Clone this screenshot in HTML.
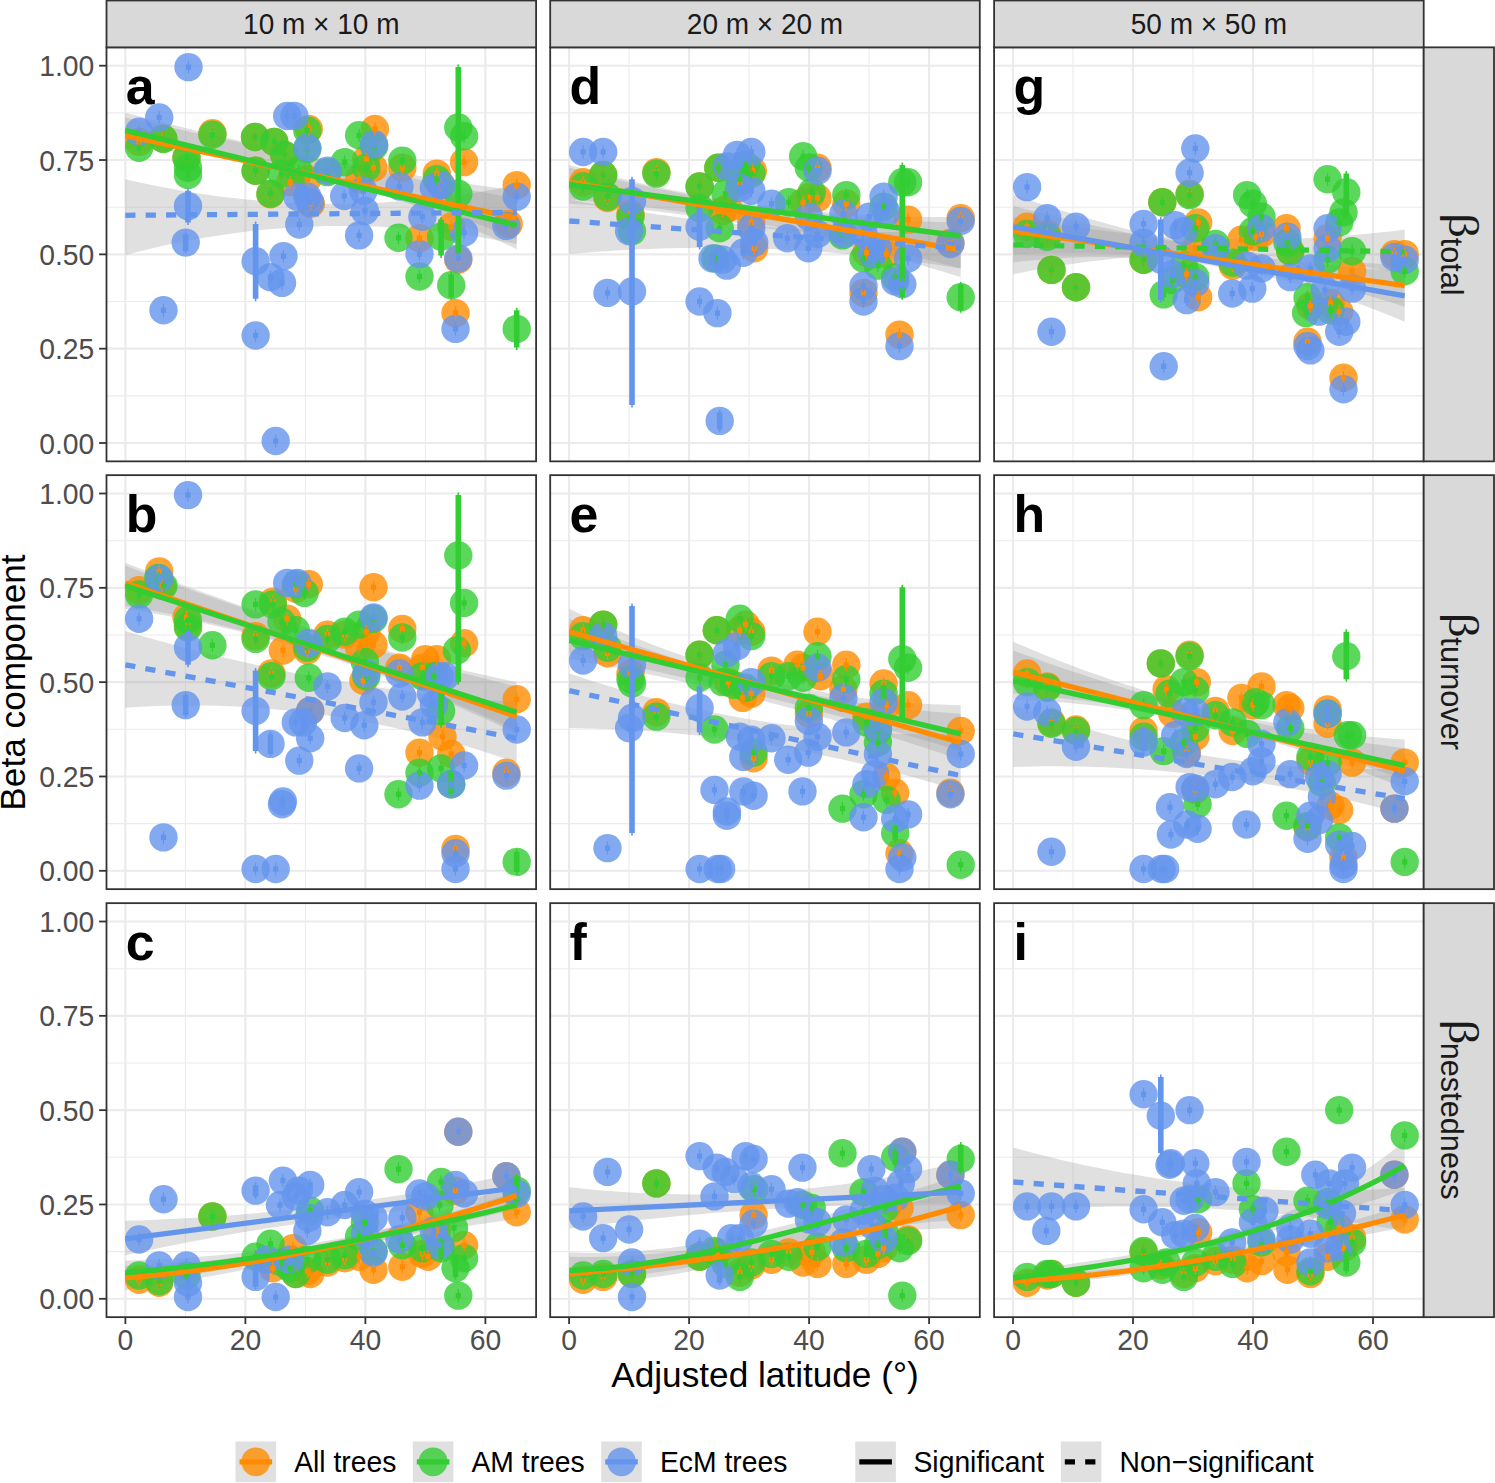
<!DOCTYPE html><html><head><meta charset="utf-8"><style>html,body{margin:0;padding:0;background:#fff;}svg{display:block;}</style></head><body><svg width="1495" height="1483" viewBox="0 0 1495 1483">
<rect width="1495" height="1483" fill="#fff"/>
<defs>
<clipPath id="cp00"><rect x="106.50" y="47.35" width="429.60" height="414.00"/></clipPath>
<clipPath id="cp01"><rect x="550.20" y="47.35" width="429.60" height="414.00"/></clipPath>
<clipPath id="cp02"><rect x="994.10" y="47.35" width="429.60" height="414.00"/></clipPath>
<clipPath id="cp10"><rect x="106.50" y="475.15" width="429.60" height="414.00"/></clipPath>
<clipPath id="cp11"><rect x="550.20" y="475.15" width="429.60" height="414.00"/></clipPath>
<clipPath id="cp12"><rect x="994.10" y="475.15" width="429.60" height="414.00"/></clipPath>
<clipPath id="cp20"><rect x="106.50" y="903.15" width="429.60" height="414.00"/></clipPath>
<clipPath id="cp21"><rect x="550.20" y="903.15" width="429.60" height="414.00"/></clipPath>
<clipPath id="cp22"><rect x="994.10" y="903.15" width="429.60" height="414.00"/></clipPath>
</defs>
<line x1="106.50" x2="536.10" y1="395.84" y2="395.84" stroke="#EBEBEB" stroke-width="1.07"/><line x1="106.50" x2="536.10" y1="301.51" y2="301.51" stroke="#EBEBEB" stroke-width="1.07"/><line x1="106.50" x2="536.10" y1="207.19" y2="207.19" stroke="#EBEBEB" stroke-width="1.07"/><line x1="106.50" x2="536.10" y1="112.86" y2="112.86" stroke="#EBEBEB" stroke-width="1.07"/><line y1="47.35" y2="461.35" x1="185.40" x2="185.40" stroke="#EBEBEB" stroke-width="1.07"/><line y1="47.35" y2="461.35" x1="305.40" x2="305.40" stroke="#EBEBEB" stroke-width="1.07"/><line y1="47.35" y2="461.35" x1="425.40" x2="425.40" stroke="#EBEBEB" stroke-width="1.07"/><line x1="106.50" x2="536.10" y1="443.00" y2="443.00" stroke="#EBEBEB" stroke-width="2.13"/><line x1="106.50" x2="536.10" y1="348.68" y2="348.68" stroke="#EBEBEB" stroke-width="2.13"/><line x1="106.50" x2="536.10" y1="254.35" y2="254.35" stroke="#EBEBEB" stroke-width="2.13"/><line x1="106.50" x2="536.10" y1="160.03" y2="160.03" stroke="#EBEBEB" stroke-width="2.13"/><line x1="106.50" x2="536.10" y1="65.70" y2="65.70" stroke="#EBEBEB" stroke-width="2.13"/><line y1="47.35" y2="461.35" x1="125.40" x2="125.40" stroke="#EBEBEB" stroke-width="2.13"/><line y1="47.35" y2="461.35" x1="245.40" x2="245.40" stroke="#EBEBEB" stroke-width="2.13"/><line y1="47.35" y2="461.35" x1="365.40" x2="365.40" stroke="#EBEBEB" stroke-width="2.13"/><line y1="47.35" y2="461.35" x1="485.40" x2="485.40" stroke="#EBEBEB" stroke-width="2.13"/>
<g clip-path="url(#cp00)">
<path d="M125.3,112.7 L135.3,115.3 L145.3,117.9 L155.4,120.5 L165.4,123.1 L175.5,125.6 L185.5,128.0 L195.5,130.5 L205.6,132.9 L215.6,135.2 L225.6,137.6 L235.7,139.9 L245.7,142.1 L255.8,144.4 L265.8,146.6 L275.8,148.7 L285.9,150.8 L295.9,152.9 L305.9,155.0 L316.0,157.0 L326.0,159.0 L336.1,161.0 L346.1,162.9 L356.1,164.8 L366.2,166.7 L376.2,168.5 L386.2,170.3 L396.3,172.0 L406.3,173.8 L416.4,175.5 L426.4,177.1 L436.4,178.7 L446.5,180.3 L456.5,181.9 L466.5,183.4 L476.6,184.9 L486.6,186.4 L496.7,187.8 L506.7,189.2 L516.7,190.5 L516.7,249.2 L506.7,244.4 L496.7,239.7 L486.6,235.1 L476.6,230.7 L466.5,226.3 L456.5,222.1 L446.5,218.0 L436.4,214.0 L426.4,210.2 L416.4,206.4 L406.3,202.8 L396.3,199.3 L386.2,195.9 L376.2,192.6 L366.2,189.4 L356.1,186.4 L346.1,183.4 L336.1,180.6 L326.0,177.9 L316.0,175.4 L305.9,172.9 L295.9,170.6 L285.9,168.3 L275.8,166.2 L265.8,164.2 L255.8,162.4 L245.7,160.6 L235.7,159.0 L225.6,157.5 L215.6,156.1 L205.6,154.8 L195.5,153.6 L185.5,152.5 L175.5,151.6 L165.4,150.8 L155.4,150.1 L145.3,149.5 L135.3,149.1 L125.3,148.7Z" fill="#999" fill-opacity="0.3"/>
<path d="M125.3,117.5 L135.3,119.7 L145.3,121.9 L155.4,124.1 L165.4,126.3 L175.5,128.5 L185.5,130.7 L195.5,132.9 L205.6,135.1 L215.6,137.2 L225.6,139.4 L235.7,141.5 L245.7,143.7 L255.8,145.8 L265.8,147.9 L275.8,150.0 L285.9,152.1 L295.9,154.2 L305.9,156.3 L316.0,158.4 L326.0,160.5 L336.1,162.6 L346.1,164.7 L356.1,166.7 L366.2,168.8 L376.2,170.8 L386.2,172.8 L396.3,174.9 L406.3,176.9 L416.4,178.9 L426.4,180.9 L436.4,182.9 L446.5,184.9 L456.5,186.9 L466.5,188.9 L476.6,190.9 L486.6,192.8 L496.7,194.8 L506.7,196.8 L516.7,198.7 L516.7,239.4 L506.7,235.2 L496.7,231.2 L486.6,227.3 L476.6,223.4 L466.5,219.6 L456.5,216.0 L446.5,212.4 L436.4,208.9 L426.4,205.4 L416.4,202.1 L406.3,198.9 L396.3,195.7 L386.2,192.6 L376.2,189.7 L366.2,186.8 L356.1,184.0 L346.1,181.3 L336.1,178.6 L326.0,176.1 L316.0,173.7 L305.9,171.3 L295.9,169.0 L285.9,166.9 L275.8,164.8 L265.8,162.8 L255.8,160.8 L245.7,159.0 L235.7,157.3 L225.6,155.6 L215.6,154.1 L205.6,152.6 L195.5,151.2 L185.5,149.9 L175.5,148.7 L165.4,147.6 L155.4,146.5 L145.3,145.6 L135.3,144.7 L125.3,144.0Z" fill="#999" fill-opacity="0.3"/>
<path d="M125.3,179.3 L135.3,181.6 L145.3,183.8 L155.4,185.8 L165.4,187.8 L175.5,189.6 L185.5,191.4 L195.5,193.0 L205.6,194.5 L215.6,195.9 L225.6,197.2 L235.7,198.3 L245.7,199.4 L255.8,200.3 L265.8,201.1 L275.8,201.9 L285.9,202.5 L295.9,202.9 L305.9,203.3 L316.0,203.6 L326.0,203.7 L336.1,203.8 L346.1,203.7 L356.1,203.5 L366.2,203.2 L376.2,202.8 L386.2,202.2 L396.3,201.6 L406.3,200.8 L416.4,200.0 L426.4,199.0 L436.4,197.9 L446.5,196.7 L456.5,195.4 L466.5,193.9 L476.6,192.4 L486.6,190.7 L496.7,189.0 L506.7,187.1 L516.7,185.1 L516.7,244.1 L506.7,242.1 L496.7,240.2 L486.6,238.3 L476.6,236.6 L466.5,235.1 L456.5,233.6 L446.5,232.3 L436.4,231.1 L426.4,230.0 L416.4,229.1 L406.3,228.3 L396.3,227.6 L386.2,227.0 L376.2,226.5 L366.2,226.2 L356.1,226.0 L346.1,225.9 L336.1,225.9 L326.0,226.1 L316.0,226.4 L305.9,226.8 L295.9,227.3 L285.9,227.9 L275.8,228.7 L265.8,229.6 L255.8,230.6 L245.7,231.8 L235.7,233.0 L225.6,234.4 L215.6,235.9 L205.6,237.6 L195.5,239.3 L185.5,241.2 L175.5,243.2 L165.4,245.3 L155.4,247.6 L145.3,250.0 L135.3,252.5 L125.3,255.1Z" fill="#999" fill-opacity="0.3"/>
<circle cx="255.0" cy="137.0" r="14.2" fill="#FF8C00" fill-opacity="0.8"/>
<circle cx="270.5" cy="194.3" r="14.2" fill="#FF8C00" fill-opacity="0.8"/>
<circle cx="458.3" cy="259.8" r="14.2" fill="#FF8C00" fill-opacity="0.8"/>
<circle cx="139.1" cy="141.9" r="14.2" fill="#FF8C00" fill-opacity="0.8"/>
<circle cx="162.9" cy="138.5" r="14.2" fill="#FF8C00" fill-opacity="0.8"/>
<circle cx="186.5" cy="157.7" r="14.2" fill="#FF8C00" fill-opacity="0.8"/>
<circle cx="212.4" cy="133.3" r="14.2" fill="#FF8C00" fill-opacity="0.8"/>
<circle cx="274.3" cy="141.9" r="14.2" fill="#FF8C00" fill-opacity="0.8"/>
<circle cx="284.3" cy="154.9" r="14.2" fill="#FF8C00" fill-opacity="0.8"/>
<circle cx="308.8" cy="129.0" r="14.2" fill="#FF8C00" fill-opacity="0.8"/>
<circle cx="290.1" cy="182.2" r="14.2" fill="#FF8C00" fill-opacity="0.8"/>
<circle cx="310.8" cy="203.8" r="14.2" fill="#FF8C00" fill-opacity="0.8"/>
<circle cx="374.9" cy="129.0" r="14.2" fill="#FF8C00" fill-opacity="0.8"/>
<circle cx="366.3" cy="159.2" r="14.2" fill="#FF8C00" fill-opacity="0.8"/>
<circle cx="373.5" cy="167.8" r="14.2" fill="#FF8C00" fill-opacity="0.8"/>
<circle cx="402.3" cy="167.8" r="14.2" fill="#FF8C00" fill-opacity="0.8"/>
<circle cx="419.5" cy="238.3" r="14.2" fill="#FF8C00" fill-opacity="0.8"/>
<circle cx="436.8" cy="173.6" r="14.2" fill="#FF8C00" fill-opacity="0.8"/>
<circle cx="464.1" cy="162.1" r="14.2" fill="#FF8C00" fill-opacity="0.8"/>
<circle cx="451.2" cy="226.8" r="14.2" fill="#FF8C00" fill-opacity="0.8"/>
<circle cx="455.5" cy="313.1" r="14.2" fill="#FF8C00" fill-opacity="0.8"/>
<circle cx="516.7" cy="185.1" r="14.2" fill="#FF8C00" fill-opacity="0.8"/>
<circle cx="508.7" cy="223.9" r="14.2" fill="#FF8C00" fill-opacity="0.8"/>
<circle cx="255.6" cy="170.7" r="14.2" fill="#FF8C00" fill-opacity="0.8"/>
<circle cx="307.3" cy="179.3" r="14.2" fill="#FF8C00" fill-opacity="0.8"/>
<circle cx="359.1" cy="179.3" r="14.2" fill="#FF8C00" fill-opacity="0.8"/>
<circle cx="441.1" cy="185.1" r="14.2" fill="#FF8C00" fill-opacity="0.8"/>
<circle cx="374.1" cy="146.2" r="14.2" fill="#32CD32" fill-opacity="0.8"/>
<circle cx="307.3" cy="149.1" r="14.2" fill="#32CD32" fill-opacity="0.8"/>
<circle cx="327.5" cy="172.1" r="14.2" fill="#32CD32" fill-opacity="0.8"/>
<circle cx="139.1" cy="147.7" r="14.2" fill="#32CD32" fill-opacity="0.8"/>
<circle cx="163.5" cy="139.0" r="14.2" fill="#32CD32" fill-opacity="0.8"/>
<circle cx="186.5" cy="157.7" r="14.2" fill="#32CD32" fill-opacity="0.8"/>
<circle cx="188.0" cy="167.8" r="14.2" fill="#32CD32" fill-opacity="0.8"/>
<circle cx="188.0" cy="175.0" r="14.2" fill="#32CD32" fill-opacity="0.8"/>
<circle cx="212.4" cy="134.7" r="14.2" fill="#32CD32" fill-opacity="0.8"/>
<circle cx="255.0" cy="137.0" r="14.2" fill="#32CD32" fill-opacity="0.8"/>
<circle cx="255.6" cy="170.7" r="14.2" fill="#32CD32" fill-opacity="0.8"/>
<circle cx="274.3" cy="141.9" r="14.2" fill="#32CD32" fill-opacity="0.8"/>
<circle cx="270.5" cy="193.7" r="14.2" fill="#32CD32" fill-opacity="0.8"/>
<circle cx="284.3" cy="154.9" r="14.2" fill="#32CD32" fill-opacity="0.8"/>
<circle cx="307.3" cy="130.4" r="14.2" fill="#32CD32" fill-opacity="0.8"/>
<circle cx="298.7" cy="170.7" r="14.2" fill="#32CD32" fill-opacity="0.8"/>
<circle cx="281.5" cy="173.6" r="14.2" fill="#32CD32" fill-opacity="0.8"/>
<circle cx="344.7" cy="162.1" r="14.2" fill="#32CD32" fill-opacity="0.8"/>
<circle cx="359.1" cy="135.3" r="14.2" fill="#32CD32" fill-opacity="0.8"/>
<circle cx="366.3" cy="167.8" r="14.2" fill="#32CD32" fill-opacity="0.8"/>
<circle cx="402.3" cy="160.6" r="14.2" fill="#32CD32" fill-opacity="0.8"/>
<circle cx="398.5" cy="237.7" r="14.2" fill="#32CD32" fill-opacity="0.8"/>
<circle cx="419.5" cy="276.5" r="14.2" fill="#32CD32" fill-opacity="0.8"/>
<circle cx="436.8" cy="179.3" r="14.2" fill="#32CD32" fill-opacity="0.8"/>
<circle cx="441.1" cy="236.8" r="14.2" fill="#32CD32" fill-opacity="0.8"/>
<circle cx="458.3" cy="127.5" r="14.2" fill="#32CD32" fill-opacity="0.8"/>
<circle cx="464.1" cy="136.2" r="14.2" fill="#32CD32" fill-opacity="0.8"/>
<circle cx="458.3" cy="193.7" r="14.2" fill="#32CD32" fill-opacity="0.8"/>
<circle cx="451.2" cy="285.2" r="14.2" fill="#32CD32" fill-opacity="0.8"/>
<circle cx="516.7" cy="328.9" r="14.2" fill="#32CD32" fill-opacity="0.8"/>
<circle cx="139.1" cy="131.8" r="14.2" fill="#6495ED" fill-opacity="0.8"/>
<circle cx="159.2" cy="117.5" r="14.2" fill="#6495ED" fill-opacity="0.8"/>
<circle cx="188.5" cy="67.1" r="14.2" fill="#6495ED" fill-opacity="0.8"/>
<circle cx="188.0" cy="206.1" r="14.2" fill="#6495ED" fill-opacity="0.8"/>
<circle cx="185.7" cy="242.6" r="14.2" fill="#6495ED" fill-opacity="0.8"/>
<circle cx="163.5" cy="310.2" r="14.2" fill="#6495ED" fill-opacity="0.8"/>
<circle cx="255.6" cy="261.3" r="14.2" fill="#6495ED" fill-opacity="0.8"/>
<circle cx="255.6" cy="335.5" r="14.2" fill="#6495ED" fill-opacity="0.8"/>
<circle cx="270.5" cy="277.1" r="14.2" fill="#6495ED" fill-opacity="0.8"/>
<circle cx="275.7" cy="441.0" r="14.2" fill="#6495ED" fill-opacity="0.8"/>
<circle cx="287.2" cy="116.0" r="14.2" fill="#6495ED" fill-opacity="0.8"/>
<circle cx="294.4" cy="116.0" r="14.2" fill="#6495ED" fill-opacity="0.8"/>
<circle cx="283.5" cy="256.1" r="14.2" fill="#6495ED" fill-opacity="0.8"/>
<circle cx="282.0" cy="282.9" r="14.2" fill="#6495ED" fill-opacity="0.8"/>
<circle cx="307.3" cy="147.7" r="14.2" fill="#6495ED" fill-opacity="0.8"/>
<circle cx="297.3" cy="196.6" r="14.2" fill="#6495ED" fill-opacity="0.8"/>
<circle cx="307.3" cy="196.6" r="14.2" fill="#6495ED" fill-opacity="0.8"/>
<circle cx="310.2" cy="202.3" r="14.2" fill="#6495ED" fill-opacity="0.8"/>
<circle cx="299.3" cy="224.5" r="14.2" fill="#6495ED" fill-opacity="0.8"/>
<circle cx="327.5" cy="170.7" r="14.2" fill="#6495ED" fill-opacity="0.8"/>
<circle cx="344.2" cy="196.0" r="14.2" fill="#6495ED" fill-opacity="0.8"/>
<circle cx="374.1" cy="144.2" r="14.2" fill="#6495ED" fill-opacity="0.8"/>
<circle cx="363.4" cy="190.8" r="14.2" fill="#6495ED" fill-opacity="0.8"/>
<circle cx="364.9" cy="210.9" r="14.2" fill="#6495ED" fill-opacity="0.8"/>
<circle cx="359.1" cy="235.4" r="14.2" fill="#6495ED" fill-opacity="0.8"/>
<circle cx="399.4" cy="186.5" r="14.2" fill="#6495ED" fill-opacity="0.8"/>
<circle cx="422.4" cy="216.7" r="14.2" fill="#6495ED" fill-opacity="0.8"/>
<circle cx="419.5" cy="254.1" r="14.2" fill="#6495ED" fill-opacity="0.8"/>
<circle cx="433.9" cy="187.9" r="14.2" fill="#6495ED" fill-opacity="0.8"/>
<circle cx="441.1" cy="185.1" r="14.2" fill="#6495ED" fill-opacity="0.8"/>
<circle cx="464.1" cy="232.5" r="14.2" fill="#6495ED" fill-opacity="0.8"/>
<circle cx="458.3" cy="258.4" r="14.2" fill="#6495ED" fill-opacity="0.8"/>
<circle cx="455.5" cy="328.9" r="14.2" fill="#6495ED" fill-opacity="0.8"/>
<circle cx="516.7" cy="196.6" r="14.2" fill="#6495ED" fill-opacity="0.8"/>
<circle cx="506.4" cy="225.9" r="14.2" fill="#6495ED" fill-opacity="0.8"/>
<path d="M255.0,130.5V143.5" stroke="#FF8C00" stroke-width="1.2"/><rect x="252.4" y="134.3" width="5.2" height="5.4" fill="#FF8C00"/>
<path d="M270.5,187.8V200.8" stroke="#FF8C00" stroke-width="1.2"/><rect x="267.9" y="191.6" width="5.2" height="5.4" fill="#FF8C00"/>
<path d="M458.3,253.3V266.3" stroke="#FF8C00" stroke-width="1.2"/><rect x="455.7" y="257.1" width="5.2" height="5.4" fill="#FF8C00"/>
<path d="M139.1,135.4V148.4" stroke="#FF8C00" stroke-width="1.2"/><rect x="136.5" y="139.2" width="5.2" height="5.4" fill="#FF8C00"/>
<path d="M162.9,132.0V145.0" stroke="#FF8C00" stroke-width="1.2"/><rect x="160.3" y="135.8" width="5.2" height="5.4" fill="#FF8C00"/>
<path d="M186.5,151.2V164.2" stroke="#FF8C00" stroke-width="1.2"/><rect x="183.9" y="155.0" width="5.2" height="5.4" fill="#FF8C00"/>
<path d="M212.4,126.8V139.8" stroke="#FF8C00" stroke-width="1.2"/><rect x="209.8" y="130.6" width="5.2" height="5.4" fill="#FF8C00"/>
<path d="M274.3,135.4V148.4" stroke="#FF8C00" stroke-width="1.2"/><rect x="271.7" y="139.2" width="5.2" height="5.4" fill="#FF8C00"/>
<path d="M284.3,148.4V161.4" stroke="#FF8C00" stroke-width="1.2"/><rect x="281.7" y="152.2" width="5.2" height="5.4" fill="#FF8C00"/>
<path d="M308.8,122.5V135.5" stroke="#FF8C00" stroke-width="1.2"/><rect x="306.2" y="126.3" width="5.2" height="5.4" fill="#FF8C00"/>
<path d="M290.1,175.7V188.7" stroke="#FF8C00" stroke-width="1.2"/><rect x="287.5" y="179.5" width="5.2" height="5.4" fill="#FF8C00"/>
<path d="M310.8,197.3V210.3" stroke="#FF8C00" stroke-width="1.2"/><rect x="308.2" y="201.1" width="5.2" height="5.4" fill="#FF8C00"/>
<path d="M374.9,122.5V135.5" stroke="#FF8C00" stroke-width="1.2"/><rect x="372.3" y="126.3" width="5.2" height="5.4" fill="#FF8C00"/>
<path d="M366.3,152.7V165.7" stroke="#FF8C00" stroke-width="1.2"/><rect x="363.7" y="156.5" width="5.2" height="5.4" fill="#FF8C00"/>
<path d="M373.5,161.3V174.3" stroke="#FF8C00" stroke-width="1.2"/><rect x="370.9" y="165.1" width="5.2" height="5.4" fill="#FF8C00"/>
<path d="M402.3,161.3V174.3" stroke="#FF8C00" stroke-width="1.2"/><rect x="399.7" y="165.1" width="5.2" height="5.4" fill="#FF8C00"/>
<path d="M419.5,231.8V244.8" stroke="#FF8C00" stroke-width="1.2"/><rect x="416.9" y="235.6" width="5.2" height="5.4" fill="#FF8C00"/>
<path d="M436.8,167.1V180.1" stroke="#FF8C00" stroke-width="1.2"/><rect x="434.2" y="170.9" width="5.2" height="5.4" fill="#FF8C00"/>
<path d="M464.1,155.6V168.6" stroke="#FF8C00" stroke-width="1.2"/><rect x="461.5" y="159.4" width="5.2" height="5.4" fill="#FF8C00"/>
<path d="M451.2,220.3V233.3" stroke="#FF8C00" stroke-width="1.2"/><rect x="448.6" y="224.1" width="5.2" height="5.4" fill="#FF8C00"/>
<path d="M455.5,306.6V319.6" stroke="#FF8C00" stroke-width="1.2"/><rect x="452.9" y="310.4" width="5.2" height="5.4" fill="#FF8C00"/>
<path d="M516.7,178.6V191.6" stroke="#FF8C00" stroke-width="1.2"/><rect x="514.1" y="182.4" width="5.2" height="5.4" fill="#FF8C00"/>
<path d="M508.7,217.4V230.4" stroke="#FF8C00" stroke-width="1.2"/><rect x="506.1" y="221.2" width="5.2" height="5.4" fill="#FF8C00"/>
<path d="M255.6,164.2V177.2" stroke="#FF8C00" stroke-width="1.2"/><rect x="253.0" y="168.0" width="5.2" height="5.4" fill="#FF8C00"/>
<path d="M307.3,172.8V185.8" stroke="#FF8C00" stroke-width="1.2"/><rect x="304.7" y="176.6" width="5.2" height="5.4" fill="#FF8C00"/>
<path d="M359.1,172.8V185.8" stroke="#FF8C00" stroke-width="1.2"/><rect x="356.5" y="176.6" width="5.2" height="5.4" fill="#FF8C00"/>
<path d="M441.1,178.6V191.6" stroke="#FF8C00" stroke-width="1.2"/><rect x="438.5" y="182.4" width="5.2" height="5.4" fill="#FF8C00"/>
<path d="M374.1,139.7V152.7" stroke="#32CD32" stroke-width="1.2"/><rect x="371.5" y="143.5" width="5.2" height="5.4" fill="#32CD32"/>
<path d="M307.3,142.6V155.6" stroke="#32CD32" stroke-width="1.2"/><rect x="304.7" y="146.4" width="5.2" height="5.4" fill="#32CD32"/>
<path d="M327.5,165.6V178.6" stroke="#32CD32" stroke-width="1.2"/><rect x="324.9" y="169.4" width="5.2" height="5.4" fill="#32CD32"/>
<path d="M139.1,141.2V154.2" stroke="#32CD32" stroke-width="1.2"/><rect x="136.5" y="145.0" width="5.2" height="5.4" fill="#32CD32"/>
<path d="M163.5,132.5V145.5" stroke="#32CD32" stroke-width="1.2"/><rect x="160.9" y="136.3" width="5.2" height="5.4" fill="#32CD32"/>
<path d="M186.5,151.2V164.2" stroke="#32CD32" stroke-width="1.2"/><rect x="183.9" y="155.0" width="5.2" height="5.4" fill="#32CD32"/>
<path d="M188.0,161.3V174.3" stroke="#32CD32" stroke-width="1.2"/><rect x="185.4" y="165.1" width="5.2" height="5.4" fill="#32CD32"/>
<path d="M188.0,168.5V181.5" stroke="#32CD32" stroke-width="1.2"/><rect x="185.4" y="172.3" width="5.2" height="5.4" fill="#32CD32"/>
<path d="M212.4,128.2V141.2" stroke="#32CD32" stroke-width="1.2"/><rect x="209.8" y="132.0" width="5.2" height="5.4" fill="#32CD32"/>
<path d="M255.0,130.5V143.5" stroke="#32CD32" stroke-width="1.2"/><rect x="252.4" y="134.3" width="5.2" height="5.4" fill="#32CD32"/>
<path d="M255.6,164.2V177.2" stroke="#32CD32" stroke-width="1.2"/><rect x="253.0" y="168.0" width="5.2" height="5.4" fill="#32CD32"/>
<path d="M274.3,135.4V148.4" stroke="#32CD32" stroke-width="1.2"/><rect x="271.7" y="139.2" width="5.2" height="5.4" fill="#32CD32"/>
<path d="M270.5,187.2V200.2" stroke="#32CD32" stroke-width="1.2"/><rect x="267.9" y="191.0" width="5.2" height="5.4" fill="#32CD32"/>
<path d="M284.3,148.4V161.4" stroke="#32CD32" stroke-width="1.2"/><rect x="281.7" y="152.2" width="5.2" height="5.4" fill="#32CD32"/>
<path d="M307.3,123.9V136.9" stroke="#32CD32" stroke-width="1.2"/><rect x="304.7" y="127.7" width="5.2" height="5.4" fill="#32CD32"/>
<path d="M298.7,164.2V177.2" stroke="#32CD32" stroke-width="1.2"/><rect x="296.1" y="168.0" width="5.2" height="5.4" fill="#32CD32"/>
<path d="M281.5,167.1V180.1" stroke="#32CD32" stroke-width="1.2"/><rect x="278.9" y="170.9" width="5.2" height="5.4" fill="#32CD32"/>
<path d="M344.7,155.6V168.6" stroke="#32CD32" stroke-width="1.2"/><rect x="342.1" y="159.4" width="5.2" height="5.4" fill="#32CD32"/>
<path d="M359.1,128.8V141.8" stroke="#32CD32" stroke-width="1.2"/><rect x="356.5" y="132.6" width="5.2" height="5.4" fill="#32CD32"/>
<path d="M366.3,161.3V174.3" stroke="#32CD32" stroke-width="1.2"/><rect x="363.7" y="165.1" width="5.2" height="5.4" fill="#32CD32"/>
<path d="M402.3,154.1V167.1" stroke="#32CD32" stroke-width="1.2"/><rect x="399.7" y="157.9" width="5.2" height="5.4" fill="#32CD32"/>
<path d="M398.5,231.2V244.2" stroke="#32CD32" stroke-width="1.2"/><rect x="395.9" y="235.0" width="5.2" height="5.4" fill="#32CD32"/>
<path d="M419.5,270.0V283.0" stroke="#32CD32" stroke-width="1.2"/><rect x="416.9" y="273.8" width="5.2" height="5.4" fill="#32CD32"/>
<path d="M436.8,172.8V185.8" stroke="#32CD32" stroke-width="1.2"/><rect x="434.2" y="176.6" width="5.2" height="5.4" fill="#32CD32"/>
<line x1="441.1" x2="441.1" y1="217.1" y2="258.0" stroke="#32CD32" stroke-width="1.6"/>
<line x1="441.1" x2="441.1" y1="219.6" y2="255.5" stroke="#32CD32" stroke-width="5.6"/>
<line x1="458.3" x2="458.3" y1="64.6" y2="256.6" stroke="#32CD32" stroke-width="1.6"/>
<line x1="458.3" x2="458.3" y1="67.1" y2="254.1" stroke="#32CD32" stroke-width="5.6"/>
<path d="M464.1,129.7V142.7" stroke="#32CD32" stroke-width="1.2"/><rect x="461.5" y="133.5" width="5.2" height="5.4" fill="#32CD32"/>
<path d="M458.3,187.2V200.2" stroke="#32CD32" stroke-width="1.2"/><rect x="455.7" y="191.0" width="5.2" height="5.4" fill="#32CD32"/>
<line x1="451.2" x2="451.2" y1="271.7" y2="299.7" stroke="#32CD32" stroke-width="1.6"/>
<line x1="451.2" x2="451.2" y1="274.2" y2="297.2" stroke="#32CD32" stroke-width="5.6"/>
<line x1="516.7" x2="516.7" y1="307.7" y2="350.1" stroke="#32CD32" stroke-width="1.6"/>
<line x1="516.7" x2="516.7" y1="310.2" y2="347.6" stroke="#32CD32" stroke-width="5.6"/>
<path d="M139.1,125.3V138.3" stroke="#6495ED" stroke-width="1.2"/><rect x="136.5" y="129.1" width="5.2" height="5.4" fill="#6495ED"/>
<path d="M159.2,111.0V124.0" stroke="#6495ED" stroke-width="1.2"/><rect x="156.6" y="114.8" width="5.2" height="5.4" fill="#6495ED"/>
<path d="M188.5,60.6V73.6" stroke="#6495ED" stroke-width="1.2"/><rect x="185.9" y="64.4" width="5.2" height="5.4" fill="#6495ED"/>
<line x1="188.0" x2="188.0" y1="188.3" y2="225.0" stroke="#6495ED" stroke-width="1.6"/>
<line x1="188.0" x2="188.0" y1="190.8" y2="222.5" stroke="#6495ED" stroke-width="5.6"/>
<line x1="185.7" x2="185.7" y1="231.5" y2="253.7" stroke="#6495ED" stroke-width="1.6"/>
<line x1="185.7" x2="185.7" y1="234.0" y2="251.2" stroke="#6495ED" stroke-width="5.6"/>
<path d="M163.5,303.7V316.7" stroke="#6495ED" stroke-width="1.2"/><rect x="160.9" y="307.5" width="5.2" height="5.4" fill="#6495ED"/>
<line x1="255.6" x2="255.6" y1="221.4" y2="301.2" stroke="#6495ED" stroke-width="1.6"/>
<line x1="255.6" x2="255.6" y1="223.9" y2="298.7" stroke="#6495ED" stroke-width="5.6"/>
<path d="M255.6,329.0V342.0" stroke="#6495ED" stroke-width="1.2"/><rect x="253.0" y="332.8" width="5.2" height="5.4" fill="#6495ED"/>
<path d="M270.5,270.6V283.6" stroke="#6495ED" stroke-width="1.2"/><rect x="267.9" y="274.4" width="5.2" height="5.4" fill="#6495ED"/>
<path d="M275.7,434.5V447.5" stroke="#6495ED" stroke-width="1.2"/><rect x="273.1" y="438.3" width="5.2" height="5.4" fill="#6495ED"/>
<path d="M287.2,109.5V122.5" stroke="#6495ED" stroke-width="1.2"/><rect x="284.6" y="113.3" width="5.2" height="5.4" fill="#6495ED"/>
<path d="M294.4,109.5V122.5" stroke="#6495ED" stroke-width="1.2"/><rect x="291.8" y="113.3" width="5.2" height="5.4" fill="#6495ED"/>
<path d="M283.5,249.6V262.6" stroke="#6495ED" stroke-width="1.2"/><rect x="280.9" y="253.4" width="5.2" height="5.4" fill="#6495ED"/>
<path d="M282.0,276.4V289.4" stroke="#6495ED" stroke-width="1.2"/><rect x="279.4" y="280.2" width="5.2" height="5.4" fill="#6495ED"/>
<path d="M307.3,141.2V154.2" stroke="#6495ED" stroke-width="1.2"/><rect x="304.7" y="145.0" width="5.2" height="5.4" fill="#6495ED"/>
<path d="M297.3,190.1V203.1" stroke="#6495ED" stroke-width="1.2"/><rect x="294.7" y="193.9" width="5.2" height="5.4" fill="#6495ED"/>
<path d="M307.3,190.1V203.1" stroke="#6495ED" stroke-width="1.2"/><rect x="304.7" y="193.9" width="5.2" height="5.4" fill="#6495ED"/>
<path d="M310.2,195.8V208.8" stroke="#6495ED" stroke-width="1.2"/><rect x="307.6" y="199.6" width="5.2" height="5.4" fill="#6495ED"/>
<path d="M299.3,218.0V231.0" stroke="#6495ED" stroke-width="1.2"/><rect x="296.7" y="221.8" width="5.2" height="5.4" fill="#6495ED"/>
<path d="M327.5,164.2V177.2" stroke="#6495ED" stroke-width="1.2"/><rect x="324.9" y="168.0" width="5.2" height="5.4" fill="#6495ED"/>
<path d="M344.2,189.5V202.5" stroke="#6495ED" stroke-width="1.2"/><rect x="341.6" y="193.3" width="5.2" height="5.4" fill="#6495ED"/>
<path d="M374.1,137.7V150.7" stroke="#6495ED" stroke-width="1.2"/><rect x="371.5" y="141.5" width="5.2" height="5.4" fill="#6495ED"/>
<path d="M363.4,184.3V197.3" stroke="#6495ED" stroke-width="1.2"/><rect x="360.8" y="188.1" width="5.2" height="5.4" fill="#6495ED"/>
<path d="M364.9,204.4V217.4" stroke="#6495ED" stroke-width="1.2"/><rect x="362.3" y="208.2" width="5.2" height="5.4" fill="#6495ED"/>
<path d="M359.1,228.9V241.9" stroke="#6495ED" stroke-width="1.2"/><rect x="356.5" y="232.7" width="5.2" height="5.4" fill="#6495ED"/>
<path d="M399.4,180.0V193.0" stroke="#6495ED" stroke-width="1.2"/><rect x="396.8" y="183.8" width="5.2" height="5.4" fill="#6495ED"/>
<path d="M422.4,210.2V223.2" stroke="#6495ED" stroke-width="1.2"/><rect x="419.8" y="214.0" width="5.2" height="5.4" fill="#6495ED"/>
<path d="M419.5,247.6V260.6" stroke="#6495ED" stroke-width="1.2"/><rect x="416.9" y="251.4" width="5.2" height="5.4" fill="#6495ED"/>
<path d="M433.9,181.4V194.4" stroke="#6495ED" stroke-width="1.2"/><rect x="431.3" y="185.2" width="5.2" height="5.4" fill="#6495ED"/>
<path d="M441.1,178.6V191.6" stroke="#6495ED" stroke-width="1.2"/><rect x="438.5" y="182.4" width="5.2" height="5.4" fill="#6495ED"/>
<path d="M464.1,226.0V239.0" stroke="#6495ED" stroke-width="1.2"/><rect x="461.5" y="229.8" width="5.2" height="5.4" fill="#6495ED"/>
<path d="M458.3,251.9V264.9" stroke="#6495ED" stroke-width="1.2"/><rect x="455.7" y="255.7" width="5.2" height="5.4" fill="#6495ED"/>
<path d="M455.5,322.4V335.4" stroke="#6495ED" stroke-width="1.2"/><rect x="452.9" y="326.2" width="5.2" height="5.4" fill="#6495ED"/>
<path d="M516.7,190.1V203.1" stroke="#6495ED" stroke-width="1.2"/><rect x="514.1" y="193.9" width="5.2" height="5.4" fill="#6495ED"/>
<path d="M506.4,219.4V232.4" stroke="#6495ED" stroke-width="1.2"/><rect x="503.8" y="223.2" width="5.2" height="5.4" fill="#6495ED"/>
<path d="M125.3,135.6 L516.7,218.1" fill="none" stroke="#FF8C00" stroke-width="5.3"/>
<path d="M125.3,130.4 L516.7,225.3" fill="none" stroke="#32CD32" stroke-width="5.3"/>
<path d="M125.3,215.3 L516.7,212.4" fill="none" stroke="#6495ED" stroke-width="5.3" stroke-dasharray="10.2,10.2"/>
</g>
<text x="125.8" y="104.4" font-family='"Liberation Sans", sans-serif' font-weight="bold" font-size="51.8" fill="#000">a</text>
<rect x="106.50" y="47.35" width="429.60" height="414.00" fill="none" stroke="#333" stroke-width="1.8"/>
<line x1="550.20" x2="979.80" y1="395.84" y2="395.84" stroke="#EBEBEB" stroke-width="1.07"/><line x1="550.20" x2="979.80" y1="301.51" y2="301.51" stroke="#EBEBEB" stroke-width="1.07"/><line x1="550.20" x2="979.80" y1="207.19" y2="207.19" stroke="#EBEBEB" stroke-width="1.07"/><line x1="550.20" x2="979.80" y1="112.86" y2="112.86" stroke="#EBEBEB" stroke-width="1.07"/><line y1="47.35" y2="461.35" x1="629.10" x2="629.10" stroke="#EBEBEB" stroke-width="1.07"/><line y1="47.35" y2="461.35" x1="749.10" x2="749.10" stroke="#EBEBEB" stroke-width="1.07"/><line y1="47.35" y2="461.35" x1="869.10" x2="869.10" stroke="#EBEBEB" stroke-width="1.07"/><line x1="550.20" x2="979.80" y1="443.00" y2="443.00" stroke="#EBEBEB" stroke-width="2.13"/><line x1="550.20" x2="979.80" y1="348.68" y2="348.68" stroke="#EBEBEB" stroke-width="2.13"/><line x1="550.20" x2="979.80" y1="254.35" y2="254.35" stroke="#EBEBEB" stroke-width="2.13"/><line x1="550.20" x2="979.80" y1="160.03" y2="160.03" stroke="#EBEBEB" stroke-width="2.13"/><line x1="550.20" x2="979.80" y1="65.70" y2="65.70" stroke="#EBEBEB" stroke-width="2.13"/><line y1="47.35" y2="461.35" x1="569.10" x2="569.10" stroke="#EBEBEB" stroke-width="2.13"/><line y1="47.35" y2="461.35" x1="689.10" x2="689.10" stroke="#EBEBEB" stroke-width="2.13"/><line y1="47.35" y2="461.35" x1="809.10" x2="809.10" stroke="#EBEBEB" stroke-width="2.13"/><line y1="47.35" y2="461.35" x1="929.10" x2="929.10" stroke="#EBEBEB" stroke-width="2.13"/>
<g clip-path="url(#cp01)">
<path d="M569.3,164.9 L579.3,167.7 L589.3,170.5 L599.4,173.1 L609.4,175.7 L619.5,178.2 L629.5,180.6 L639.5,183.0 L649.6,185.2 L659.6,187.4 L669.6,189.5 L679.7,191.5 L689.7,193.5 L699.8,195.4 L709.8,197.2 L719.8,198.9 L729.9,200.5 L739.9,202.1 L749.9,203.6 L760.0,205.0 L770.0,206.3 L780.1,207.5 L790.1,208.7 L800.1,209.8 L810.2,210.8 L820.2,211.8 L830.2,212.6 L840.3,213.4 L850.3,214.1 L860.4,214.7 L870.4,215.3 L880.4,215.7 L890.5,216.1 L900.5,216.5 L910.5,216.7 L920.6,216.8 L930.6,216.9 L940.7,216.9 L950.7,216.9 L960.7,216.7 L960.7,277.1 L950.7,274.0 L940.7,270.9 L930.6,267.9 L920.6,264.9 L910.5,262.1 L900.5,259.3 L890.5,256.5 L880.4,253.8 L870.4,251.2 L860.4,248.7 L850.3,246.2 L840.3,243.8 L830.2,241.5 L820.2,239.2 L810.2,237.0 L800.1,234.8 L790.1,232.7 L780.1,230.7 L770.0,228.8 L760.0,226.9 L749.9,225.1 L739.9,223.3 L729.9,221.6 L719.8,220.0 L709.8,218.5 L699.8,217.0 L689.7,215.6 L679.7,214.2 L669.6,213.0 L659.6,211.7 L649.6,210.6 L639.5,209.5 L629.5,208.5 L619.5,207.5 L609.4,206.6 L599.4,205.8 L589.3,205.1 L579.3,204.4 L569.3,203.8Z" fill="#999" fill-opacity="0.3"/>
<path d="M569.3,167.8 L579.3,170.4 L589.3,172.9 L599.4,175.4 L609.4,177.8 L619.5,180.2 L629.5,182.5 L639.5,184.7 L649.6,186.9 L659.6,189.0 L669.6,191.0 L679.7,193.0 L689.7,194.9 L699.8,196.7 L709.8,198.5 L719.8,200.2 L729.9,201.9 L739.9,203.5 L749.9,205.0 L760.0,206.5 L770.0,207.9 L780.1,209.2 L790.1,210.5 L800.1,211.7 L810.2,212.8 L820.2,213.9 L830.2,214.9 L840.3,215.9 L850.3,216.8 L860.4,217.6 L870.4,218.4 L880.4,219.1 L890.5,219.7 L900.5,220.3 L910.5,220.8 L920.6,221.3 L930.6,221.7 L940.7,222.0 L950.7,222.3 L960.7,222.5 L960.7,268.5 L950.7,265.8 L940.7,263.2 L930.6,260.6 L920.6,258.0 L910.5,255.5 L900.5,253.1 L890.5,250.7 L880.4,248.4 L870.4,246.1 L860.4,243.8 L850.3,241.6 L840.3,239.4 L830.2,237.3 L820.2,235.3 L810.2,233.3 L800.1,231.3 L790.1,229.4 L780.1,227.5 L770.0,225.7 L760.0,223.9 L749.9,222.2 L739.9,220.5 L729.9,218.9 L719.8,217.3 L709.8,215.8 L699.8,214.3 L689.7,212.9 L679.7,211.5 L669.6,210.2 L659.6,208.9 L649.6,207.6 L639.5,206.4 L629.5,205.3 L619.5,204.2 L609.4,203.2 L599.4,202.2 L589.3,201.2 L579.3,200.3 L569.3,199.4Z" fill="#999" fill-opacity="0.3"/>
<path d="M569.3,199.4 L579.3,201.4 L589.3,203.2 L599.4,205.1 L609.4,206.8 L619.5,208.5 L629.5,210.2 L639.5,211.7 L649.6,213.3 L659.6,214.7 L669.6,216.1 L679.7,217.5 L689.7,218.7 L699.8,220.0 L709.8,221.1 L719.8,222.2 L729.9,223.3 L739.9,224.3 L749.9,225.2 L760.0,226.1 L770.0,226.9 L780.1,227.6 L790.1,228.3 L800.1,229.0 L810.2,229.5 L820.2,230.1 L830.2,230.5 L840.3,230.9 L850.3,231.2 L860.4,231.5 L870.4,231.7 L880.4,231.9 L890.5,232.0 L900.5,232.1 L910.5,232.0 L920.6,232.0 L930.6,231.8 L940.7,231.6 L950.7,231.4 L960.7,231.1 L960.7,268.5 L950.7,266.9 L940.7,265.3 L930.6,263.8 L920.6,262.4 L910.5,261.0 L900.5,259.7 L890.5,258.5 L880.4,257.4 L870.4,256.3 L860.4,255.2 L850.3,254.3 L840.3,253.4 L830.2,252.6 L820.2,251.8 L810.2,251.1 L800.1,250.5 L790.1,249.9 L780.1,249.4 L770.0,249.0 L760.0,248.6 L749.9,248.3 L739.9,248.1 L729.9,247.9 L719.8,247.8 L709.8,247.7 L699.8,247.8 L689.7,247.9 L679.7,248.0 L669.6,248.2 L659.6,248.5 L649.6,248.9 L639.5,249.3 L629.5,249.8 L619.5,250.3 L609.4,251.0 L599.4,251.6 L589.3,252.4 L579.3,253.2 L569.3,254.1Z" fill="#999" fill-opacity="0.3"/>
<circle cx="583.1" cy="182.2" r="14.2" fill="#FF8C00" fill-opacity="0.8"/>
<circle cx="603.2" cy="175.0" r="14.2" fill="#FF8C00" fill-opacity="0.8"/>
<circle cx="607.5" cy="198.0" r="14.2" fill="#FF8C00" fill-opacity="0.8"/>
<circle cx="656.4" cy="172.1" r="14.2" fill="#FF8C00" fill-opacity="0.8"/>
<circle cx="630.5" cy="213.8" r="14.2" fill="#FF8C00" fill-opacity="0.8"/>
<circle cx="699.6" cy="186.5" r="14.2" fill="#FF8C00" fill-opacity="0.8"/>
<circle cx="718.3" cy="167.8" r="14.2" fill="#FF8C00" fill-opacity="0.8"/>
<circle cx="752.8" cy="170.7" r="14.2" fill="#FF8C00" fill-opacity="0.8"/>
<circle cx="739.8" cy="182.2" r="14.2" fill="#FF8C00" fill-opacity="0.8"/>
<circle cx="722.6" cy="210.9" r="14.2" fill="#FF8C00" fill-opacity="0.8"/>
<circle cx="728.3" cy="208.1" r="14.2" fill="#FF8C00" fill-opacity="0.8"/>
<circle cx="751.3" cy="222.5" r="14.2" fill="#FF8C00" fill-opacity="0.8"/>
<circle cx="754.2" cy="248.3" r="14.2" fill="#FF8C00" fill-opacity="0.8"/>
<circle cx="803.1" cy="202.3" r="14.2" fill="#FF8C00" fill-opacity="0.8"/>
<circle cx="817.5" cy="167.8" r="14.2" fill="#FF8C00" fill-opacity="0.8"/>
<circle cx="817.5" cy="198.0" r="14.2" fill="#FF8C00" fill-opacity="0.8"/>
<circle cx="810.3" cy="196.6" r="14.2" fill="#FF8C00" fill-opacity="0.8"/>
<circle cx="846.3" cy="203.8" r="14.2" fill="#FF8C00" fill-opacity="0.8"/>
<circle cx="866.4" cy="252.7" r="14.2" fill="#FF8C00" fill-opacity="0.8"/>
<circle cx="886.5" cy="254.1" r="14.2" fill="#FF8C00" fill-opacity="0.8"/>
<circle cx="908.1" cy="219.6" r="14.2" fill="#FF8C00" fill-opacity="0.8"/>
<circle cx="899.5" cy="334.6" r="14.2" fill="#FF8C00" fill-opacity="0.8"/>
<circle cx="863.5" cy="292.9" r="14.2" fill="#FF8C00" fill-opacity="0.8"/>
<circle cx="960.7" cy="218.1" r="14.2" fill="#FF8C00" fill-opacity="0.8"/>
<circle cx="950.4" cy="242.6" r="14.2" fill="#FF8C00" fill-opacity="0.8"/>
<circle cx="583.1" cy="186.5" r="14.2" fill="#32CD32" fill-opacity="0.8"/>
<circle cx="603.2" cy="175.0" r="14.2" fill="#32CD32" fill-opacity="0.8"/>
<circle cx="607.5" cy="196.6" r="14.2" fill="#32CD32" fill-opacity="0.8"/>
<circle cx="656.4" cy="173.6" r="14.2" fill="#32CD32" fill-opacity="0.8"/>
<circle cx="630.5" cy="216.7" r="14.2" fill="#32CD32" fill-opacity="0.8"/>
<circle cx="632.0" cy="231.1" r="14.2" fill="#32CD32" fill-opacity="0.8"/>
<circle cx="699.6" cy="186.5" r="14.2" fill="#32CD32" fill-opacity="0.8"/>
<circle cx="699.6" cy="208.1" r="14.2" fill="#32CD32" fill-opacity="0.8"/>
<circle cx="718.3" cy="167.8" r="14.2" fill="#32CD32" fill-opacity="0.8"/>
<circle cx="719.7" cy="228.2" r="14.2" fill="#32CD32" fill-opacity="0.8"/>
<circle cx="715.4" cy="258.4" r="14.2" fill="#32CD32" fill-opacity="0.8"/>
<circle cx="725.5" cy="193.7" r="14.2" fill="#32CD32" fill-opacity="0.8"/>
<circle cx="739.8" cy="179.3" r="14.2" fill="#32CD32" fill-opacity="0.8"/>
<circle cx="751.3" cy="173.6" r="14.2" fill="#32CD32" fill-opacity="0.8"/>
<circle cx="745.6" cy="164.9" r="14.2" fill="#32CD32" fill-opacity="0.8"/>
<circle cx="788.7" cy="202.3" r="14.2" fill="#32CD32" fill-opacity="0.8"/>
<circle cx="803.1" cy="156.3" r="14.2" fill="#32CD32" fill-opacity="0.8"/>
<circle cx="808.9" cy="167.8" r="14.2" fill="#32CD32" fill-opacity="0.8"/>
<circle cx="811.7" cy="192.3" r="14.2" fill="#32CD32" fill-opacity="0.8"/>
<circle cx="846.3" cy="195.1" r="14.2" fill="#32CD32" fill-opacity="0.8"/>
<circle cx="842.5" cy="235.4" r="14.2" fill="#32CD32" fill-opacity="0.8"/>
<circle cx="863.5" cy="258.4" r="14.2" fill="#32CD32" fill-opacity="0.8"/>
<circle cx="877.9" cy="265.6" r="14.2" fill="#32CD32" fill-opacity="0.8"/>
<circle cx="883.6" cy="206.6" r="14.2" fill="#32CD32" fill-opacity="0.8"/>
<circle cx="902.3" cy="182.2" r="14.2" fill="#32CD32" fill-opacity="0.8"/>
<circle cx="908.1" cy="182.2" r="14.2" fill="#32CD32" fill-opacity="0.8"/>
<circle cx="895.2" cy="277.1" r="14.2" fill="#32CD32" fill-opacity="0.8"/>
<circle cx="960.7" cy="297.2" r="14.2" fill="#32CD32" fill-opacity="0.8"/>
<circle cx="583.1" cy="152.0" r="14.2" fill="#6495ED" fill-opacity="0.8"/>
<circle cx="603.2" cy="152.0" r="14.2" fill="#6495ED" fill-opacity="0.8"/>
<circle cx="632.0" cy="200.9" r="14.2" fill="#6495ED" fill-opacity="0.8"/>
<circle cx="629.1" cy="231.1" r="14.2" fill="#6495ED" fill-opacity="0.8"/>
<circle cx="632.0" cy="291.5" r="14.2" fill="#6495ED" fill-opacity="0.8"/>
<circle cx="607.5" cy="292.9" r="14.2" fill="#6495ED" fill-opacity="0.8"/>
<circle cx="699.6" cy="226.8" r="14.2" fill="#6495ED" fill-opacity="0.8"/>
<circle cx="699.6" cy="301.5" r="14.2" fill="#6495ED" fill-opacity="0.8"/>
<circle cx="717.4" cy="313.1" r="14.2" fill="#6495ED" fill-opacity="0.8"/>
<circle cx="719.7" cy="420.9" r="14.2" fill="#6495ED" fill-opacity="0.8"/>
<circle cx="737.0" cy="154.9" r="14.2" fill="#6495ED" fill-opacity="0.8"/>
<circle cx="751.3" cy="152.0" r="14.2" fill="#6495ED" fill-opacity="0.8"/>
<circle cx="739.8" cy="187.9" r="14.2" fill="#6495ED" fill-opacity="0.8"/>
<circle cx="726.9" cy="166.4" r="14.2" fill="#6495ED" fill-opacity="0.8"/>
<circle cx="751.3" cy="190.8" r="14.2" fill="#6495ED" fill-opacity="0.8"/>
<circle cx="771.5" cy="203.8" r="14.2" fill="#6495ED" fill-opacity="0.8"/>
<circle cx="751.3" cy="228.2" r="14.2" fill="#6495ED" fill-opacity="0.8"/>
<circle cx="743.3" cy="252.7" r="14.2" fill="#6495ED" fill-opacity="0.8"/>
<circle cx="726.9" cy="265.6" r="14.2" fill="#6495ED" fill-opacity="0.8"/>
<circle cx="712.5" cy="258.4" r="14.2" fill="#6495ED" fill-opacity="0.8"/>
<circle cx="722.6" cy="259.8" r="14.2" fill="#6495ED" fill-opacity="0.8"/>
<circle cx="754.2" cy="242.6" r="14.2" fill="#6495ED" fill-opacity="0.8"/>
<circle cx="787.3" cy="238.3" r="14.2" fill="#6495ED" fill-opacity="0.8"/>
<circle cx="808.3" cy="248.3" r="14.2" fill="#6495ED" fill-opacity="0.8"/>
<circle cx="808.9" cy="216.7" r="14.2" fill="#6495ED" fill-opacity="0.8"/>
<circle cx="817.5" cy="170.7" r="14.2" fill="#6495ED" fill-opacity="0.8"/>
<circle cx="817.5" cy="234.0" r="14.2" fill="#6495ED" fill-opacity="0.8"/>
<circle cx="843.4" cy="213.8" r="14.2" fill="#6495ED" fill-opacity="0.8"/>
<circle cx="843.4" cy="234.0" r="14.2" fill="#6495ED" fill-opacity="0.8"/>
<circle cx="863.5" cy="234.0" r="14.2" fill="#6495ED" fill-opacity="0.8"/>
<circle cx="869.3" cy="216.7" r="14.2" fill="#6495ED" fill-opacity="0.8"/>
<circle cx="883.6" cy="196.6" r="14.2" fill="#6495ED" fill-opacity="0.8"/>
<circle cx="886.5" cy="212.4" r="14.2" fill="#6495ED" fill-opacity="0.8"/>
<circle cx="872.1" cy="254.1" r="14.2" fill="#6495ED" fill-opacity="0.8"/>
<circle cx="877.9" cy="248.3" r="14.2" fill="#6495ED" fill-opacity="0.8"/>
<circle cx="908.1" cy="258.4" r="14.2" fill="#6495ED" fill-opacity="0.8"/>
<circle cx="895.2" cy="281.4" r="14.2" fill="#6495ED" fill-opacity="0.8"/>
<circle cx="902.3" cy="284.3" r="14.2" fill="#6495ED" fill-opacity="0.8"/>
<circle cx="863.5" cy="285.7" r="14.2" fill="#6495ED" fill-opacity="0.8"/>
<circle cx="863.5" cy="301.5" r="14.2" fill="#6495ED" fill-opacity="0.8"/>
<circle cx="899.5" cy="346.1" r="14.2" fill="#6495ED" fill-opacity="0.8"/>
<circle cx="950.4" cy="244.0" r="14.2" fill="#6495ED" fill-opacity="0.8"/>
<circle cx="960.7" cy="221.0" r="14.2" fill="#6495ED" fill-opacity="0.8"/>
<path d="M583.1,175.7V188.7" stroke="#FF8C00" stroke-width="1.2"/><rect x="580.5" y="179.5" width="5.2" height="5.4" fill="#FF8C00"/>
<path d="M603.2,168.5V181.5" stroke="#FF8C00" stroke-width="1.2"/><rect x="600.6" y="172.3" width="5.2" height="5.4" fill="#FF8C00"/>
<path d="M607.5,191.5V204.5" stroke="#FF8C00" stroke-width="1.2"/><rect x="604.9" y="195.3" width="5.2" height="5.4" fill="#FF8C00"/>
<path d="M656.4,165.6V178.6" stroke="#FF8C00" stroke-width="1.2"/><rect x="653.8" y="169.4" width="5.2" height="5.4" fill="#FF8C00"/>
<path d="M630.5,207.3V220.3" stroke="#FF8C00" stroke-width="1.2"/><rect x="627.9" y="211.1" width="5.2" height="5.4" fill="#FF8C00"/>
<path d="M699.6,180.0V193.0" stroke="#FF8C00" stroke-width="1.2"/><rect x="697.0" y="183.8" width="5.2" height="5.4" fill="#FF8C00"/>
<path d="M718.3,161.3V174.3" stroke="#FF8C00" stroke-width="1.2"/><rect x="715.7" y="165.1" width="5.2" height="5.4" fill="#FF8C00"/>
<path d="M752.8,164.2V177.2" stroke="#FF8C00" stroke-width="1.2"/><rect x="750.2" y="168.0" width="5.2" height="5.4" fill="#FF8C00"/>
<path d="M739.8,175.7V188.7" stroke="#FF8C00" stroke-width="1.2"/><rect x="737.2" y="179.5" width="5.2" height="5.4" fill="#FF8C00"/>
<path d="M722.6,204.4V217.4" stroke="#FF8C00" stroke-width="1.2"/><rect x="720.0" y="208.2" width="5.2" height="5.4" fill="#FF8C00"/>
<path d="M728.3,201.6V214.6" stroke="#FF8C00" stroke-width="1.2"/><rect x="725.7" y="205.4" width="5.2" height="5.4" fill="#FF8C00"/>
<path d="M751.3,216.0V229.0" stroke="#FF8C00" stroke-width="1.2"/><rect x="748.7" y="219.8" width="5.2" height="5.4" fill="#FF8C00"/>
<path d="M754.2,241.8V254.8" stroke="#FF8C00" stroke-width="1.2"/><rect x="751.6" y="245.6" width="5.2" height="5.4" fill="#FF8C00"/>
<path d="M803.1,195.8V208.8" stroke="#FF8C00" stroke-width="1.2"/><rect x="800.5" y="199.6" width="5.2" height="5.4" fill="#FF8C00"/>
<path d="M817.5,161.3V174.3" stroke="#FF8C00" stroke-width="1.2"/><rect x="814.9" y="165.1" width="5.2" height="5.4" fill="#FF8C00"/>
<path d="M817.5,191.5V204.5" stroke="#FF8C00" stroke-width="1.2"/><rect x="814.9" y="195.3" width="5.2" height="5.4" fill="#FF8C00"/>
<path d="M810.3,190.1V203.1" stroke="#FF8C00" stroke-width="1.2"/><rect x="807.7" y="193.9" width="5.2" height="5.4" fill="#FF8C00"/>
<path d="M846.3,197.3V210.3" stroke="#FF8C00" stroke-width="1.2"/><rect x="843.7" y="201.1" width="5.2" height="5.4" fill="#FF8C00"/>
<path d="M866.4,246.2V259.2" stroke="#FF8C00" stroke-width="1.2"/><rect x="863.8" y="250.0" width="5.2" height="5.4" fill="#FF8C00"/>
<path d="M886.5,247.6V260.6" stroke="#FF8C00" stroke-width="1.2"/><rect x="883.9" y="251.4" width="5.2" height="5.4" fill="#FF8C00"/>
<path d="M908.1,213.1V226.1" stroke="#FF8C00" stroke-width="1.2"/><rect x="905.5" y="216.9" width="5.2" height="5.4" fill="#FF8C00"/>
<path d="M899.5,328.1V341.1" stroke="#FF8C00" stroke-width="1.2"/><rect x="896.9" y="331.9" width="5.2" height="5.4" fill="#FF8C00"/>
<path d="M863.5,286.4V299.4" stroke="#FF8C00" stroke-width="1.2"/><rect x="860.9" y="290.2" width="5.2" height="5.4" fill="#FF8C00"/>
<path d="M960.7,211.6V224.6" stroke="#FF8C00" stroke-width="1.2"/><rect x="958.1" y="215.4" width="5.2" height="5.4" fill="#FF8C00"/>
<path d="M950.4,236.1V249.1" stroke="#FF8C00" stroke-width="1.2"/><rect x="947.8" y="239.9" width="5.2" height="5.4" fill="#FF8C00"/>
<path d="M583.1,180.0V193.0" stroke="#32CD32" stroke-width="1.2"/><rect x="580.5" y="183.8" width="5.2" height="5.4" fill="#32CD32"/>
<path d="M603.2,168.5V181.5" stroke="#32CD32" stroke-width="1.2"/><rect x="600.6" y="172.3" width="5.2" height="5.4" fill="#32CD32"/>
<path d="M607.5,190.1V203.1" stroke="#32CD32" stroke-width="1.2"/><rect x="604.9" y="193.9" width="5.2" height="5.4" fill="#32CD32"/>
<path d="M656.4,167.1V180.1" stroke="#32CD32" stroke-width="1.2"/><rect x="653.8" y="170.9" width="5.2" height="5.4" fill="#32CD32"/>
<path d="M630.5,210.2V223.2" stroke="#32CD32" stroke-width="1.2"/><rect x="627.9" y="214.0" width="5.2" height="5.4" fill="#32CD32"/>
<path d="M632.0,224.6V237.6" stroke="#32CD32" stroke-width="1.2"/><rect x="629.4" y="228.4" width="5.2" height="5.4" fill="#32CD32"/>
<path d="M699.6,180.0V193.0" stroke="#32CD32" stroke-width="1.2"/><rect x="697.0" y="183.8" width="5.2" height="5.4" fill="#32CD32"/>
<path d="M699.6,201.6V214.6" stroke="#32CD32" stroke-width="1.2"/><rect x="697.0" y="205.4" width="5.2" height="5.4" fill="#32CD32"/>
<path d="M718.3,161.3V174.3" stroke="#32CD32" stroke-width="1.2"/><rect x="715.7" y="165.1" width="5.2" height="5.4" fill="#32CD32"/>
<path d="M719.7,221.7V234.7" stroke="#32CD32" stroke-width="1.2"/><rect x="717.1" y="225.5" width="5.2" height="5.4" fill="#32CD32"/>
<path d="M715.4,251.9V264.9" stroke="#32CD32" stroke-width="1.2"/><rect x="712.8" y="255.7" width="5.2" height="5.4" fill="#32CD32"/>
<path d="M725.5,187.2V200.2" stroke="#32CD32" stroke-width="1.2"/><rect x="722.9" y="191.0" width="5.2" height="5.4" fill="#32CD32"/>
<path d="M739.8,172.8V185.8" stroke="#32CD32" stroke-width="1.2"/><rect x="737.2" y="176.6" width="5.2" height="5.4" fill="#32CD32"/>
<path d="M751.3,167.1V180.1" stroke="#32CD32" stroke-width="1.2"/><rect x="748.7" y="170.9" width="5.2" height="5.4" fill="#32CD32"/>
<path d="M745.6,158.4V171.4" stroke="#32CD32" stroke-width="1.2"/><rect x="743.0" y="162.2" width="5.2" height="5.4" fill="#32CD32"/>
<path d="M788.7,195.8V208.8" stroke="#32CD32" stroke-width="1.2"/><rect x="786.1" y="199.6" width="5.2" height="5.4" fill="#32CD32"/>
<path d="M803.1,149.8V162.8" stroke="#32CD32" stroke-width="1.2"/><rect x="800.5" y="153.6" width="5.2" height="5.4" fill="#32CD32"/>
<path d="M808.9,161.3V174.3" stroke="#32CD32" stroke-width="1.2"/><rect x="806.3" y="165.1" width="5.2" height="5.4" fill="#32CD32"/>
<path d="M811.7,185.8V198.8" stroke="#32CD32" stroke-width="1.2"/><rect x="809.1" y="189.6" width="5.2" height="5.4" fill="#32CD32"/>
<path d="M846.3,188.6V201.6" stroke="#32CD32" stroke-width="1.2"/><rect x="843.7" y="192.4" width="5.2" height="5.4" fill="#32CD32"/>
<path d="M842.5,228.9V241.9" stroke="#32CD32" stroke-width="1.2"/><rect x="839.9" y="232.7" width="5.2" height="5.4" fill="#32CD32"/>
<path d="M863.5,251.9V264.9" stroke="#32CD32" stroke-width="1.2"/><rect x="860.9" y="255.7" width="5.2" height="5.4" fill="#32CD32"/>
<path d="M877.9,259.1V272.1" stroke="#32CD32" stroke-width="1.2"/><rect x="875.3" y="262.9" width="5.2" height="5.4" fill="#32CD32"/>
<path d="M883.6,200.1V213.1" stroke="#32CD32" stroke-width="1.2"/><rect x="881.0" y="203.9" width="5.2" height="5.4" fill="#32CD32"/>
<line x1="902.3" x2="902.3" y1="162.4" y2="299.7" stroke="#32CD32" stroke-width="1.6"/>
<line x1="902.3" x2="902.3" y1="164.9" y2="297.2" stroke="#32CD32" stroke-width="5.6"/>
<path d="M908.1,175.7V188.7" stroke="#32CD32" stroke-width="1.2"/><rect x="905.5" y="179.5" width="5.2" height="5.4" fill="#32CD32"/>
<path d="M895.2,270.6V283.6" stroke="#32CD32" stroke-width="1.2"/><rect x="892.6" y="274.4" width="5.2" height="5.4" fill="#32CD32"/>
<line x1="960.7" x2="960.7" y1="281.8" y2="312.7" stroke="#32CD32" stroke-width="1.6"/>
<line x1="960.7" x2="960.7" y1="284.3" y2="310.2" stroke="#32CD32" stroke-width="5.6"/>
<path d="M583.1,145.5V158.5" stroke="#6495ED" stroke-width="1.2"/><rect x="580.5" y="149.3" width="5.2" height="5.4" fill="#6495ED"/>
<path d="M603.2,145.5V158.5" stroke="#6495ED" stroke-width="1.2"/><rect x="600.6" y="149.3" width="5.2" height="5.4" fill="#6495ED"/>
<path d="M632.0,194.4V207.4" stroke="#6495ED" stroke-width="1.2"/><rect x="629.4" y="198.2" width="5.2" height="5.4" fill="#6495ED"/>
<path d="M629.1,224.6V237.6" stroke="#6495ED" stroke-width="1.2"/><rect x="626.5" y="228.4" width="5.2" height="5.4" fill="#6495ED"/>
<line x1="632.0" x2="632.0" y1="176.8" y2="407.6" stroke="#6495ED" stroke-width="1.6"/>
<line x1="632.0" x2="632.0" y1="179.3" y2="405.1" stroke="#6495ED" stroke-width="5.6"/>
<path d="M607.5,286.4V299.4" stroke="#6495ED" stroke-width="1.2"/><rect x="604.9" y="290.2" width="5.2" height="5.4" fill="#6495ED"/>
<line x1="699.6" x2="699.6" y1="205.6" y2="249.4" stroke="#6495ED" stroke-width="1.6"/>
<line x1="699.6" x2="699.6" y1="208.1" y2="246.9" stroke="#6495ED" stroke-width="5.6"/>
<path d="M699.6,295.0V308.0" stroke="#6495ED" stroke-width="1.2"/><rect x="697.0" y="298.8" width="5.2" height="5.4" fill="#6495ED"/>
<path d="M717.4,306.6V319.6" stroke="#6495ED" stroke-width="1.2"/><rect x="714.8" y="310.4" width="5.2" height="5.4" fill="#6495ED"/>
<line x1="719.7" x2="719.7" y1="409.8" y2="432.0" stroke="#6495ED" stroke-width="1.6"/>
<line x1="719.7" x2="719.7" y1="412.3" y2="429.5" stroke="#6495ED" stroke-width="5.6"/>
<path d="M737.0,148.4V161.4" stroke="#6495ED" stroke-width="1.2"/><rect x="734.4" y="152.2" width="5.2" height="5.4" fill="#6495ED"/>
<path d="M751.3,145.5V158.5" stroke="#6495ED" stroke-width="1.2"/><rect x="748.7" y="149.3" width="5.2" height="5.4" fill="#6495ED"/>
<path d="M739.8,181.4V194.4" stroke="#6495ED" stroke-width="1.2"/><rect x="737.2" y="185.2" width="5.2" height="5.4" fill="#6495ED"/>
<path d="M726.9,159.9V172.9" stroke="#6495ED" stroke-width="1.2"/><rect x="724.3" y="163.7" width="5.2" height="5.4" fill="#6495ED"/>
<path d="M751.3,184.3V197.3" stroke="#6495ED" stroke-width="1.2"/><rect x="748.7" y="188.1" width="5.2" height="5.4" fill="#6495ED"/>
<path d="M771.5,197.3V210.3" stroke="#6495ED" stroke-width="1.2"/><rect x="768.9" y="201.1" width="5.2" height="5.4" fill="#6495ED"/>
<path d="M751.3,221.7V234.7" stroke="#6495ED" stroke-width="1.2"/><rect x="748.7" y="225.5" width="5.2" height="5.4" fill="#6495ED"/>
<path d="M743.3,246.2V259.2" stroke="#6495ED" stroke-width="1.2"/><rect x="740.7" y="250.0" width="5.2" height="5.4" fill="#6495ED"/>
<path d="M726.9,259.1V272.1" stroke="#6495ED" stroke-width="1.2"/><rect x="724.3" y="262.9" width="5.2" height="5.4" fill="#6495ED"/>
<path d="M712.5,251.9V264.9" stroke="#6495ED" stroke-width="1.2"/><rect x="709.9" y="255.7" width="5.2" height="5.4" fill="#6495ED"/>
<path d="M722.6,253.3V266.3" stroke="#6495ED" stroke-width="1.2"/><rect x="720.0" y="257.1" width="5.2" height="5.4" fill="#6495ED"/>
<path d="M754.2,236.1V249.1" stroke="#6495ED" stroke-width="1.2"/><rect x="751.6" y="239.9" width="5.2" height="5.4" fill="#6495ED"/>
<path d="M787.3,231.8V244.8" stroke="#6495ED" stroke-width="1.2"/><rect x="784.7" y="235.6" width="5.2" height="5.4" fill="#6495ED"/>
<path d="M808.3,241.8V254.8" stroke="#6495ED" stroke-width="1.2"/><rect x="805.7" y="245.6" width="5.2" height="5.4" fill="#6495ED"/>
<path d="M808.9,210.2V223.2" stroke="#6495ED" stroke-width="1.2"/><rect x="806.3" y="214.0" width="5.2" height="5.4" fill="#6495ED"/>
<path d="M817.5,164.2V177.2" stroke="#6495ED" stroke-width="1.2"/><rect x="814.9" y="168.0" width="5.2" height="5.4" fill="#6495ED"/>
<path d="M817.5,227.5V240.5" stroke="#6495ED" stroke-width="1.2"/><rect x="814.9" y="231.3" width="5.2" height="5.4" fill="#6495ED"/>
<path d="M843.4,207.3V220.3" stroke="#6495ED" stroke-width="1.2"/><rect x="840.8" y="211.1" width="5.2" height="5.4" fill="#6495ED"/>
<path d="M843.4,227.5V240.5" stroke="#6495ED" stroke-width="1.2"/><rect x="840.8" y="231.3" width="5.2" height="5.4" fill="#6495ED"/>
<path d="M863.5,227.5V240.5" stroke="#6495ED" stroke-width="1.2"/><rect x="860.9" y="231.3" width="5.2" height="5.4" fill="#6495ED"/>
<path d="M869.3,210.2V223.2" stroke="#6495ED" stroke-width="1.2"/><rect x="866.7" y="214.0" width="5.2" height="5.4" fill="#6495ED"/>
<path d="M883.6,190.1V203.1" stroke="#6495ED" stroke-width="1.2"/><rect x="881.0" y="193.9" width="5.2" height="5.4" fill="#6495ED"/>
<path d="M886.5,205.9V218.9" stroke="#6495ED" stroke-width="1.2"/><rect x="883.9" y="209.7" width="5.2" height="5.4" fill="#6495ED"/>
<path d="M872.1,247.6V260.6" stroke="#6495ED" stroke-width="1.2"/><rect x="869.5" y="251.4" width="5.2" height="5.4" fill="#6495ED"/>
<path d="M877.9,241.8V254.8" stroke="#6495ED" stroke-width="1.2"/><rect x="875.3" y="245.6" width="5.2" height="5.4" fill="#6495ED"/>
<path d="M908.1,251.9V264.9" stroke="#6495ED" stroke-width="1.2"/><rect x="905.5" y="255.7" width="5.2" height="5.4" fill="#6495ED"/>
<path d="M895.2,274.9V287.9" stroke="#6495ED" stroke-width="1.2"/><rect x="892.6" y="278.7" width="5.2" height="5.4" fill="#6495ED"/>
<path d="M902.3,277.8V290.8" stroke="#6495ED" stroke-width="1.2"/><rect x="899.7" y="281.6" width="5.2" height="5.4" fill="#6495ED"/>
<path d="M863.5,279.2V292.2" stroke="#6495ED" stroke-width="1.2"/><rect x="860.9" y="283.0" width="5.2" height="5.4" fill="#6495ED"/>
<path d="M863.5,295.0V308.0" stroke="#6495ED" stroke-width="1.2"/><rect x="860.9" y="298.8" width="5.2" height="5.4" fill="#6495ED"/>
<path d="M899.5,339.6V352.6" stroke="#6495ED" stroke-width="1.2"/><rect x="896.9" y="343.4" width="5.2" height="5.4" fill="#6495ED"/>
<path d="M950.4,237.5V250.5" stroke="#6495ED" stroke-width="1.2"/><rect x="947.8" y="241.3" width="5.2" height="5.4" fill="#6495ED"/>
<path d="M960.7,214.5V227.5" stroke="#6495ED" stroke-width="1.2"/><rect x="958.1" y="218.3" width="5.2" height="5.4" fill="#6495ED"/>
<path d="M569.3,182.2 L960.7,249.8" fill="none" stroke="#FF8C00" stroke-width="5.3"/>
<path d="M569.3,184.5 L960.7,236.0" fill="none" stroke="#32CD32" stroke-width="5.3"/>
<path d="M569.3,221.0 L960.7,248.3" fill="none" stroke="#6495ED" stroke-width="5.3" stroke-dasharray="10.2,10.2"/>
</g>
<text x="569.5" y="104.4" font-family='"Liberation Sans", sans-serif' font-weight="bold" font-size="51.8" fill="#000">d</text>
<rect x="550.20" y="47.35" width="429.60" height="414.00" fill="none" stroke="#333" stroke-width="1.8"/>
<line x1="994.10" x2="1423.70" y1="395.84" y2="395.84" stroke="#EBEBEB" stroke-width="1.07"/><line x1="994.10" x2="1423.70" y1="301.51" y2="301.51" stroke="#EBEBEB" stroke-width="1.07"/><line x1="994.10" x2="1423.70" y1="207.19" y2="207.19" stroke="#EBEBEB" stroke-width="1.07"/><line x1="994.10" x2="1423.70" y1="112.86" y2="112.86" stroke="#EBEBEB" stroke-width="1.07"/><line y1="47.35" y2="461.35" x1="1073.00" x2="1073.00" stroke="#EBEBEB" stroke-width="1.07"/><line y1="47.35" y2="461.35" x1="1193.00" x2="1193.00" stroke="#EBEBEB" stroke-width="1.07"/><line y1="47.35" y2="461.35" x1="1313.00" x2="1313.00" stroke="#EBEBEB" stroke-width="1.07"/><line x1="994.10" x2="1423.70" y1="443.00" y2="443.00" stroke="#EBEBEB" stroke-width="2.13"/><line x1="994.10" x2="1423.70" y1="348.68" y2="348.68" stroke="#EBEBEB" stroke-width="2.13"/><line x1="994.10" x2="1423.70" y1="254.35" y2="254.35" stroke="#EBEBEB" stroke-width="2.13"/><line x1="994.10" x2="1423.70" y1="160.03" y2="160.03" stroke="#EBEBEB" stroke-width="2.13"/><line x1="994.10" x2="1423.70" y1="65.70" y2="65.70" stroke="#EBEBEB" stroke-width="2.13"/><line y1="47.35" y2="461.35" x1="1013.00" x2="1013.00" stroke="#EBEBEB" stroke-width="2.13"/><line y1="47.35" y2="461.35" x1="1133.00" x2="1133.00" stroke="#EBEBEB" stroke-width="2.13"/><line y1="47.35" y2="461.35" x1="1253.00" x2="1253.00" stroke="#EBEBEB" stroke-width="2.13"/><line y1="47.35" y2="461.35" x1="1373.00" x2="1373.00" stroke="#EBEBEB" stroke-width="2.13"/>
<g clip-path="url(#cp02)">
<path d="M1013.3,205.8 L1023.3,208.5 L1033.3,211.1 L1043.4,213.6 L1053.4,216.1 L1063.5,218.6 L1073.5,221.0 L1083.5,223.3 L1093.6,225.5 L1103.6,227.7 L1113.6,229.8 L1123.7,231.9 L1133.7,233.9 L1143.8,235.9 L1153.8,237.8 L1163.8,239.6 L1173.9,241.3 L1183.9,243.0 L1193.9,244.7 L1204.0,246.2 L1214.0,247.7 L1224.1,249.2 L1234.1,250.6 L1244.1,251.9 L1254.2,253.2 L1264.2,254.4 L1274.2,255.5 L1284.3,256.6 L1294.3,257.6 L1304.4,258.6 L1314.4,259.5 L1324.4,260.3 L1334.5,261.1 L1344.5,261.8 L1354.5,262.4 L1364.6,263.0 L1374.6,263.5 L1384.7,264.0 L1394.7,264.4 L1404.7,264.7 L1404.7,306.7 L1394.7,303.5 L1384.7,300.5 L1374.6,297.5 L1364.6,294.6 L1354.5,291.8 L1344.5,289.1 L1334.5,286.5 L1324.4,284.0 L1314.4,281.6 L1304.4,279.3 L1294.3,277.1 L1284.3,274.9 L1274.2,272.9 L1264.2,271.0 L1254.2,269.2 L1244.1,267.4 L1234.1,265.8 L1224.1,264.3 L1214.0,262.8 L1204.0,261.5 L1193.9,260.3 L1183.9,259.1 L1173.9,258.1 L1163.8,257.1 L1153.8,256.2 L1143.8,255.5 L1133.7,254.8 L1123.7,254.2 L1113.6,253.8 L1103.6,253.4 L1093.6,253.1 L1083.5,252.9 L1073.5,252.9 L1063.5,252.9 L1053.4,253.0 L1043.4,253.2 L1033.3,253.5 L1023.3,253.9 L1013.3,254.4Z" fill="#999" fill-opacity="0.3"/>
<path d="M1013.3,194.6 L1023.3,198.0 L1033.3,201.4 L1043.4,204.7 L1053.4,207.9 L1063.5,211.0 L1073.5,214.1 L1083.5,217.0 L1093.6,219.9 L1103.6,222.8 L1113.6,225.5 L1123.7,228.2 L1133.7,230.7 L1143.8,233.3 L1153.8,235.7 L1163.8,238.0 L1173.9,240.3 L1183.9,242.5 L1193.9,244.6 L1204.0,246.6 L1214.0,248.6 L1224.1,250.5 L1234.1,252.3 L1244.1,254.0 L1254.2,255.6 L1264.2,257.2 L1274.2,258.7 L1284.3,260.1 L1294.3,261.4 L1304.4,262.6 L1314.4,263.8 L1324.4,264.9 L1334.5,265.9 L1344.5,266.8 L1354.5,267.7 L1364.6,268.5 L1374.6,269.2 L1384.7,269.8 L1394.7,270.3 L1404.7,270.8 L1404.7,321.7 L1394.7,317.5 L1384.7,313.4 L1374.6,309.5 L1364.6,305.7 L1354.5,302.1 L1344.5,298.6 L1334.5,295.2 L1324.4,292.0 L1314.4,289.0 L1304.4,286.0 L1294.3,283.2 L1284.3,280.6 L1274.2,278.1 L1264.2,275.7 L1254.2,273.5 L1244.1,271.4 L1234.1,269.5 L1224.1,267.7 L1214.0,266.0 L1204.0,264.5 L1193.9,263.1 L1183.9,261.9 L1173.9,260.8 L1163.8,259.8 L1153.8,259.0 L1143.8,258.3 L1133.7,257.8 L1123.7,257.4 L1113.6,257.2 L1103.6,257.1 L1093.6,257.1 L1083.5,257.3 L1073.5,257.6 L1063.5,258.0 L1053.4,258.6 L1043.4,259.4 L1033.3,260.2 L1023.3,261.3 L1013.3,262.4Z" fill="#999" fill-opacity="0.3"/>
<path d="M1013.3,216.7 L1023.3,218.6 L1033.3,220.4 L1043.4,222.1 L1053.4,223.8 L1063.5,225.3 L1073.5,226.8 L1083.5,228.2 L1093.6,229.5 L1103.6,230.8 L1113.6,231.9 L1123.7,233.0 L1133.7,234.0 L1143.8,234.9 L1153.8,235.7 L1163.8,236.5 L1173.9,237.1 L1183.9,237.7 L1193.9,238.2 L1204.0,238.6 L1214.0,239.0 L1224.1,239.2 L1234.1,239.4 L1244.1,239.5 L1254.2,239.5 L1264.2,239.4 L1274.2,239.2 L1284.3,239.0 L1294.3,238.7 L1304.4,238.2 L1314.4,237.8 L1324.4,237.2 L1334.5,236.5 L1344.5,235.8 L1354.5,235.0 L1364.6,234.1 L1374.6,233.1 L1384.7,232.0 L1394.7,230.9 L1404.7,229.6 L1404.7,274.2 L1394.7,272.2 L1384.7,270.3 L1374.6,268.5 L1364.6,266.8 L1354.5,265.2 L1344.5,263.7 L1334.5,262.3 L1324.4,261.0 L1314.4,259.9 L1304.4,258.8 L1294.3,257.8 L1284.3,257.0 L1274.2,256.2 L1264.2,255.6 L1254.2,255.1 L1244.1,254.6 L1234.1,254.3 L1224.1,254.1 L1214.0,254.0 L1204.0,254.0 L1193.9,254.1 L1183.9,254.3 L1173.9,254.6 L1163.8,255.1 L1153.8,255.6 L1143.8,256.2 L1133.7,257.0 L1123.7,257.8 L1113.6,258.8 L1103.6,259.9 L1093.6,261.0 L1083.5,262.3 L1073.5,263.7 L1063.5,265.2 L1053.4,266.8 L1043.4,268.5 L1033.3,270.3 L1023.3,272.2 L1013.3,274.2Z" fill="#999" fill-opacity="0.3"/>
<circle cx="1027.1" cy="226.8" r="14.2" fill="#FF8C00" fill-opacity="0.8"/>
<circle cx="1047.2" cy="234.0" r="14.2" fill="#FF8C00" fill-opacity="0.8"/>
<circle cx="1051.5" cy="269.9" r="14.2" fill="#FF8C00" fill-opacity="0.8"/>
<circle cx="1076.0" cy="287.2" r="14.2" fill="#FF8C00" fill-opacity="0.8"/>
<circle cx="1143.6" cy="259.8" r="14.2" fill="#FF8C00" fill-opacity="0.8"/>
<circle cx="1162.3" cy="202.3" r="14.2" fill="#FF8C00" fill-opacity="0.8"/>
<circle cx="1189.6" cy="193.7" r="14.2" fill="#FF8C00" fill-opacity="0.8"/>
<circle cx="1198.2" cy="222.5" r="14.2" fill="#FF8C00" fill-opacity="0.8"/>
<circle cx="1195.3" cy="248.3" r="14.2" fill="#FF8C00" fill-opacity="0.8"/>
<circle cx="1198.2" cy="297.2" r="14.2" fill="#FF8C00" fill-opacity="0.8"/>
<circle cx="1186.7" cy="274.2" r="14.2" fill="#FF8C00" fill-opacity="0.8"/>
<circle cx="1232.7" cy="265.6" r="14.2" fill="#FF8C00" fill-opacity="0.8"/>
<circle cx="1241.4" cy="239.7" r="14.2" fill="#FF8C00" fill-opacity="0.8"/>
<circle cx="1255.7" cy="236.8" r="14.2" fill="#FF8C00" fill-opacity="0.8"/>
<circle cx="1261.5" cy="234.0" r="14.2" fill="#FF8C00" fill-opacity="0.8"/>
<circle cx="1286.5" cy="228.2" r="14.2" fill="#FF8C00" fill-opacity="0.8"/>
<circle cx="1290.3" cy="251.2" r="14.2" fill="#FF8C00" fill-opacity="0.8"/>
<circle cx="1307.5" cy="341.8" r="14.2" fill="#FF8C00" fill-opacity="0.8"/>
<circle cx="1327.6" cy="238.3" r="14.2" fill="#FF8C00" fill-opacity="0.8"/>
<circle cx="1352.1" cy="271.3" r="14.2" fill="#FF8C00" fill-opacity="0.8"/>
<circle cx="1343.5" cy="377.8" r="14.2" fill="#FF8C00" fill-opacity="0.8"/>
<circle cx="1339.2" cy="311.6" r="14.2" fill="#FF8C00" fill-opacity="0.8"/>
<circle cx="1310.4" cy="305.9" r="14.2" fill="#FF8C00" fill-opacity="0.8"/>
<circle cx="1330.5" cy="303.0" r="14.2" fill="#FF8C00" fill-opacity="0.8"/>
<circle cx="1394.4" cy="254.1" r="14.2" fill="#FF8C00" fill-opacity="0.8"/>
<circle cx="1404.7" cy="254.1" r="14.2" fill="#FF8C00" fill-opacity="0.8"/>
<circle cx="1027.1" cy="234.0" r="14.2" fill="#32CD32" fill-opacity="0.8"/>
<circle cx="1047.2" cy="236.8" r="14.2" fill="#32CD32" fill-opacity="0.8"/>
<circle cx="1051.5" cy="269.9" r="14.2" fill="#32CD32" fill-opacity="0.8"/>
<circle cx="1076.0" cy="287.2" r="14.2" fill="#32CD32" fill-opacity="0.8"/>
<circle cx="1143.6" cy="259.8" r="14.2" fill="#32CD32" fill-opacity="0.8"/>
<circle cx="1162.3" cy="202.3" r="14.2" fill="#32CD32" fill-opacity="0.8"/>
<circle cx="1189.6" cy="195.1" r="14.2" fill="#32CD32" fill-opacity="0.8"/>
<circle cx="1195.3" cy="228.2" r="14.2" fill="#32CD32" fill-opacity="0.8"/>
<circle cx="1163.7" cy="294.4" r="14.2" fill="#32CD32" fill-opacity="0.8"/>
<circle cx="1172.3" cy="280.0" r="14.2" fill="#32CD32" fill-opacity="0.8"/>
<circle cx="1183.8" cy="265.6" r="14.2" fill="#32CD32" fill-opacity="0.8"/>
<circle cx="1195.3" cy="277.1" r="14.2" fill="#32CD32" fill-opacity="0.8"/>
<circle cx="1215.5" cy="244.0" r="14.2" fill="#32CD32" fill-opacity="0.8"/>
<circle cx="1232.7" cy="262.7" r="14.2" fill="#32CD32" fill-opacity="0.8"/>
<circle cx="1247.1" cy="195.1" r="14.2" fill="#32CD32" fill-opacity="0.8"/>
<circle cx="1252.9" cy="203.8" r="14.2" fill="#32CD32" fill-opacity="0.8"/>
<circle cx="1261.5" cy="216.7" r="14.2" fill="#32CD32" fill-opacity="0.8"/>
<circle cx="1252.9" cy="231.1" r="14.2" fill="#32CD32" fill-opacity="0.8"/>
<circle cx="1287.4" cy="242.6" r="14.2" fill="#32CD32" fill-opacity="0.8"/>
<circle cx="1290.3" cy="251.2" r="14.2" fill="#32CD32" fill-opacity="0.8"/>
<circle cx="1327.6" cy="179.3" r="14.2" fill="#32CD32" fill-opacity="0.8"/>
<circle cx="1346.3" cy="192.3" r="14.2" fill="#32CD32" fill-opacity="0.8"/>
<circle cx="1343.5" cy="212.4" r="14.2" fill="#32CD32" fill-opacity="0.8"/>
<circle cx="1339.2" cy="222.5" r="14.2" fill="#32CD32" fill-opacity="0.8"/>
<circle cx="1352.1" cy="251.2" r="14.2" fill="#32CD32" fill-opacity="0.8"/>
<circle cx="1327.6" cy="259.8" r="14.2" fill="#32CD32" fill-opacity="0.8"/>
<circle cx="1307.5" cy="297.2" r="14.2" fill="#32CD32" fill-opacity="0.8"/>
<circle cx="1306.1" cy="313.1" r="14.2" fill="#32CD32" fill-opacity="0.8"/>
<circle cx="1330.5" cy="310.2" r="14.2" fill="#32CD32" fill-opacity="0.8"/>
<circle cx="1404.7" cy="271.3" r="14.2" fill="#32CD32" fill-opacity="0.8"/>
<circle cx="1027.1" cy="187.1" r="14.2" fill="#6495ED" fill-opacity="0.8"/>
<circle cx="1047.2" cy="218.1" r="14.2" fill="#6495ED" fill-opacity="0.8"/>
<circle cx="1076.0" cy="226.8" r="14.2" fill="#6495ED" fill-opacity="0.8"/>
<circle cx="1051.5" cy="331.7" r="14.2" fill="#6495ED" fill-opacity="0.8"/>
<circle cx="1143.6" cy="223.9" r="14.2" fill="#6495ED" fill-opacity="0.8"/>
<circle cx="1143.6" cy="242.6" r="14.2" fill="#6495ED" fill-opacity="0.8"/>
<circle cx="1160.8" cy="259.8" r="14.2" fill="#6495ED" fill-opacity="0.8"/>
<circle cx="1175.2" cy="225.3" r="14.2" fill="#6495ED" fill-opacity="0.8"/>
<circle cx="1183.8" cy="231.1" r="14.2" fill="#6495ED" fill-opacity="0.8"/>
<circle cx="1195.3" cy="148.5" r="14.2" fill="#6495ED" fill-opacity="0.8"/>
<circle cx="1189.6" cy="172.7" r="14.2" fill="#6495ED" fill-opacity="0.8"/>
<circle cx="1172.3" cy="274.2" r="14.2" fill="#6495ED" fill-opacity="0.8"/>
<circle cx="1195.3" cy="282.9" r="14.2" fill="#6495ED" fill-opacity="0.8"/>
<circle cx="1186.7" cy="300.1" r="14.2" fill="#6495ED" fill-opacity="0.8"/>
<circle cx="1215.5" cy="248.3" r="14.2" fill="#6495ED" fill-opacity="0.8"/>
<circle cx="1232.2" cy="293.5" r="14.2" fill="#6495ED" fill-opacity="0.8"/>
<circle cx="1252.3" cy="288.6" r="14.2" fill="#6495ED" fill-opacity="0.8"/>
<circle cx="1261.5" cy="268.5" r="14.2" fill="#6495ED" fill-opacity="0.8"/>
<circle cx="1261.5" cy="228.2" r="14.2" fill="#6495ED" fill-opacity="0.8"/>
<circle cx="1287.4" cy="236.8" r="14.2" fill="#6495ED" fill-opacity="0.8"/>
<circle cx="1290.3" cy="277.1" r="14.2" fill="#6495ED" fill-opacity="0.8"/>
<circle cx="1310.4" cy="268.5" r="14.2" fill="#6495ED" fill-opacity="0.8"/>
<circle cx="1327.6" cy="228.2" r="14.2" fill="#6495ED" fill-opacity="0.8"/>
<circle cx="1327.6" cy="248.3" r="14.2" fill="#6495ED" fill-opacity="0.8"/>
<circle cx="1324.8" cy="290.0" r="14.2" fill="#6495ED" fill-opacity="0.8"/>
<circle cx="1319.0" cy="311.6" r="14.2" fill="#6495ED" fill-opacity="0.8"/>
<circle cx="1352.1" cy="288.6" r="14.2" fill="#6495ED" fill-opacity="0.8"/>
<circle cx="1339.2" cy="331.7" r="14.2" fill="#6495ED" fill-opacity="0.8"/>
<circle cx="1346.3" cy="321.7" r="14.2" fill="#6495ED" fill-opacity="0.8"/>
<circle cx="1307.5" cy="346.1" r="14.2" fill="#6495ED" fill-opacity="0.8"/>
<circle cx="1310.4" cy="350.4" r="14.2" fill="#6495ED" fill-opacity="0.8"/>
<circle cx="1343.5" cy="389.3" r="14.2" fill="#6495ED" fill-opacity="0.8"/>
<circle cx="1163.7" cy="366.3" r="14.2" fill="#6495ED" fill-opacity="0.8"/>
<circle cx="1394.4" cy="257.0" r="14.2" fill="#6495ED" fill-opacity="0.8"/>
<circle cx="1404.7" cy="259.8" r="14.2" fill="#6495ED" fill-opacity="0.8"/>
<circle cx="1247.1" cy="265.6" r="14.2" fill="#6495ED" fill-opacity="0.8"/>
<path d="M1027.1,220.3V233.3" stroke="#FF8C00" stroke-width="1.2"/><rect x="1024.5" y="224.1" width="5.2" height="5.4" fill="#FF8C00"/>
<path d="M1047.2,227.5V240.5" stroke="#FF8C00" stroke-width="1.2"/><rect x="1044.6" y="231.3" width="5.2" height="5.4" fill="#FF8C00"/>
<path d="M1051.5,263.4V276.4" stroke="#FF8C00" stroke-width="1.2"/><rect x="1048.9" y="267.2" width="5.2" height="5.4" fill="#FF8C00"/>
<path d="M1076.0,280.7V293.7" stroke="#FF8C00" stroke-width="1.2"/><rect x="1073.4" y="284.5" width="5.2" height="5.4" fill="#FF8C00"/>
<path d="M1143.6,253.3V266.3" stroke="#FF8C00" stroke-width="1.2"/><rect x="1141.0" y="257.1" width="5.2" height="5.4" fill="#FF8C00"/>
<path d="M1162.3,195.8V208.8" stroke="#FF8C00" stroke-width="1.2"/><rect x="1159.7" y="199.6" width="5.2" height="5.4" fill="#FF8C00"/>
<path d="M1189.6,187.2V200.2" stroke="#FF8C00" stroke-width="1.2"/><rect x="1187.0" y="191.0" width="5.2" height="5.4" fill="#FF8C00"/>
<path d="M1198.2,216.0V229.0" stroke="#FF8C00" stroke-width="1.2"/><rect x="1195.6" y="219.8" width="5.2" height="5.4" fill="#FF8C00"/>
<path d="M1195.3,241.8V254.8" stroke="#FF8C00" stroke-width="1.2"/><rect x="1192.7" y="245.6" width="5.2" height="5.4" fill="#FF8C00"/>
<path d="M1198.2,290.7V303.7" stroke="#FF8C00" stroke-width="1.2"/><rect x="1195.6" y="294.5" width="5.2" height="5.4" fill="#FF8C00"/>
<path d="M1186.7,267.7V280.7" stroke="#FF8C00" stroke-width="1.2"/><rect x="1184.1" y="271.5" width="5.2" height="5.4" fill="#FF8C00"/>
<path d="M1232.7,259.1V272.1" stroke="#FF8C00" stroke-width="1.2"/><rect x="1230.1" y="262.9" width="5.2" height="5.4" fill="#FF8C00"/>
<path d="M1241.4,233.2V246.2" stroke="#FF8C00" stroke-width="1.2"/><rect x="1238.8" y="237.0" width="5.2" height="5.4" fill="#FF8C00"/>
<path d="M1255.7,230.3V243.3" stroke="#FF8C00" stroke-width="1.2"/><rect x="1253.1" y="234.1" width="5.2" height="5.4" fill="#FF8C00"/>
<path d="M1261.5,227.5V240.5" stroke="#FF8C00" stroke-width="1.2"/><rect x="1258.9" y="231.3" width="5.2" height="5.4" fill="#FF8C00"/>
<path d="M1286.5,221.7V234.7" stroke="#FF8C00" stroke-width="1.2"/><rect x="1283.9" y="225.5" width="5.2" height="5.4" fill="#FF8C00"/>
<path d="M1290.3,244.7V257.7" stroke="#FF8C00" stroke-width="1.2"/><rect x="1287.7" y="248.5" width="5.2" height="5.4" fill="#FF8C00"/>
<path d="M1307.5,335.3V348.3" stroke="#FF8C00" stroke-width="1.2"/><rect x="1304.9" y="339.1" width="5.2" height="5.4" fill="#FF8C00"/>
<path d="M1327.6,231.8V244.8" stroke="#FF8C00" stroke-width="1.2"/><rect x="1325.0" y="235.6" width="5.2" height="5.4" fill="#FF8C00"/>
<path d="M1352.1,264.8V277.8" stroke="#FF8C00" stroke-width="1.2"/><rect x="1349.5" y="268.6" width="5.2" height="5.4" fill="#FF8C00"/>
<path d="M1343.5,371.3V384.3" stroke="#FF8C00" stroke-width="1.2"/><rect x="1340.9" y="375.1" width="5.2" height="5.4" fill="#FF8C00"/>
<path d="M1339.2,305.1V318.1" stroke="#FF8C00" stroke-width="1.2"/><rect x="1336.6" y="308.9" width="5.2" height="5.4" fill="#FF8C00"/>
<path d="M1310.4,299.4V312.4" stroke="#FF8C00" stroke-width="1.2"/><rect x="1307.8" y="303.2" width="5.2" height="5.4" fill="#FF8C00"/>
<path d="M1330.5,296.5V309.5" stroke="#FF8C00" stroke-width="1.2"/><rect x="1327.9" y="300.3" width="5.2" height="5.4" fill="#FF8C00"/>
<path d="M1394.4,247.6V260.6" stroke="#FF8C00" stroke-width="1.2"/><rect x="1391.8" y="251.4" width="5.2" height="5.4" fill="#FF8C00"/>
<path d="M1404.7,247.6V260.6" stroke="#FF8C00" stroke-width="1.2"/><rect x="1402.1" y="251.4" width="5.2" height="5.4" fill="#FF8C00"/>
<path d="M1027.1,227.5V240.5" stroke="#32CD32" stroke-width="1.2"/><rect x="1024.5" y="231.3" width="5.2" height="5.4" fill="#32CD32"/>
<path d="M1047.2,230.3V243.3" stroke="#32CD32" stroke-width="1.2"/><rect x="1044.6" y="234.1" width="5.2" height="5.4" fill="#32CD32"/>
<path d="M1051.5,263.4V276.4" stroke="#32CD32" stroke-width="1.2"/><rect x="1048.9" y="267.2" width="5.2" height="5.4" fill="#32CD32"/>
<path d="M1076.0,280.7V293.7" stroke="#32CD32" stroke-width="1.2"/><rect x="1073.4" y="284.5" width="5.2" height="5.4" fill="#32CD32"/>
<path d="M1143.6,253.3V266.3" stroke="#32CD32" stroke-width="1.2"/><rect x="1141.0" y="257.1" width="5.2" height="5.4" fill="#32CD32"/>
<path d="M1162.3,195.8V208.8" stroke="#32CD32" stroke-width="1.2"/><rect x="1159.7" y="199.6" width="5.2" height="5.4" fill="#32CD32"/>
<path d="M1189.6,188.6V201.6" stroke="#32CD32" stroke-width="1.2"/><rect x="1187.0" y="192.4" width="5.2" height="5.4" fill="#32CD32"/>
<path d="M1195.3,221.7V234.7" stroke="#32CD32" stroke-width="1.2"/><rect x="1192.7" y="225.5" width="5.2" height="5.4" fill="#32CD32"/>
<path d="M1163.7,287.9V300.9" stroke="#32CD32" stroke-width="1.2"/><rect x="1161.1" y="291.7" width="5.2" height="5.4" fill="#32CD32"/>
<path d="M1172.3,273.5V286.5" stroke="#32CD32" stroke-width="1.2"/><rect x="1169.7" y="277.3" width="5.2" height="5.4" fill="#32CD32"/>
<path d="M1183.8,259.1V272.1" stroke="#32CD32" stroke-width="1.2"/><rect x="1181.2" y="262.9" width="5.2" height="5.4" fill="#32CD32"/>
<path d="M1195.3,270.6V283.6" stroke="#32CD32" stroke-width="1.2"/><rect x="1192.7" y="274.4" width="5.2" height="5.4" fill="#32CD32"/>
<path d="M1215.5,237.5V250.5" stroke="#32CD32" stroke-width="1.2"/><rect x="1212.9" y="241.3" width="5.2" height="5.4" fill="#32CD32"/>
<path d="M1232.7,256.2V269.2" stroke="#32CD32" stroke-width="1.2"/><rect x="1230.1" y="260.0" width="5.2" height="5.4" fill="#32CD32"/>
<path d="M1247.1,188.6V201.6" stroke="#32CD32" stroke-width="1.2"/><rect x="1244.5" y="192.4" width="5.2" height="5.4" fill="#32CD32"/>
<path d="M1252.9,197.3V210.3" stroke="#32CD32" stroke-width="1.2"/><rect x="1250.3" y="201.1" width="5.2" height="5.4" fill="#32CD32"/>
<path d="M1261.5,210.2V223.2" stroke="#32CD32" stroke-width="1.2"/><rect x="1258.9" y="214.0" width="5.2" height="5.4" fill="#32CD32"/>
<path d="M1252.9,224.6V237.6" stroke="#32CD32" stroke-width="1.2"/><rect x="1250.3" y="228.4" width="5.2" height="5.4" fill="#32CD32"/>
<path d="M1287.4,236.1V249.1" stroke="#32CD32" stroke-width="1.2"/><rect x="1284.8" y="239.9" width="5.2" height="5.4" fill="#32CD32"/>
<path d="M1290.3,244.7V257.7" stroke="#32CD32" stroke-width="1.2"/><rect x="1287.7" y="248.5" width="5.2" height="5.4" fill="#32CD32"/>
<path d="M1327.6,172.8V185.8" stroke="#32CD32" stroke-width="1.2"/><rect x="1325.0" y="176.6" width="5.2" height="5.4" fill="#32CD32"/>
<line x1="1346.3" x2="1346.3" y1="171.1" y2="219.2" stroke="#32CD32" stroke-width="1.6"/>
<line x1="1346.3" x2="1346.3" y1="173.6" y2="216.7" stroke="#32CD32" stroke-width="5.6"/>
<path d="M1343.5,205.9V218.9" stroke="#32CD32" stroke-width="1.2"/><rect x="1340.9" y="209.7" width="5.2" height="5.4" fill="#32CD32"/>
<path d="M1339.2,216.0V229.0" stroke="#32CD32" stroke-width="1.2"/><rect x="1336.6" y="219.8" width="5.2" height="5.4" fill="#32CD32"/>
<path d="M1352.1,244.7V257.7" stroke="#32CD32" stroke-width="1.2"/><rect x="1349.5" y="248.5" width="5.2" height="5.4" fill="#32CD32"/>
<path d="M1327.6,253.3V266.3" stroke="#32CD32" stroke-width="1.2"/><rect x="1325.0" y="257.1" width="5.2" height="5.4" fill="#32CD32"/>
<path d="M1307.5,290.7V303.7" stroke="#32CD32" stroke-width="1.2"/><rect x="1304.9" y="294.5" width="5.2" height="5.4" fill="#32CD32"/>
<path d="M1306.1,306.6V319.6" stroke="#32CD32" stroke-width="1.2"/><rect x="1303.5" y="310.4" width="5.2" height="5.4" fill="#32CD32"/>
<path d="M1330.5,303.7V316.7" stroke="#32CD32" stroke-width="1.2"/><rect x="1327.9" y="307.5" width="5.2" height="5.4" fill="#32CD32"/>
<path d="M1404.7,264.8V277.8" stroke="#32CD32" stroke-width="1.2"/><rect x="1402.1" y="268.6" width="5.2" height="5.4" fill="#32CD32"/>
<path d="M1027.1,180.6V193.6" stroke="#6495ED" stroke-width="1.2"/><rect x="1024.5" y="184.4" width="5.2" height="5.4" fill="#6495ED"/>
<path d="M1047.2,211.6V224.6" stroke="#6495ED" stroke-width="1.2"/><rect x="1044.6" y="215.4" width="5.2" height="5.4" fill="#6495ED"/>
<path d="M1076.0,220.3V233.3" stroke="#6495ED" stroke-width="1.2"/><rect x="1073.4" y="224.1" width="5.2" height="5.4" fill="#6495ED"/>
<path d="M1051.5,325.2V338.2" stroke="#6495ED" stroke-width="1.2"/><rect x="1048.9" y="329.0" width="5.2" height="5.4" fill="#6495ED"/>
<path d="M1143.6,217.4V230.4" stroke="#6495ED" stroke-width="1.2"/><rect x="1141.0" y="221.2" width="5.2" height="5.4" fill="#6495ED"/>
<path d="M1143.6,236.1V249.1" stroke="#6495ED" stroke-width="1.2"/><rect x="1141.0" y="239.9" width="5.2" height="5.4" fill="#6495ED"/>
<line x1="1160.8" x2="1160.8" y1="217.1" y2="302.6" stroke="#6495ED" stroke-width="1.6"/>
<line x1="1160.8" x2="1160.8" y1="219.6" y2="300.1" stroke="#6495ED" stroke-width="5.6"/>
<path d="M1175.2,218.8V231.8" stroke="#6495ED" stroke-width="1.2"/><rect x="1172.6" y="222.6" width="5.2" height="5.4" fill="#6495ED"/>
<path d="M1183.8,224.6V237.6" stroke="#6495ED" stroke-width="1.2"/><rect x="1181.2" y="228.4" width="5.2" height="5.4" fill="#6495ED"/>
<path d="M1195.3,142.0V155.0" stroke="#6495ED" stroke-width="1.2"/><rect x="1192.7" y="145.8" width="5.2" height="5.4" fill="#6495ED"/>
<path d="M1189.6,166.2V179.2" stroke="#6495ED" stroke-width="1.2"/><rect x="1187.0" y="170.0" width="5.2" height="5.4" fill="#6495ED"/>
<path d="M1172.3,267.7V280.7" stroke="#6495ED" stroke-width="1.2"/><rect x="1169.7" y="271.5" width="5.2" height="5.4" fill="#6495ED"/>
<path d="M1195.3,276.4V289.4" stroke="#6495ED" stroke-width="1.2"/><rect x="1192.7" y="280.2" width="5.2" height="5.4" fill="#6495ED"/>
<path d="M1186.7,293.6V306.6" stroke="#6495ED" stroke-width="1.2"/><rect x="1184.1" y="297.4" width="5.2" height="5.4" fill="#6495ED"/>
<path d="M1215.5,241.8V254.8" stroke="#6495ED" stroke-width="1.2"/><rect x="1212.9" y="245.6" width="5.2" height="5.4" fill="#6495ED"/>
<path d="M1232.2,287.0V300.0" stroke="#6495ED" stroke-width="1.2"/><rect x="1229.6" y="290.8" width="5.2" height="5.4" fill="#6495ED"/>
<path d="M1252.3,282.1V295.1" stroke="#6495ED" stroke-width="1.2"/><rect x="1249.7" y="285.9" width="5.2" height="5.4" fill="#6495ED"/>
<path d="M1261.5,262.0V275.0" stroke="#6495ED" stroke-width="1.2"/><rect x="1258.9" y="265.8" width="5.2" height="5.4" fill="#6495ED"/>
<path d="M1261.5,221.7V234.7" stroke="#6495ED" stroke-width="1.2"/><rect x="1258.9" y="225.5" width="5.2" height="5.4" fill="#6495ED"/>
<path d="M1287.4,230.3V243.3" stroke="#6495ED" stroke-width="1.2"/><rect x="1284.8" y="234.1" width="5.2" height="5.4" fill="#6495ED"/>
<path d="M1290.3,270.6V283.6" stroke="#6495ED" stroke-width="1.2"/><rect x="1287.7" y="274.4" width="5.2" height="5.4" fill="#6495ED"/>
<path d="M1310.4,262.0V275.0" stroke="#6495ED" stroke-width="1.2"/><rect x="1307.8" y="265.8" width="5.2" height="5.4" fill="#6495ED"/>
<path d="M1327.6,221.7V234.7" stroke="#6495ED" stroke-width="1.2"/><rect x="1325.0" y="225.5" width="5.2" height="5.4" fill="#6495ED"/>
<path d="M1327.6,241.8V254.8" stroke="#6495ED" stroke-width="1.2"/><rect x="1325.0" y="245.6" width="5.2" height="5.4" fill="#6495ED"/>
<path d="M1324.8,283.5V296.5" stroke="#6495ED" stroke-width="1.2"/><rect x="1322.2" y="287.3" width="5.2" height="5.4" fill="#6495ED"/>
<path d="M1319.0,305.1V318.1" stroke="#6495ED" stroke-width="1.2"/><rect x="1316.4" y="308.9" width="5.2" height="5.4" fill="#6495ED"/>
<path d="M1352.1,282.1V295.1" stroke="#6495ED" stroke-width="1.2"/><rect x="1349.5" y="285.9" width="5.2" height="5.4" fill="#6495ED"/>
<path d="M1339.2,325.2V338.2" stroke="#6495ED" stroke-width="1.2"/><rect x="1336.6" y="329.0" width="5.2" height="5.4" fill="#6495ED"/>
<path d="M1346.3,315.2V328.2" stroke="#6495ED" stroke-width="1.2"/><rect x="1343.7" y="319.0" width="5.2" height="5.4" fill="#6495ED"/>
<path d="M1307.5,339.6V352.6" stroke="#6495ED" stroke-width="1.2"/><rect x="1304.9" y="343.4" width="5.2" height="5.4" fill="#6495ED"/>
<path d="M1310.4,343.9V356.9" stroke="#6495ED" stroke-width="1.2"/><rect x="1307.8" y="347.7" width="5.2" height="5.4" fill="#6495ED"/>
<path d="M1343.5,382.8V395.8" stroke="#6495ED" stroke-width="1.2"/><rect x="1340.9" y="386.6" width="5.2" height="5.4" fill="#6495ED"/>
<path d="M1163.7,359.8V372.8" stroke="#6495ED" stroke-width="1.2"/><rect x="1161.1" y="363.6" width="5.2" height="5.4" fill="#6495ED"/>
<path d="M1394.4,250.5V263.5" stroke="#6495ED" stroke-width="1.2"/><rect x="1391.8" y="254.3" width="5.2" height="5.4" fill="#6495ED"/>
<path d="M1404.7,253.3V266.3" stroke="#6495ED" stroke-width="1.2"/><rect x="1402.1" y="257.1" width="5.2" height="5.4" fill="#6495ED"/>
<path d="M1247.1,259.1V272.1" stroke="#6495ED" stroke-width="1.2"/><rect x="1244.5" y="262.9" width="5.2" height="5.4" fill="#6495ED"/>
<path d="M1013.3,231.1 L1404.7,285.7" fill="none" stroke="#FF8C00" stroke-width="5.3"/>
<path d="M1013.3,244.9 L1404.7,251.8" fill="none" stroke="#32CD32" stroke-width="5.3" stroke-dasharray="10.2,10.2"/>
<path d="M1013.3,226.8 L1404.7,295.8" fill="none" stroke="#6495ED" stroke-width="5.3"/>
</g>
<text x="1013.4" y="104.4" font-family='"Liberation Sans", sans-serif' font-weight="bold" font-size="51.8" fill="#000">g</text>
<rect x="994.10" y="47.35" width="429.60" height="414.00" fill="none" stroke="#333" stroke-width="1.8"/>
<line x1="106.50" x2="536.10" y1="823.64" y2="823.64" stroke="#EBEBEB" stroke-width="1.07"/><line x1="106.50" x2="536.10" y1="729.31" y2="729.31" stroke="#EBEBEB" stroke-width="1.07"/><line x1="106.50" x2="536.10" y1="634.99" y2="634.99" stroke="#EBEBEB" stroke-width="1.07"/><line x1="106.50" x2="536.10" y1="540.66" y2="540.66" stroke="#EBEBEB" stroke-width="1.07"/><line y1="475.15" y2="889.15" x1="185.40" x2="185.40" stroke="#EBEBEB" stroke-width="1.07"/><line y1="475.15" y2="889.15" x1="305.40" x2="305.40" stroke="#EBEBEB" stroke-width="1.07"/><line y1="475.15" y2="889.15" x1="425.40" x2="425.40" stroke="#EBEBEB" stroke-width="1.07"/><line x1="106.50" x2="536.10" y1="870.80" y2="870.80" stroke="#EBEBEB" stroke-width="2.13"/><line x1="106.50" x2="536.10" y1="776.48" y2="776.48" stroke="#EBEBEB" stroke-width="2.13"/><line x1="106.50" x2="536.10" y1="682.15" y2="682.15" stroke="#EBEBEB" stroke-width="2.13"/><line x1="106.50" x2="536.10" y1="587.83" y2="587.83" stroke="#EBEBEB" stroke-width="2.13"/><line x1="106.50" x2="536.10" y1="493.50" y2="493.50" stroke="#EBEBEB" stroke-width="2.13"/><line y1="475.15" y2="889.15" x1="125.40" x2="125.40" stroke="#EBEBEB" stroke-width="2.13"/><line y1="475.15" y2="889.15" x1="245.40" x2="245.40" stroke="#EBEBEB" stroke-width="2.13"/><line y1="475.15" y2="889.15" x1="365.40" x2="365.40" stroke="#EBEBEB" stroke-width="2.13"/><line y1="475.15" y2="889.15" x1="485.40" x2="485.40" stroke="#EBEBEB" stroke-width="2.13"/>
<g clip-path="url(#cp10)">
<path d="M125.3,562.7 L135.3,566.7 L145.3,570.6 L155.4,574.5 L165.4,578.4 L175.5,582.2 L185.5,585.9 L195.5,589.6 L205.6,593.2 L215.6,596.8 L225.6,600.4 L235.7,603.9 L245.7,607.3 L255.8,610.7 L265.8,614.1 L275.8,617.4 L285.9,620.6 L295.9,623.8 L305.9,627.0 L316.0,630.1 L326.0,633.2 L336.1,636.2 L346.1,639.2 L356.1,642.1 L366.2,644.9 L376.2,647.8 L386.2,650.5 L396.3,653.2 L406.3,655.9 L416.4,658.5 L426.4,661.1 L436.4,663.6 L446.5,666.1 L456.5,668.5 L466.5,670.9 L476.6,673.3 L486.6,675.5 L496.7,677.8 L506.7,680.0 L516.7,682.1 L516.7,733.9 L506.7,729.0 L496.7,724.2 L486.6,719.5 L476.6,714.9 L466.5,710.4 L456.5,706.0 L446.5,701.6 L436.4,697.4 L426.4,693.2 L416.4,689.1 L406.3,685.2 L396.3,681.2 L386.2,677.4 L376.2,673.7 L366.2,670.1 L356.1,666.5 L346.1,663.0 L336.1,659.6 L326.0,656.4 L316.0,653.1 L305.9,650.0 L295.9,647.0 L285.9,644.0 L275.8,641.2 L265.8,638.4 L255.8,635.7 L245.7,633.1 L235.7,630.6 L225.6,628.2 L215.6,625.9 L205.6,623.6 L195.5,621.4 L185.5,619.4 L175.5,617.4 L165.4,615.5 L155.4,613.7 L145.3,611.9 L135.3,610.3 L125.3,608.7Z" fill="#999" fill-opacity="0.3"/>
<path d="M125.3,565.6 L135.3,569.4 L145.3,573.2 L155.4,576.9 L165.4,580.6 L175.5,584.3 L185.5,587.9 L195.5,591.5 L205.6,595.0 L215.6,598.5 L225.6,602.0 L235.7,605.4 L245.7,608.8 L255.8,612.2 L265.8,615.5 L275.8,618.8 L285.9,622.1 L295.9,625.3 L305.9,628.4 L316.0,631.6 L326.0,634.7 L336.1,637.7 L346.1,640.8 L356.1,643.7 L366.2,646.7 L376.2,649.6 L386.2,652.5 L396.3,655.3 L406.3,658.1 L416.4,660.9 L426.4,663.6 L436.4,666.3 L446.5,668.9 L456.5,671.5 L466.5,674.1 L476.6,676.6 L486.6,679.1 L496.7,681.6 L506.7,684.0 L516.7,686.4 L516.7,731.0 L506.7,726.3 L496.7,721.6 L486.6,717.1 L476.6,712.6 L466.5,708.2 L456.5,703.9 L446.5,699.6 L436.4,695.5 L426.4,691.4 L416.4,687.4 L406.3,683.4 L396.3,679.6 L386.2,675.8 L376.2,672.2 L366.2,668.5 L356.1,665.0 L346.1,661.6 L336.1,658.2 L326.0,654.9 L316.0,651.7 L305.9,648.6 L295.9,645.5 L285.9,642.6 L275.8,639.7 L265.8,636.9 L255.8,634.1 L245.7,631.5 L235.7,628.9 L225.6,626.4 L215.6,624.0 L205.6,621.7 L195.5,619.4 L185.5,617.2 L175.5,615.1 L165.4,613.1 L155.4,611.2 L145.3,609.3 L135.3,607.6 L125.3,605.9Z" fill="#999" fill-opacity="0.3"/>
<path d="M125.3,631.1 L135.3,634.0 L145.3,636.9 L155.4,639.8 L165.4,642.5 L175.5,645.2 L185.5,647.9 L195.5,650.5 L205.6,653.0 L215.6,655.5 L225.6,657.9 L235.7,660.3 L245.7,662.6 L255.8,664.8 L265.8,667.0 L275.8,669.1 L285.9,671.2 L295.9,673.2 L305.9,675.1 L316.0,677.0 L326.0,678.8 L336.1,680.6 L346.1,682.3 L356.1,683.9 L366.2,685.5 L376.2,687.0 L386.2,688.5 L396.3,689.9 L406.3,691.2 L416.4,692.5 L426.4,693.8 L436.4,694.9 L446.5,696.0 L456.5,697.1 L466.5,698.1 L476.6,699.0 L486.6,699.9 L496.7,700.7 L506.7,701.4 L516.7,702.1 L516.7,762.5 L506.7,759.1 L496.7,755.7 L486.6,752.5 L476.6,749.3 L466.5,746.3 L456.5,743.4 L446.5,740.6 L436.4,737.9 L426.4,735.3 L416.4,732.8 L406.3,730.4 L396.3,728.2 L386.2,726.0 L376.2,724.0 L366.2,722.0 L356.1,720.2 L346.1,718.4 L336.1,716.8 L326.0,715.3 L316.0,713.9 L305.9,712.6 L295.9,711.4 L285.9,710.3 L275.8,709.4 L265.8,708.5 L255.8,707.7 L245.7,707.1 L235.7,706.6 L225.6,706.1 L215.6,705.8 L205.6,705.6 L195.5,705.5 L185.5,705.5 L175.5,705.6 L165.4,705.8 L155.4,706.1 L145.3,706.5 L135.3,707.1 L125.3,707.7Z" fill="#999" fill-opacity="0.3"/>
<circle cx="139.1" cy="590.1" r="14.2" fill="#FF8C00" fill-opacity="0.8"/>
<circle cx="159.2" cy="571.4" r="14.2" fill="#FF8C00" fill-opacity="0.8"/>
<circle cx="162.1" cy="585.7" r="14.2" fill="#FF8C00" fill-opacity="0.8"/>
<circle cx="186.5" cy="617.4" r="14.2" fill="#FF8C00" fill-opacity="0.8"/>
<circle cx="188.0" cy="626.0" r="14.2" fill="#FF8C00" fill-opacity="0.8"/>
<circle cx="272.8" cy="601.6" r="14.2" fill="#FF8C00" fill-opacity="0.8"/>
<circle cx="255.6" cy="636.1" r="14.2" fill="#FF8C00" fill-opacity="0.8"/>
<circle cx="282.9" cy="650.5" r="14.2" fill="#FF8C00" fill-opacity="0.8"/>
<circle cx="295.8" cy="588.6" r="14.2" fill="#FF8C00" fill-opacity="0.8"/>
<circle cx="308.8" cy="584.3" r="14.2" fill="#FF8C00" fill-opacity="0.8"/>
<circle cx="307.3" cy="650.5" r="14.2" fill="#FF8C00" fill-opacity="0.8"/>
<circle cx="287.2" cy="618.8" r="14.2" fill="#FF8C00" fill-opacity="0.8"/>
<circle cx="327.5" cy="634.6" r="14.2" fill="#FF8C00" fill-opacity="0.8"/>
<circle cx="344.7" cy="634.6" r="14.2" fill="#FF8C00" fill-opacity="0.8"/>
<circle cx="359.1" cy="647.6" r="14.2" fill="#FF8C00" fill-opacity="0.8"/>
<circle cx="373.5" cy="587.2" r="14.2" fill="#FF8C00" fill-opacity="0.8"/>
<circle cx="373.5" cy="644.7" r="14.2" fill="#FF8C00" fill-opacity="0.8"/>
<circle cx="366.3" cy="631.8" r="14.2" fill="#FF8C00" fill-opacity="0.8"/>
<circle cx="363.4" cy="680.7" r="14.2" fill="#FF8C00" fill-opacity="0.8"/>
<circle cx="402.3" cy="628.9" r="14.2" fill="#FF8C00" fill-opacity="0.8"/>
<circle cx="399.4" cy="667.7" r="14.2" fill="#FF8C00" fill-opacity="0.8"/>
<circle cx="425.3" cy="659.1" r="14.2" fill="#FF8C00" fill-opacity="0.8"/>
<circle cx="436.8" cy="659.1" r="14.2" fill="#FF8C00" fill-opacity="0.8"/>
<circle cx="422.4" cy="667.7" r="14.2" fill="#FF8C00" fill-opacity="0.8"/>
<circle cx="464.1" cy="643.3" r="14.2" fill="#FF8C00" fill-opacity="0.8"/>
<circle cx="442.5" cy="736.7" r="14.2" fill="#FF8C00" fill-opacity="0.8"/>
<circle cx="419.5" cy="752.6" r="14.2" fill="#FF8C00" fill-opacity="0.8"/>
<circle cx="451.2" cy="754.0" r="14.2" fill="#FF8C00" fill-opacity="0.8"/>
<circle cx="455.5" cy="848.9" r="14.2" fill="#FF8C00" fill-opacity="0.8"/>
<circle cx="516.7" cy="699.3" r="14.2" fill="#FF8C00" fill-opacity="0.8"/>
<circle cx="506.4" cy="772.7" r="14.2" fill="#FF8C00" fill-opacity="0.8"/>
<circle cx="310.2" cy="710.9" r="14.2" fill="#FF8C00" fill-opacity="0.8"/>
<circle cx="271.4" cy="673.5" r="14.2" fill="#FF8C00" fill-opacity="0.8"/>
<circle cx="158.3" cy="578.0" r="14.2" fill="#32CD32" fill-opacity="0.8"/>
<circle cx="139.1" cy="594.4" r="14.2" fill="#32CD32" fill-opacity="0.8"/>
<circle cx="163.5" cy="585.7" r="14.2" fill="#32CD32" fill-opacity="0.8"/>
<circle cx="188.0" cy="620.3" r="14.2" fill="#32CD32" fill-opacity="0.8"/>
<circle cx="188.0" cy="627.4" r="14.2" fill="#32CD32" fill-opacity="0.8"/>
<circle cx="212.4" cy="645.3" r="14.2" fill="#32CD32" fill-opacity="0.8"/>
<circle cx="255.6" cy="604.4" r="14.2" fill="#32CD32" fill-opacity="0.8"/>
<circle cx="272.8" cy="604.4" r="14.2" fill="#32CD32" fill-opacity="0.8"/>
<circle cx="255.6" cy="638.9" r="14.2" fill="#32CD32" fill-opacity="0.8"/>
<circle cx="271.4" cy="676.3" r="14.2" fill="#32CD32" fill-opacity="0.8"/>
<circle cx="281.5" cy="621.7" r="14.2" fill="#32CD32" fill-opacity="0.8"/>
<circle cx="295.8" cy="584.3" r="14.2" fill="#32CD32" fill-opacity="0.8"/>
<circle cx="304.5" cy="592.9" r="14.2" fill="#32CD32" fill-opacity="0.8"/>
<circle cx="295.8" cy="630.3" r="14.2" fill="#32CD32" fill-opacity="0.8"/>
<circle cx="307.3" cy="647.6" r="14.2" fill="#32CD32" fill-opacity="0.8"/>
<circle cx="308.8" cy="677.8" r="14.2" fill="#32CD32" fill-opacity="0.8"/>
<circle cx="327.5" cy="638.9" r="14.2" fill="#32CD32" fill-opacity="0.8"/>
<circle cx="344.7" cy="631.8" r="14.2" fill="#32CD32" fill-opacity="0.8"/>
<circle cx="359.1" cy="624.6" r="14.2" fill="#32CD32" fill-opacity="0.8"/>
<circle cx="373.5" cy="618.8" r="14.2" fill="#32CD32" fill-opacity="0.8"/>
<circle cx="364.9" cy="662.0" r="14.2" fill="#32CD32" fill-opacity="0.8"/>
<circle cx="366.3" cy="676.3" r="14.2" fill="#32CD32" fill-opacity="0.8"/>
<circle cx="402.3" cy="637.5" r="14.2" fill="#32CD32" fill-opacity="0.8"/>
<circle cx="422.4" cy="676.3" r="14.2" fill="#32CD32" fill-opacity="0.8"/>
<circle cx="433.9" cy="676.3" r="14.2" fill="#32CD32" fill-opacity="0.8"/>
<circle cx="458.3" cy="555.5" r="14.2" fill="#32CD32" fill-opacity="0.8"/>
<circle cx="464.1" cy="603.0" r="14.2" fill="#32CD32" fill-opacity="0.8"/>
<circle cx="456.9" cy="650.5" r="14.2" fill="#32CD32" fill-opacity="0.8"/>
<circle cx="441.1" cy="710.9" r="14.2" fill="#32CD32" fill-opacity="0.8"/>
<circle cx="419.5" cy="772.7" r="14.2" fill="#32CD32" fill-opacity="0.8"/>
<circle cx="441.1" cy="768.4" r="14.2" fill="#32CD32" fill-opacity="0.8"/>
<circle cx="451.2" cy="784.2" r="14.2" fill="#32CD32" fill-opacity="0.8"/>
<circle cx="398.5" cy="794.3" r="14.2" fill="#32CD32" fill-opacity="0.8"/>
<circle cx="516.7" cy="861.9" r="14.2" fill="#32CD32" fill-opacity="0.8"/>
<circle cx="188.0" cy="495.1" r="14.2" fill="#6495ED" fill-opacity="0.8"/>
<circle cx="139.1" cy="618.8" r="14.2" fill="#6495ED" fill-opacity="0.8"/>
<circle cx="159.2" cy="578.5" r="14.2" fill="#6495ED" fill-opacity="0.8"/>
<circle cx="188.0" cy="647.6" r="14.2" fill="#6495ED" fill-opacity="0.8"/>
<circle cx="185.7" cy="705.1" r="14.2" fill="#6495ED" fill-opacity="0.8"/>
<circle cx="255.6" cy="710.9" r="14.2" fill="#6495ED" fill-opacity="0.8"/>
<circle cx="270.5" cy="743.9" r="14.2" fill="#6495ED" fill-opacity="0.8"/>
<circle cx="287.2" cy="582.9" r="14.2" fill="#6495ED" fill-opacity="0.8"/>
<circle cx="297.3" cy="582.9" r="14.2" fill="#6495ED" fill-opacity="0.8"/>
<circle cx="308.8" cy="643.3" r="14.2" fill="#6495ED" fill-opacity="0.8"/>
<circle cx="327.5" cy="686.4" r="14.2" fill="#6495ED" fill-opacity="0.8"/>
<circle cx="310.2" cy="710.9" r="14.2" fill="#6495ED" fill-opacity="0.8"/>
<circle cx="295.8" cy="722.4" r="14.2" fill="#6495ED" fill-opacity="0.8"/>
<circle cx="303.0" cy="722.4" r="14.2" fill="#6495ED" fill-opacity="0.8"/>
<circle cx="310.2" cy="738.2" r="14.2" fill="#6495ED" fill-opacity="0.8"/>
<circle cx="299.3" cy="760.6" r="14.2" fill="#6495ED" fill-opacity="0.8"/>
<circle cx="282.9" cy="801.5" r="14.2" fill="#6495ED" fill-opacity="0.8"/>
<circle cx="282.0" cy="804.3" r="14.2" fill="#6495ED" fill-opacity="0.8"/>
<circle cx="255.6" cy="869.0" r="14.2" fill="#6495ED" fill-opacity="0.8"/>
<circle cx="275.7" cy="869.0" r="14.2" fill="#6495ED" fill-opacity="0.8"/>
<circle cx="163.5" cy="837.4" r="14.2" fill="#6495ED" fill-opacity="0.8"/>
<circle cx="344.7" cy="718.0" r="14.2" fill="#6495ED" fill-opacity="0.8"/>
<circle cx="364.3" cy="725.2" r="14.2" fill="#6495ED" fill-opacity="0.8"/>
<circle cx="373.5" cy="702.2" r="14.2" fill="#6495ED" fill-opacity="0.8"/>
<circle cx="366.3" cy="673.5" r="14.2" fill="#6495ED" fill-opacity="0.8"/>
<circle cx="373.5" cy="617.4" r="14.2" fill="#6495ED" fill-opacity="0.8"/>
<circle cx="359.1" cy="768.4" r="14.2" fill="#6495ED" fill-opacity="0.8"/>
<circle cx="399.4" cy="673.5" r="14.2" fill="#6495ED" fill-opacity="0.8"/>
<circle cx="402.3" cy="696.5" r="14.2" fill="#6495ED" fill-opacity="0.8"/>
<circle cx="422.4" cy="722.4" r="14.2" fill="#6495ED" fill-opacity="0.8"/>
<circle cx="431.0" cy="693.6" r="14.2" fill="#6495ED" fill-opacity="0.8"/>
<circle cx="433.9" cy="705.1" r="14.2" fill="#6495ED" fill-opacity="0.8"/>
<circle cx="439.6" cy="676.3" r="14.2" fill="#6495ED" fill-opacity="0.8"/>
<circle cx="445.4" cy="676.3" r="14.2" fill="#6495ED" fill-opacity="0.8"/>
<circle cx="464.1" cy="765.5" r="14.2" fill="#6495ED" fill-opacity="0.8"/>
<circle cx="419.5" cy="785.6" r="14.2" fill="#6495ED" fill-opacity="0.8"/>
<circle cx="451.2" cy="784.2" r="14.2" fill="#6495ED" fill-opacity="0.8"/>
<circle cx="455.5" cy="869.0" r="14.2" fill="#6495ED" fill-opacity="0.8"/>
<circle cx="455.5" cy="853.2" r="14.2" fill="#6495ED" fill-opacity="0.8"/>
<circle cx="506.4" cy="775.6" r="14.2" fill="#6495ED" fill-opacity="0.8"/>
<circle cx="516.7" cy="729.5" r="14.2" fill="#6495ED" fill-opacity="0.8"/>
<path d="M139.1,583.6V596.6" stroke="#FF8C00" stroke-width="1.2"/><rect x="136.5" y="587.4" width="5.2" height="5.4" fill="#FF8C00"/>
<path d="M159.2,564.9V577.9" stroke="#FF8C00" stroke-width="1.2"/><rect x="156.6" y="568.7" width="5.2" height="5.4" fill="#FF8C00"/>
<path d="M162.1,579.2V592.2" stroke="#FF8C00" stroke-width="1.2"/><rect x="159.5" y="583.0" width="5.2" height="5.4" fill="#FF8C00"/>
<path d="M186.5,610.9V623.9" stroke="#FF8C00" stroke-width="1.2"/><rect x="183.9" y="614.7" width="5.2" height="5.4" fill="#FF8C00"/>
<path d="M188.0,619.5V632.5" stroke="#FF8C00" stroke-width="1.2"/><rect x="185.4" y="623.3" width="5.2" height="5.4" fill="#FF8C00"/>
<path d="M272.8,595.1V608.1" stroke="#FF8C00" stroke-width="1.2"/><rect x="270.2" y="598.9" width="5.2" height="5.4" fill="#FF8C00"/>
<path d="M255.6,629.6V642.6" stroke="#FF8C00" stroke-width="1.2"/><rect x="253.0" y="633.4" width="5.2" height="5.4" fill="#FF8C00"/>
<path d="M282.9,644.0V657.0" stroke="#FF8C00" stroke-width="1.2"/><rect x="280.3" y="647.8" width="5.2" height="5.4" fill="#FF8C00"/>
<path d="M295.8,582.1V595.1" stroke="#FF8C00" stroke-width="1.2"/><rect x="293.2" y="585.9" width="5.2" height="5.4" fill="#FF8C00"/>
<path d="M308.8,577.8V590.8" stroke="#FF8C00" stroke-width="1.2"/><rect x="306.2" y="581.6" width="5.2" height="5.4" fill="#FF8C00"/>
<path d="M307.3,644.0V657.0" stroke="#FF8C00" stroke-width="1.2"/><rect x="304.7" y="647.8" width="5.2" height="5.4" fill="#FF8C00"/>
<path d="M287.2,612.3V625.3" stroke="#FF8C00" stroke-width="1.2"/><rect x="284.6" y="616.1" width="5.2" height="5.4" fill="#FF8C00"/>
<path d="M327.5,628.1V641.1" stroke="#FF8C00" stroke-width="1.2"/><rect x="324.9" y="631.9" width="5.2" height="5.4" fill="#FF8C00"/>
<path d="M344.7,628.1V641.1" stroke="#FF8C00" stroke-width="1.2"/><rect x="342.1" y="631.9" width="5.2" height="5.4" fill="#FF8C00"/>
<path d="M359.1,641.1V654.1" stroke="#FF8C00" stroke-width="1.2"/><rect x="356.5" y="644.9" width="5.2" height="5.4" fill="#FF8C00"/>
<path d="M373.5,580.7V593.7" stroke="#FF8C00" stroke-width="1.2"/><rect x="370.9" y="584.5" width="5.2" height="5.4" fill="#FF8C00"/>
<path d="M373.5,638.2V651.2" stroke="#FF8C00" stroke-width="1.2"/><rect x="370.9" y="642.0" width="5.2" height="5.4" fill="#FF8C00"/>
<path d="M366.3,625.3V638.3" stroke="#FF8C00" stroke-width="1.2"/><rect x="363.7" y="629.1" width="5.2" height="5.4" fill="#FF8C00"/>
<path d="M363.4,674.2V687.2" stroke="#FF8C00" stroke-width="1.2"/><rect x="360.8" y="678.0" width="5.2" height="5.4" fill="#FF8C00"/>
<path d="M402.3,622.4V635.4" stroke="#FF8C00" stroke-width="1.2"/><rect x="399.7" y="626.2" width="5.2" height="5.4" fill="#FF8C00"/>
<path d="M399.4,661.2V674.2" stroke="#FF8C00" stroke-width="1.2"/><rect x="396.8" y="665.0" width="5.2" height="5.4" fill="#FF8C00"/>
<path d="M425.3,652.6V665.6" stroke="#FF8C00" stroke-width="1.2"/><rect x="422.7" y="656.4" width="5.2" height="5.4" fill="#FF8C00"/>
<path d="M436.8,652.6V665.6" stroke="#FF8C00" stroke-width="1.2"/><rect x="434.2" y="656.4" width="5.2" height="5.4" fill="#FF8C00"/>
<path d="M422.4,661.2V674.2" stroke="#FF8C00" stroke-width="1.2"/><rect x="419.8" y="665.0" width="5.2" height="5.4" fill="#FF8C00"/>
<path d="M464.1,636.8V649.8" stroke="#FF8C00" stroke-width="1.2"/><rect x="461.5" y="640.6" width="5.2" height="5.4" fill="#FF8C00"/>
<path d="M442.5,730.2V743.2" stroke="#FF8C00" stroke-width="1.2"/><rect x="439.9" y="734.0" width="5.2" height="5.4" fill="#FF8C00"/>
<path d="M419.5,746.1V759.1" stroke="#FF8C00" stroke-width="1.2"/><rect x="416.9" y="749.9" width="5.2" height="5.4" fill="#FF8C00"/>
<path d="M451.2,747.5V760.5" stroke="#FF8C00" stroke-width="1.2"/><rect x="448.6" y="751.3" width="5.2" height="5.4" fill="#FF8C00"/>
<path d="M455.5,842.4V855.4" stroke="#FF8C00" stroke-width="1.2"/><rect x="452.9" y="846.2" width="5.2" height="5.4" fill="#FF8C00"/>
<path d="M516.7,692.8V705.8" stroke="#FF8C00" stroke-width="1.2"/><rect x="514.1" y="696.6" width="5.2" height="5.4" fill="#FF8C00"/>
<path d="M506.4,766.2V779.2" stroke="#FF8C00" stroke-width="1.2"/><rect x="503.8" y="770.0" width="5.2" height="5.4" fill="#FF8C00"/>
<path d="M310.2,704.4V717.4" stroke="#FF8C00" stroke-width="1.2"/><rect x="307.6" y="708.2" width="5.2" height="5.4" fill="#FF8C00"/>
<path d="M271.4,667.0V680.0" stroke="#FF8C00" stroke-width="1.2"/><rect x="268.8" y="670.8" width="5.2" height="5.4" fill="#FF8C00"/>
<path d="M158.3,571.5V584.5" stroke="#32CD32" stroke-width="1.2"/><rect x="155.7" y="575.3" width="5.2" height="5.4" fill="#32CD32"/>
<path d="M139.1,587.9V600.9" stroke="#32CD32" stroke-width="1.2"/><rect x="136.5" y="591.7" width="5.2" height="5.4" fill="#32CD32"/>
<path d="M163.5,579.2V592.2" stroke="#32CD32" stroke-width="1.2"/><rect x="160.9" y="583.0" width="5.2" height="5.4" fill="#32CD32"/>
<path d="M188.0,613.8V626.8" stroke="#32CD32" stroke-width="1.2"/><rect x="185.4" y="617.6" width="5.2" height="5.4" fill="#32CD32"/>
<path d="M188.0,620.9V633.9" stroke="#32CD32" stroke-width="1.2"/><rect x="185.4" y="624.7" width="5.2" height="5.4" fill="#32CD32"/>
<path d="M212.4,638.8V651.8" stroke="#32CD32" stroke-width="1.2"/><rect x="209.8" y="642.6" width="5.2" height="5.4" fill="#32CD32"/>
<path d="M255.6,597.9V610.9" stroke="#32CD32" stroke-width="1.2"/><rect x="253.0" y="601.7" width="5.2" height="5.4" fill="#32CD32"/>
<path d="M272.8,597.9V610.9" stroke="#32CD32" stroke-width="1.2"/><rect x="270.2" y="601.7" width="5.2" height="5.4" fill="#32CD32"/>
<path d="M255.6,632.4V645.4" stroke="#32CD32" stroke-width="1.2"/><rect x="253.0" y="636.2" width="5.2" height="5.4" fill="#32CD32"/>
<path d="M271.4,669.8V682.8" stroke="#32CD32" stroke-width="1.2"/><rect x="268.8" y="673.6" width="5.2" height="5.4" fill="#32CD32"/>
<path d="M281.5,615.2V628.2" stroke="#32CD32" stroke-width="1.2"/><rect x="278.9" y="619.0" width="5.2" height="5.4" fill="#32CD32"/>
<path d="M295.8,577.8V590.8" stroke="#32CD32" stroke-width="1.2"/><rect x="293.2" y="581.6" width="5.2" height="5.4" fill="#32CD32"/>
<path d="M304.5,586.4V599.4" stroke="#32CD32" stroke-width="1.2"/><rect x="301.9" y="590.2" width="5.2" height="5.4" fill="#32CD32"/>
<path d="M295.8,623.8V636.8" stroke="#32CD32" stroke-width="1.2"/><rect x="293.2" y="627.6" width="5.2" height="5.4" fill="#32CD32"/>
<path d="M307.3,641.1V654.1" stroke="#32CD32" stroke-width="1.2"/><rect x="304.7" y="644.9" width="5.2" height="5.4" fill="#32CD32"/>
<path d="M308.8,671.3V684.3" stroke="#32CD32" stroke-width="1.2"/><rect x="306.2" y="675.1" width="5.2" height="5.4" fill="#32CD32"/>
<path d="M327.5,632.4V645.4" stroke="#32CD32" stroke-width="1.2"/><rect x="324.9" y="636.2" width="5.2" height="5.4" fill="#32CD32"/>
<path d="M344.7,625.3V638.3" stroke="#32CD32" stroke-width="1.2"/><rect x="342.1" y="629.1" width="5.2" height="5.4" fill="#32CD32"/>
<path d="M359.1,618.1V631.1" stroke="#32CD32" stroke-width="1.2"/><rect x="356.5" y="621.9" width="5.2" height="5.4" fill="#32CD32"/>
<path d="M373.5,612.3V625.3" stroke="#32CD32" stroke-width="1.2"/><rect x="370.9" y="616.1" width="5.2" height="5.4" fill="#32CD32"/>
<path d="M364.9,655.5V668.5" stroke="#32CD32" stroke-width="1.2"/><rect x="362.3" y="659.3" width="5.2" height="5.4" fill="#32CD32"/>
<path d="M366.3,669.8V682.8" stroke="#32CD32" stroke-width="1.2"/><rect x="363.7" y="673.6" width="5.2" height="5.4" fill="#32CD32"/>
<path d="M402.3,631.0V644.0" stroke="#32CD32" stroke-width="1.2"/><rect x="399.7" y="634.8" width="5.2" height="5.4" fill="#32CD32"/>
<path d="M422.4,669.8V682.8" stroke="#32CD32" stroke-width="1.2"/><rect x="419.8" y="673.6" width="5.2" height="5.4" fill="#32CD32"/>
<path d="M433.9,669.8V682.8" stroke="#32CD32" stroke-width="1.2"/><rect x="431.3" y="673.6" width="5.2" height="5.4" fill="#32CD32"/>
<line x1="458.3" x2="458.3" y1="492.6" y2="684.6" stroke="#32CD32" stroke-width="1.6"/>
<line x1="458.3" x2="458.3" y1="495.1" y2="682.1" stroke="#32CD32" stroke-width="5.6"/>
<path d="M464.1,596.5V609.5" stroke="#32CD32" stroke-width="1.2"/><rect x="461.5" y="600.3" width="5.2" height="5.4" fill="#32CD32"/>
<path d="M456.9,644.0V657.0" stroke="#32CD32" stroke-width="1.2"/><rect x="454.3" y="647.8" width="5.2" height="5.4" fill="#32CD32"/>
<line x1="441.1" x2="441.1" y1="688.2" y2="727.7" stroke="#32CD32" stroke-width="1.6"/>
<line x1="441.1" x2="441.1" y1="690.7" y2="725.2" stroke="#32CD32" stroke-width="5.6"/>
<path d="M419.5,766.2V779.2" stroke="#32CD32" stroke-width="1.2"/><rect x="416.9" y="770.0" width="5.2" height="5.4" fill="#32CD32"/>
<path d="M441.1,761.9V774.9" stroke="#32CD32" stroke-width="1.2"/><rect x="438.5" y="765.7" width="5.2" height="5.4" fill="#32CD32"/>
<line x1="451.2" x2="451.2" y1="768.8" y2="796.8" stroke="#32CD32" stroke-width="1.6"/>
<line x1="451.2" x2="451.2" y1="771.3" y2="794.3" stroke="#32CD32" stroke-width="5.6"/>
<path d="M398.5,787.8V800.8" stroke="#32CD32" stroke-width="1.2"/><rect x="395.9" y="791.6" width="5.2" height="5.4" fill="#32CD32"/>
<line x1="516.7" x2="516.7" y1="849.3" y2="874.4" stroke="#32CD32" stroke-width="1.6"/>
<line x1="516.7" x2="516.7" y1="851.8" y2="871.9" stroke="#32CD32" stroke-width="5.6"/>
<path d="M188.0,488.6V501.6" stroke="#6495ED" stroke-width="1.2"/><rect x="185.4" y="492.4" width="5.2" height="5.4" fill="#6495ED"/>
<path d="M139.1,612.3V625.3" stroke="#6495ED" stroke-width="1.2"/><rect x="136.5" y="616.1" width="5.2" height="5.4" fill="#6495ED"/>
<path d="M159.2,572.0V585.0" stroke="#6495ED" stroke-width="1.2"/><rect x="156.6" y="575.8" width="5.2" height="5.4" fill="#6495ED"/>
<line x1="188.0" x2="188.0" y1="629.3" y2="667.3" stroke="#6495ED" stroke-width="1.6"/>
<line x1="188.0" x2="188.0" y1="631.8" y2="664.8" stroke="#6495ED" stroke-width="5.6"/>
<line x1="185.7" x2="185.7" y1="692.5" y2="717.7" stroke="#6495ED" stroke-width="1.6"/>
<line x1="185.7" x2="185.7" y1="695.0" y2="715.2" stroke="#6495ED" stroke-width="5.6"/>
<line x1="255.6" x2="255.6" y1="668.1" y2="753.6" stroke="#6495ED" stroke-width="1.6"/>
<line x1="255.6" x2="255.6" y1="670.6" y2="751.1" stroke="#6495ED" stroke-width="5.6"/>
<line x1="270.5" x2="270.5" y1="731.4" y2="756.5" stroke="#6495ED" stroke-width="1.6"/>
<line x1="270.5" x2="270.5" y1="733.9" y2="754.0" stroke="#6495ED" stroke-width="5.6"/>
<path d="M287.2,576.4V589.4" stroke="#6495ED" stroke-width="1.2"/><rect x="284.6" y="580.2" width="5.2" height="5.4" fill="#6495ED"/>
<path d="M297.3,576.4V589.4" stroke="#6495ED" stroke-width="1.2"/><rect x="294.7" y="580.2" width="5.2" height="5.4" fill="#6495ED"/>
<path d="M308.8,636.8V649.8" stroke="#6495ED" stroke-width="1.2"/><rect x="306.2" y="640.6" width="5.2" height="5.4" fill="#6495ED"/>
<path d="M327.5,679.9V692.9" stroke="#6495ED" stroke-width="1.2"/><rect x="324.9" y="683.7" width="5.2" height="5.4" fill="#6495ED"/>
<path d="M310.2,704.4V717.4" stroke="#6495ED" stroke-width="1.2"/><rect x="307.6" y="708.2" width="5.2" height="5.4" fill="#6495ED"/>
<path d="M295.8,715.9V728.9" stroke="#6495ED" stroke-width="1.2"/><rect x="293.2" y="719.7" width="5.2" height="5.4" fill="#6495ED"/>
<path d="M303.0,715.9V728.9" stroke="#6495ED" stroke-width="1.2"/><rect x="300.4" y="719.7" width="5.2" height="5.4" fill="#6495ED"/>
<path d="M310.2,731.7V744.7" stroke="#6495ED" stroke-width="1.2"/><rect x="307.6" y="735.5" width="5.2" height="5.4" fill="#6495ED"/>
<path d="M299.3,754.1V767.1" stroke="#6495ED" stroke-width="1.2"/><rect x="296.7" y="757.9" width="5.2" height="5.4" fill="#6495ED"/>
<path d="M282.9,795.0V808.0" stroke="#6495ED" stroke-width="1.2"/><rect x="280.3" y="798.8" width="5.2" height="5.4" fill="#6495ED"/>
<path d="M282.0,797.8V810.8" stroke="#6495ED" stroke-width="1.2"/><rect x="279.4" y="801.6" width="5.2" height="5.4" fill="#6495ED"/>
<path d="M255.6,862.5V875.5" stroke="#6495ED" stroke-width="1.2"/><rect x="253.0" y="866.3" width="5.2" height="5.4" fill="#6495ED"/>
<path d="M275.7,862.5V875.5" stroke="#6495ED" stroke-width="1.2"/><rect x="273.1" y="866.3" width="5.2" height="5.4" fill="#6495ED"/>
<path d="M163.5,830.9V843.9" stroke="#6495ED" stroke-width="1.2"/><rect x="160.9" y="834.7" width="5.2" height="5.4" fill="#6495ED"/>
<path d="M344.7,711.5V724.5" stroke="#6495ED" stroke-width="1.2"/><rect x="342.1" y="715.3" width="5.2" height="5.4" fill="#6495ED"/>
<path d="M364.3,718.7V731.7" stroke="#6495ED" stroke-width="1.2"/><rect x="361.7" y="722.5" width="5.2" height="5.4" fill="#6495ED"/>
<path d="M373.5,695.7V708.7" stroke="#6495ED" stroke-width="1.2"/><rect x="370.9" y="699.5" width="5.2" height="5.4" fill="#6495ED"/>
<path d="M366.3,667.0V680.0" stroke="#6495ED" stroke-width="1.2"/><rect x="363.7" y="670.8" width="5.2" height="5.4" fill="#6495ED"/>
<path d="M373.5,610.9V623.9" stroke="#6495ED" stroke-width="1.2"/><rect x="370.9" y="614.7" width="5.2" height="5.4" fill="#6495ED"/>
<path d="M359.1,761.9V774.9" stroke="#6495ED" stroke-width="1.2"/><rect x="356.5" y="765.7" width="5.2" height="5.4" fill="#6495ED"/>
<path d="M399.4,667.0V680.0" stroke="#6495ED" stroke-width="1.2"/><rect x="396.8" y="670.8" width="5.2" height="5.4" fill="#6495ED"/>
<path d="M402.3,690.0V703.0" stroke="#6495ED" stroke-width="1.2"/><rect x="399.7" y="693.8" width="5.2" height="5.4" fill="#6495ED"/>
<path d="M422.4,715.9V728.9" stroke="#6495ED" stroke-width="1.2"/><rect x="419.8" y="719.7" width="5.2" height="5.4" fill="#6495ED"/>
<path d="M431.0,687.1V700.1" stroke="#6495ED" stroke-width="1.2"/><rect x="428.4" y="690.9" width="5.2" height="5.4" fill="#6495ED"/>
<path d="M433.9,698.6V711.6" stroke="#6495ED" stroke-width="1.2"/><rect x="431.3" y="702.4" width="5.2" height="5.4" fill="#6495ED"/>
<path d="M439.6,669.8V682.8" stroke="#6495ED" stroke-width="1.2"/><rect x="437.0" y="673.6" width="5.2" height="5.4" fill="#6495ED"/>
<path d="M445.4,669.8V682.8" stroke="#6495ED" stroke-width="1.2"/><rect x="442.8" y="673.6" width="5.2" height="5.4" fill="#6495ED"/>
<path d="M464.1,759.0V772.0" stroke="#6495ED" stroke-width="1.2"/><rect x="461.5" y="762.8" width="5.2" height="5.4" fill="#6495ED"/>
<path d="M419.5,779.1V792.1" stroke="#6495ED" stroke-width="1.2"/><rect x="416.9" y="782.9" width="5.2" height="5.4" fill="#6495ED"/>
<path d="M451.2,777.7V790.7" stroke="#6495ED" stroke-width="1.2"/><rect x="448.6" y="781.5" width="5.2" height="5.4" fill="#6495ED"/>
<path d="M455.5,862.5V875.5" stroke="#6495ED" stroke-width="1.2"/><rect x="452.9" y="866.3" width="5.2" height="5.4" fill="#6495ED"/>
<path d="M455.5,846.7V859.7" stroke="#6495ED" stroke-width="1.2"/><rect x="452.9" y="850.5" width="5.2" height="5.4" fill="#6495ED"/>
<path d="M506.4,769.1V782.1" stroke="#6495ED" stroke-width="1.2"/><rect x="503.8" y="772.9" width="5.2" height="5.4" fill="#6495ED"/>
<path d="M516.7,723.0V736.0" stroke="#6495ED" stroke-width="1.2"/><rect x="514.1" y="726.8" width="5.2" height="5.4" fill="#6495ED"/>
<path d="M125.3,582.9 L516.7,716.6" fill="none" stroke="#FF8C00" stroke-width="5.3"/>
<path d="M125.3,585.7 L516.7,712.3" fill="none" stroke="#32CD32" stroke-width="5.3"/>
<path d="M125.3,664.8 L516.7,738.2" fill="none" stroke="#6495ED" stroke-width="5.3" stroke-dasharray="10.2,10.2"/>
</g>
<text x="125.8" y="532.2" font-family='"Liberation Sans", sans-serif' font-weight="bold" font-size="51.8" fill="#000">b</text>
<rect x="106.50" y="475.15" width="429.60" height="414.00" fill="none" stroke="#333" stroke-width="1.8"/>
<line x1="550.20" x2="979.80" y1="823.64" y2="823.64" stroke="#EBEBEB" stroke-width="1.07"/><line x1="550.20" x2="979.80" y1="729.31" y2="729.31" stroke="#EBEBEB" stroke-width="1.07"/><line x1="550.20" x2="979.80" y1="634.99" y2="634.99" stroke="#EBEBEB" stroke-width="1.07"/><line x1="550.20" x2="979.80" y1="540.66" y2="540.66" stroke="#EBEBEB" stroke-width="1.07"/><line y1="475.15" y2="889.15" x1="629.10" x2="629.10" stroke="#EBEBEB" stroke-width="1.07"/><line y1="475.15" y2="889.15" x1="749.10" x2="749.10" stroke="#EBEBEB" stroke-width="1.07"/><line y1="475.15" y2="889.15" x1="869.10" x2="869.10" stroke="#EBEBEB" stroke-width="1.07"/><line x1="550.20" x2="979.80" y1="870.80" y2="870.80" stroke="#EBEBEB" stroke-width="2.13"/><line x1="550.20" x2="979.80" y1="776.48" y2="776.48" stroke="#EBEBEB" stroke-width="2.13"/><line x1="550.20" x2="979.80" y1="682.15" y2="682.15" stroke="#EBEBEB" stroke-width="2.13"/><line x1="550.20" x2="979.80" y1="587.83" y2="587.83" stroke="#EBEBEB" stroke-width="2.13"/><line x1="550.20" x2="979.80" y1="493.50" y2="493.50" stroke="#EBEBEB" stroke-width="2.13"/><line y1="475.15" y2="889.15" x1="569.10" x2="569.10" stroke="#EBEBEB" stroke-width="2.13"/><line y1="475.15" y2="889.15" x1="689.10" x2="689.10" stroke="#EBEBEB" stroke-width="2.13"/><line y1="475.15" y2="889.15" x1="809.10" x2="809.10" stroke="#EBEBEB" stroke-width="2.13"/><line y1="475.15" y2="889.15" x1="929.10" x2="929.10" stroke="#EBEBEB" stroke-width="2.13"/>
<g clip-path="url(#cp11)">
<path d="M569.3,608.7 L579.3,613.5 L589.3,618.1 L599.4,622.7 L609.4,627.1 L619.5,631.3 L629.5,635.5 L639.5,639.5 L649.6,643.4 L659.6,647.2 L669.6,650.9 L679.7,654.5 L689.7,657.9 L699.8,661.2 L709.8,664.4 L719.8,667.5 L729.9,670.4 L739.9,673.3 L749.9,676.0 L760.0,678.6 L770.0,681.0 L780.1,683.4 L790.1,685.6 L800.1,687.7 L810.2,689.7 L820.2,691.6 L830.2,693.3 L840.3,695.0 L850.3,696.5 L860.4,697.9 L870.4,699.1 L880.4,700.3 L890.5,701.3 L900.5,702.2 L910.5,703.0 L920.6,703.6 L930.6,704.2 L940.7,704.6 L950.7,704.9 L960.7,705.1 L960.7,759.7 L950.7,756.4 L940.7,753.0 L930.6,749.7 L920.6,746.5 L910.5,743.3 L900.5,740.1 L890.5,736.9 L880.4,733.9 L870.4,730.8 L860.4,727.8 L850.3,724.9 L840.3,721.9 L830.2,719.1 L820.2,716.2 L810.2,713.4 L800.1,710.7 L790.1,708.0 L780.1,705.3 L770.0,702.7 L760.0,700.1 L749.9,697.6 L739.9,695.1 L729.9,692.6 L719.8,690.2 L709.8,687.8 L699.8,685.5 L689.7,683.2 L679.7,681.0 L669.6,678.8 L659.6,676.6 L649.6,674.5 L639.5,672.4 L629.5,670.4 L619.5,668.4 L609.4,666.4 L599.4,664.5 L589.3,662.7 L579.3,660.9 L569.3,659.1Z" fill="#999" fill-opacity="0.3"/>
<path d="M569.3,618.8 L579.3,623.0 L589.3,627.1 L599.4,631.2 L609.4,635.1 L619.5,638.9 L629.5,642.7 L639.5,646.3 L649.6,649.9 L659.6,653.3 L669.6,656.7 L679.7,660.0 L689.7,663.2 L699.8,666.3 L709.8,669.3 L719.8,672.2 L729.9,675.0 L739.9,677.7 L749.9,680.3 L760.0,682.8 L770.0,685.3 L780.1,687.6 L790.1,689.8 L800.1,692.0 L810.2,694.1 L820.2,696.0 L830.2,697.9 L840.3,699.7 L850.3,701.4 L860.4,703.0 L870.4,704.5 L880.4,705.9 L890.5,707.2 L900.5,708.4 L910.5,709.5 L920.6,710.5 L930.6,711.5 L940.7,712.3 L950.7,713.1 L960.7,713.7 L960.7,751.1 L950.7,748.1 L940.7,745.1 L930.6,742.1 L920.6,739.2 L910.5,736.2 L900.5,733.3 L890.5,730.5 L880.4,727.6 L870.4,724.8 L860.4,722.0 L850.3,719.3 L840.3,716.6 L830.2,713.9 L820.2,711.2 L810.2,708.5 L800.1,705.9 L790.1,703.3 L780.1,700.8 L770.0,698.2 L760.0,695.7 L749.9,693.3 L739.9,690.8 L729.9,688.4 L719.8,686.0 L709.8,683.6 L699.8,681.3 L689.7,679.0 L679.7,676.7 L669.6,674.4 L659.6,672.2 L649.6,670.0 L639.5,667.8 L629.5,665.6 L619.5,663.5 L609.4,661.4 L599.4,659.4 L589.3,657.3 L579.3,655.3 L569.3,653.3Z" fill="#999" fill-opacity="0.3"/>
<path d="M569.3,673.5 L579.3,676.8 L589.3,680.1 L599.4,683.2 L609.4,686.3 L619.5,689.3 L629.5,692.1 L639.5,694.9 L649.6,697.6 L659.6,700.2 L669.6,702.7 L679.7,705.1 L689.7,707.4 L699.8,709.6 L709.8,711.7 L719.8,713.7 L729.9,715.7 L739.9,717.5 L749.9,719.2 L760.0,720.9 L770.0,722.4 L780.1,723.9 L790.1,725.3 L800.1,726.5 L810.2,727.7 L820.2,728.8 L830.2,729.7 L840.3,730.6 L850.3,731.4 L860.4,732.1 L870.4,732.7 L880.4,733.2 L890.5,733.6 L900.5,734.0 L910.5,734.2 L920.6,734.3 L930.6,734.3 L940.7,734.3 L950.7,734.1 L960.7,733.9 L960.7,791.4 L950.7,788.3 L940.7,785.2 L930.6,782.2 L920.6,779.3 L910.5,776.5 L900.5,773.8 L890.5,771.1 L880.4,768.5 L870.4,766.0 L860.4,763.6 L850.3,761.3 L840.3,759.0 L830.2,756.9 L820.2,754.8 L810.2,752.7 L800.1,750.8 L790.1,748.9 L780.1,747.1 L770.0,745.4 L760.0,743.8 L749.9,742.3 L739.9,740.8 L729.9,739.4 L719.8,738.1 L709.8,736.9 L699.8,735.8 L689.7,734.7 L679.7,733.7 L669.6,732.8 L659.6,732.0 L649.6,731.2 L639.5,730.6 L629.5,730.0 L619.5,729.5 L609.4,729.0 L599.4,728.7 L589.3,728.4 L579.3,728.2 L569.3,728.1Z" fill="#999" fill-opacity="0.3"/>
<circle cx="583.1" cy="630.3" r="14.2" fill="#FF8C00" fill-opacity="0.8"/>
<circle cx="603.2" cy="624.6" r="14.2" fill="#FF8C00" fill-opacity="0.8"/>
<circle cx="607.5" cy="653.3" r="14.2" fill="#FF8C00" fill-opacity="0.8"/>
<circle cx="630.5" cy="673.5" r="14.2" fill="#FF8C00" fill-opacity="0.8"/>
<circle cx="656.4" cy="712.3" r="14.2" fill="#FF8C00" fill-opacity="0.8"/>
<circle cx="699.6" cy="654.8" r="14.2" fill="#FF8C00" fill-opacity="0.8"/>
<circle cx="716.8" cy="630.3" r="14.2" fill="#FF8C00" fill-opacity="0.8"/>
<circle cx="745.6" cy="624.6" r="14.2" fill="#FF8C00" fill-opacity="0.8"/>
<circle cx="751.3" cy="631.8" r="14.2" fill="#FF8C00" fill-opacity="0.8"/>
<circle cx="739.8" cy="630.3" r="14.2" fill="#FF8C00" fill-opacity="0.8"/>
<circle cx="728.3" cy="682.1" r="14.2" fill="#FF8C00" fill-opacity="0.8"/>
<circle cx="742.7" cy="697.9" r="14.2" fill="#FF8C00" fill-opacity="0.8"/>
<circle cx="751.3" cy="693.6" r="14.2" fill="#FF8C00" fill-opacity="0.8"/>
<circle cx="771.5" cy="670.6" r="14.2" fill="#FF8C00" fill-opacity="0.8"/>
<circle cx="797.4" cy="664.8" r="14.2" fill="#FF8C00" fill-opacity="0.8"/>
<circle cx="803.1" cy="667.7" r="14.2" fill="#FF8C00" fill-opacity="0.8"/>
<circle cx="817.5" cy="631.8" r="14.2" fill="#FF8C00" fill-opacity="0.8"/>
<circle cx="808.9" cy="713.7" r="14.2" fill="#FF8C00" fill-opacity="0.8"/>
<circle cx="820.4" cy="676.3" r="14.2" fill="#FF8C00" fill-opacity="0.8"/>
<circle cx="846.3" cy="664.8" r="14.2" fill="#FF8C00" fill-opacity="0.8"/>
<circle cx="843.4" cy="689.3" r="14.2" fill="#FF8C00" fill-opacity="0.8"/>
<circle cx="866.4" cy="716.6" r="14.2" fill="#FF8C00" fill-opacity="0.8"/>
<circle cx="883.6" cy="683.5" r="14.2" fill="#FF8C00" fill-opacity="0.8"/>
<circle cx="886.5" cy="705.1" r="14.2" fill="#FF8C00" fill-opacity="0.8"/>
<circle cx="908.1" cy="705.1" r="14.2" fill="#FF8C00" fill-opacity="0.8"/>
<circle cx="895.2" cy="792.8" r="14.2" fill="#FF8C00" fill-opacity="0.8"/>
<circle cx="886.5" cy="777.0" r="14.2" fill="#FF8C00" fill-opacity="0.8"/>
<circle cx="899.5" cy="853.2" r="14.2" fill="#FF8C00" fill-opacity="0.8"/>
<circle cx="753.6" cy="758.3" r="14.2" fill="#FF8C00" fill-opacity="0.8"/>
<circle cx="960.7" cy="731.0" r="14.2" fill="#FF8C00" fill-opacity="0.8"/>
<circle cx="950.4" cy="792.8" r="14.2" fill="#FF8C00" fill-opacity="0.8"/>
<circle cx="583.1" cy="636.1" r="14.2" fill="#32CD32" fill-opacity="0.8"/>
<circle cx="603.2" cy="624.6" r="14.2" fill="#32CD32" fill-opacity="0.8"/>
<circle cx="607.5" cy="647.6" r="14.2" fill="#32CD32" fill-opacity="0.8"/>
<circle cx="630.5" cy="679.2" r="14.2" fill="#32CD32" fill-opacity="0.8"/>
<circle cx="632.0" cy="683.5" r="14.2" fill="#32CD32" fill-opacity="0.8"/>
<circle cx="656.4" cy="716.6" r="14.2" fill="#32CD32" fill-opacity="0.8"/>
<circle cx="699.6" cy="654.8" r="14.2" fill="#32CD32" fill-opacity="0.8"/>
<circle cx="699.6" cy="677.8" r="14.2" fill="#32CD32" fill-opacity="0.8"/>
<circle cx="716.8" cy="630.3" r="14.2" fill="#32CD32" fill-opacity="0.8"/>
<circle cx="725.5" cy="664.8" r="14.2" fill="#32CD32" fill-opacity="0.8"/>
<circle cx="739.8" cy="618.8" r="14.2" fill="#32CD32" fill-opacity="0.8"/>
<circle cx="751.3" cy="636.1" r="14.2" fill="#32CD32" fill-opacity="0.8"/>
<circle cx="734.1" cy="685.0" r="14.2" fill="#32CD32" fill-opacity="0.8"/>
<circle cx="722.6" cy="682.1" r="14.2" fill="#32CD32" fill-opacity="0.8"/>
<circle cx="745.6" cy="687.8" r="14.2" fill="#32CD32" fill-opacity="0.8"/>
<circle cx="771.5" cy="676.3" r="14.2" fill="#32CD32" fill-opacity="0.8"/>
<circle cx="788.7" cy="676.3" r="14.2" fill="#32CD32" fill-opacity="0.8"/>
<circle cx="803.1" cy="677.8" r="14.2" fill="#32CD32" fill-opacity="0.8"/>
<circle cx="817.5" cy="656.2" r="14.2" fill="#32CD32" fill-opacity="0.8"/>
<circle cx="808.9" cy="708.0" r="14.2" fill="#32CD32" fill-opacity="0.8"/>
<circle cx="846.3" cy="679.2" r="14.2" fill="#32CD32" fill-opacity="0.8"/>
<circle cx="883.6" cy="693.6" r="14.2" fill="#32CD32" fill-opacity="0.8"/>
<circle cx="902.3" cy="659.1" r="14.2" fill="#32CD32" fill-opacity="0.8"/>
<circle cx="908.1" cy="667.7" r="14.2" fill="#32CD32" fill-opacity="0.8"/>
<circle cx="866.4" cy="722.4" r="14.2" fill="#32CD32" fill-opacity="0.8"/>
<circle cx="877.9" cy="731.0" r="14.2" fill="#32CD32" fill-opacity="0.8"/>
<circle cx="877.9" cy="742.5" r="14.2" fill="#32CD32" fill-opacity="0.8"/>
<circle cx="863.5" cy="794.3" r="14.2" fill="#32CD32" fill-opacity="0.8"/>
<circle cx="886.5" cy="800.0" r="14.2" fill="#32CD32" fill-opacity="0.8"/>
<circle cx="842.5" cy="808.6" r="14.2" fill="#32CD32" fill-opacity="0.8"/>
<circle cx="895.2" cy="833.1" r="14.2" fill="#32CD32" fill-opacity="0.8"/>
<circle cx="714.5" cy="729.5" r="14.2" fill="#32CD32" fill-opacity="0.8"/>
<circle cx="753.6" cy="752.6" r="14.2" fill="#32CD32" fill-opacity="0.8"/>
<circle cx="960.7" cy="864.7" r="14.2" fill="#32CD32" fill-opacity="0.8"/>
<circle cx="583.1" cy="660.5" r="14.2" fill="#6495ED" fill-opacity="0.8"/>
<circle cx="603.2" cy="636.1" r="14.2" fill="#6495ED" fill-opacity="0.8"/>
<circle cx="632.0" cy="664.8" r="14.2" fill="#6495ED" fill-opacity="0.8"/>
<circle cx="632.0" cy="718.0" r="14.2" fill="#6495ED" fill-opacity="0.8"/>
<circle cx="629.1" cy="728.1" r="14.2" fill="#6495ED" fill-opacity="0.8"/>
<circle cx="699.6" cy="708.0" r="14.2" fill="#6495ED" fill-opacity="0.8"/>
<circle cx="737.0" cy="646.1" r="14.2" fill="#6495ED" fill-opacity="0.8"/>
<circle cx="726.9" cy="653.3" r="14.2" fill="#6495ED" fill-opacity="0.8"/>
<circle cx="751.3" cy="682.1" r="14.2" fill="#6495ED" fill-opacity="0.8"/>
<circle cx="739.8" cy="736.7" r="14.2" fill="#6495ED" fill-opacity="0.8"/>
<circle cx="751.3" cy="739.6" r="14.2" fill="#6495ED" fill-opacity="0.8"/>
<circle cx="771.5" cy="738.2" r="14.2" fill="#6495ED" fill-opacity="0.8"/>
<circle cx="743.3" cy="756.9" r="14.2" fill="#6495ED" fill-opacity="0.8"/>
<circle cx="788.2" cy="759.7" r="14.2" fill="#6495ED" fill-opacity="0.8"/>
<circle cx="808.3" cy="752.6" r="14.2" fill="#6495ED" fill-opacity="0.8"/>
<circle cx="817.5" cy="736.7" r="14.2" fill="#6495ED" fill-opacity="0.8"/>
<circle cx="808.9" cy="720.9" r="14.2" fill="#6495ED" fill-opacity="0.8"/>
<circle cx="817.5" cy="667.7" r="14.2" fill="#6495ED" fill-opacity="0.8"/>
<circle cx="846.3" cy="732.4" r="14.2" fill="#6495ED" fill-opacity="0.8"/>
<circle cx="843.4" cy="697.9" r="14.2" fill="#6495ED" fill-opacity="0.8"/>
<circle cx="883.6" cy="702.2" r="14.2" fill="#6495ED" fill-opacity="0.8"/>
<circle cx="877.9" cy="728.1" r="14.2" fill="#6495ED" fill-opacity="0.8"/>
<circle cx="877.9" cy="754.0" r="14.2" fill="#6495ED" fill-opacity="0.8"/>
<circle cx="875.0" cy="774.1" r="14.2" fill="#6495ED" fill-opacity="0.8"/>
<circle cx="866.4" cy="784.2" r="14.2" fill="#6495ED" fill-opacity="0.8"/>
<circle cx="863.5" cy="817.3" r="14.2" fill="#6495ED" fill-opacity="0.8"/>
<circle cx="908.1" cy="814.4" r="14.2" fill="#6495ED" fill-opacity="0.8"/>
<circle cx="895.2" cy="818.7" r="14.2" fill="#6495ED" fill-opacity="0.8"/>
<circle cx="899.5" cy="869.0" r="14.2" fill="#6495ED" fill-opacity="0.8"/>
<circle cx="902.3" cy="857.5" r="14.2" fill="#6495ED" fill-opacity="0.8"/>
<circle cx="714.5" cy="789.9" r="14.2" fill="#6495ED" fill-opacity="0.8"/>
<circle cx="743.3" cy="791.4" r="14.2" fill="#6495ED" fill-opacity="0.8"/>
<circle cx="753.6" cy="795.7" r="14.2" fill="#6495ED" fill-opacity="0.8"/>
<circle cx="726.9" cy="811.5" r="14.2" fill="#6495ED" fill-opacity="0.8"/>
<circle cx="726.9" cy="815.8" r="14.2" fill="#6495ED" fill-opacity="0.8"/>
<circle cx="802.5" cy="791.4" r="14.2" fill="#6495ED" fill-opacity="0.8"/>
<circle cx="607.5" cy="848.1" r="14.2" fill="#6495ED" fill-opacity="0.8"/>
<circle cx="699.6" cy="869.0" r="14.2" fill="#6495ED" fill-opacity="0.8"/>
<circle cx="717.7" cy="869.0" r="14.2" fill="#6495ED" fill-opacity="0.8"/>
<circle cx="721.1" cy="869.0" r="14.2" fill="#6495ED" fill-opacity="0.8"/>
<circle cx="950.4" cy="794.3" r="14.2" fill="#6495ED" fill-opacity="0.8"/>
<circle cx="960.7" cy="754.0" r="14.2" fill="#6495ED" fill-opacity="0.8"/>
<path d="M583.1,623.8V636.8" stroke="#FF8C00" stroke-width="1.2"/><rect x="580.5" y="627.6" width="5.2" height="5.4" fill="#FF8C00"/>
<path d="M603.2,618.1V631.1" stroke="#FF8C00" stroke-width="1.2"/><rect x="600.6" y="621.9" width="5.2" height="5.4" fill="#FF8C00"/>
<path d="M607.5,646.8V659.8" stroke="#FF8C00" stroke-width="1.2"/><rect x="604.9" y="650.6" width="5.2" height="5.4" fill="#FF8C00"/>
<path d="M630.5,667.0V680.0" stroke="#FF8C00" stroke-width="1.2"/><rect x="627.9" y="670.8" width="5.2" height="5.4" fill="#FF8C00"/>
<path d="M656.4,705.8V718.8" stroke="#FF8C00" stroke-width="1.2"/><rect x="653.8" y="709.6" width="5.2" height="5.4" fill="#FF8C00"/>
<path d="M699.6,648.3V661.3" stroke="#FF8C00" stroke-width="1.2"/><rect x="697.0" y="652.1" width="5.2" height="5.4" fill="#FF8C00"/>
<path d="M716.8,623.8V636.8" stroke="#FF8C00" stroke-width="1.2"/><rect x="714.2" y="627.6" width="5.2" height="5.4" fill="#FF8C00"/>
<path d="M745.6,618.1V631.1" stroke="#FF8C00" stroke-width="1.2"/><rect x="743.0" y="621.9" width="5.2" height="5.4" fill="#FF8C00"/>
<path d="M751.3,625.3V638.3" stroke="#FF8C00" stroke-width="1.2"/><rect x="748.7" y="629.1" width="5.2" height="5.4" fill="#FF8C00"/>
<path d="M739.8,623.8V636.8" stroke="#FF8C00" stroke-width="1.2"/><rect x="737.2" y="627.6" width="5.2" height="5.4" fill="#FF8C00"/>
<path d="M728.3,675.6V688.6" stroke="#FF8C00" stroke-width="1.2"/><rect x="725.7" y="679.4" width="5.2" height="5.4" fill="#FF8C00"/>
<path d="M742.7,691.4V704.4" stroke="#FF8C00" stroke-width="1.2"/><rect x="740.1" y="695.2" width="5.2" height="5.4" fill="#FF8C00"/>
<path d="M751.3,687.1V700.1" stroke="#FF8C00" stroke-width="1.2"/><rect x="748.7" y="690.9" width="5.2" height="5.4" fill="#FF8C00"/>
<path d="M771.5,664.1V677.1" stroke="#FF8C00" stroke-width="1.2"/><rect x="768.9" y="667.9" width="5.2" height="5.4" fill="#FF8C00"/>
<path d="M797.4,658.3V671.3" stroke="#FF8C00" stroke-width="1.2"/><rect x="794.8" y="662.1" width="5.2" height="5.4" fill="#FF8C00"/>
<path d="M803.1,661.2V674.2" stroke="#FF8C00" stroke-width="1.2"/><rect x="800.5" y="665.0" width="5.2" height="5.4" fill="#FF8C00"/>
<path d="M817.5,625.3V638.3" stroke="#FF8C00" stroke-width="1.2"/><rect x="814.9" y="629.1" width="5.2" height="5.4" fill="#FF8C00"/>
<path d="M808.9,707.2V720.2" stroke="#FF8C00" stroke-width="1.2"/><rect x="806.3" y="711.0" width="5.2" height="5.4" fill="#FF8C00"/>
<path d="M820.4,669.8V682.8" stroke="#FF8C00" stroke-width="1.2"/><rect x="817.8" y="673.6" width="5.2" height="5.4" fill="#FF8C00"/>
<path d="M846.3,658.3V671.3" stroke="#FF8C00" stroke-width="1.2"/><rect x="843.7" y="662.1" width="5.2" height="5.4" fill="#FF8C00"/>
<path d="M843.4,682.8V695.8" stroke="#FF8C00" stroke-width="1.2"/><rect x="840.8" y="686.6" width="5.2" height="5.4" fill="#FF8C00"/>
<path d="M866.4,710.1V723.1" stroke="#FF8C00" stroke-width="1.2"/><rect x="863.8" y="713.9" width="5.2" height="5.4" fill="#FF8C00"/>
<path d="M883.6,677.0V690.0" stroke="#FF8C00" stroke-width="1.2"/><rect x="881.0" y="680.8" width="5.2" height="5.4" fill="#FF8C00"/>
<path d="M886.5,698.6V711.6" stroke="#FF8C00" stroke-width="1.2"/><rect x="883.9" y="702.4" width="5.2" height="5.4" fill="#FF8C00"/>
<path d="M908.1,698.6V711.6" stroke="#FF8C00" stroke-width="1.2"/><rect x="905.5" y="702.4" width="5.2" height="5.4" fill="#FF8C00"/>
<path d="M895.2,786.3V799.3" stroke="#FF8C00" stroke-width="1.2"/><rect x="892.6" y="790.1" width="5.2" height="5.4" fill="#FF8C00"/>
<path d="M886.5,770.5V783.5" stroke="#FF8C00" stroke-width="1.2"/><rect x="883.9" y="774.3" width="5.2" height="5.4" fill="#FF8C00"/>
<path d="M899.5,846.7V859.7" stroke="#FF8C00" stroke-width="1.2"/><rect x="896.9" y="850.5" width="5.2" height="5.4" fill="#FF8C00"/>
<path d="M753.6,751.8V764.8" stroke="#FF8C00" stroke-width="1.2"/><rect x="751.0" y="755.6" width="5.2" height="5.4" fill="#FF8C00"/>
<path d="M960.7,724.5V737.5" stroke="#FF8C00" stroke-width="1.2"/><rect x="958.1" y="728.3" width="5.2" height="5.4" fill="#FF8C00"/>
<path d="M950.4,786.3V799.3" stroke="#FF8C00" stroke-width="1.2"/><rect x="947.8" y="790.1" width="5.2" height="5.4" fill="#FF8C00"/>
<path d="M583.1,629.6V642.6" stroke="#32CD32" stroke-width="1.2"/><rect x="580.5" y="633.4" width="5.2" height="5.4" fill="#32CD32"/>
<path d="M603.2,618.1V631.1" stroke="#32CD32" stroke-width="1.2"/><rect x="600.6" y="621.9" width="5.2" height="5.4" fill="#32CD32"/>
<path d="M607.5,641.1V654.1" stroke="#32CD32" stroke-width="1.2"/><rect x="604.9" y="644.9" width="5.2" height="5.4" fill="#32CD32"/>
<path d="M630.5,672.7V685.7" stroke="#32CD32" stroke-width="1.2"/><rect x="627.9" y="676.5" width="5.2" height="5.4" fill="#32CD32"/>
<path d="M632.0,677.0V690.0" stroke="#32CD32" stroke-width="1.2"/><rect x="629.4" y="680.8" width="5.2" height="5.4" fill="#32CD32"/>
<path d="M656.4,710.1V723.1" stroke="#32CD32" stroke-width="1.2"/><rect x="653.8" y="713.9" width="5.2" height="5.4" fill="#32CD32"/>
<path d="M699.6,648.3V661.3" stroke="#32CD32" stroke-width="1.2"/><rect x="697.0" y="652.1" width="5.2" height="5.4" fill="#32CD32"/>
<path d="M699.6,671.3V684.3" stroke="#32CD32" stroke-width="1.2"/><rect x="697.0" y="675.1" width="5.2" height="5.4" fill="#32CD32"/>
<path d="M716.8,623.8V636.8" stroke="#32CD32" stroke-width="1.2"/><rect x="714.2" y="627.6" width="5.2" height="5.4" fill="#32CD32"/>
<path d="M725.5,658.3V671.3" stroke="#32CD32" stroke-width="1.2"/><rect x="722.9" y="662.1" width="5.2" height="5.4" fill="#32CD32"/>
<path d="M739.8,612.3V625.3" stroke="#32CD32" stroke-width="1.2"/><rect x="737.2" y="616.1" width="5.2" height="5.4" fill="#32CD32"/>
<path d="M751.3,629.6V642.6" stroke="#32CD32" stroke-width="1.2"/><rect x="748.7" y="633.4" width="5.2" height="5.4" fill="#32CD32"/>
<path d="M734.1,678.5V691.5" stroke="#32CD32" stroke-width="1.2"/><rect x="731.5" y="682.3" width="5.2" height="5.4" fill="#32CD32"/>
<path d="M722.6,675.6V688.6" stroke="#32CD32" stroke-width="1.2"/><rect x="720.0" y="679.4" width="5.2" height="5.4" fill="#32CD32"/>
<path d="M745.6,681.3V694.3" stroke="#32CD32" stroke-width="1.2"/><rect x="743.0" y="685.1" width="5.2" height="5.4" fill="#32CD32"/>
<path d="M771.5,669.8V682.8" stroke="#32CD32" stroke-width="1.2"/><rect x="768.9" y="673.6" width="5.2" height="5.4" fill="#32CD32"/>
<path d="M788.7,669.8V682.8" stroke="#32CD32" stroke-width="1.2"/><rect x="786.1" y="673.6" width="5.2" height="5.4" fill="#32CD32"/>
<path d="M803.1,671.3V684.3" stroke="#32CD32" stroke-width="1.2"/><rect x="800.5" y="675.1" width="5.2" height="5.4" fill="#32CD32"/>
<path d="M817.5,649.7V662.7" stroke="#32CD32" stroke-width="1.2"/><rect x="814.9" y="653.5" width="5.2" height="5.4" fill="#32CD32"/>
<path d="M808.9,701.5V714.5" stroke="#32CD32" stroke-width="1.2"/><rect x="806.3" y="705.3" width="5.2" height="5.4" fill="#32CD32"/>
<path d="M846.3,672.7V685.7" stroke="#32CD32" stroke-width="1.2"/><rect x="843.7" y="676.5" width="5.2" height="5.4" fill="#32CD32"/>
<line x1="883.6" x2="883.6" y1="682.5" y2="704.7" stroke="#32CD32" stroke-width="1.6"/>
<line x1="883.6" x2="883.6" y1="685.0" y2="702.2" stroke="#32CD32" stroke-width="5.6"/>
<line x1="902.3" x2="902.3" y1="584.7" y2="722.0" stroke="#32CD32" stroke-width="1.6"/>
<line x1="902.3" x2="902.3" y1="587.2" y2="719.5" stroke="#32CD32" stroke-width="5.6"/>
<path d="M908.1,661.2V674.2" stroke="#32CD32" stroke-width="1.2"/><rect x="905.5" y="665.0" width="5.2" height="5.4" fill="#32CD32"/>
<path d="M866.4,715.9V728.9" stroke="#32CD32" stroke-width="1.2"/><rect x="863.8" y="719.7" width="5.2" height="5.4" fill="#32CD32"/>
<path d="M877.9,724.5V737.5" stroke="#32CD32" stroke-width="1.2"/><rect x="875.3" y="728.3" width="5.2" height="5.4" fill="#32CD32"/>
<path d="M877.9,736.0V749.0" stroke="#32CD32" stroke-width="1.2"/><rect x="875.3" y="739.8" width="5.2" height="5.4" fill="#32CD32"/>
<path d="M863.5,787.8V800.8" stroke="#32CD32" stroke-width="1.2"/><rect x="860.9" y="791.6" width="5.2" height="5.4" fill="#32CD32"/>
<path d="M886.5,793.5V806.5" stroke="#32CD32" stroke-width="1.2"/><rect x="883.9" y="797.3" width="5.2" height="5.4" fill="#32CD32"/>
<path d="M842.5,802.1V815.1" stroke="#32CD32" stroke-width="1.2"/><rect x="839.9" y="805.9" width="5.2" height="5.4" fill="#32CD32"/>
<line x1="895.2" x2="895.2" y1="823.4" y2="842.8" stroke="#32CD32" stroke-width="1.6"/>
<line x1="895.2" x2="895.2" y1="825.9" y2="840.3" stroke="#32CD32" stroke-width="5.6"/>
<path d="M714.5,723.0V736.0" stroke="#32CD32" stroke-width="1.2"/><rect x="711.9" y="726.8" width="5.2" height="5.4" fill="#32CD32"/>
<path d="M753.6,746.1V759.1" stroke="#32CD32" stroke-width="1.2"/><rect x="751.0" y="749.9" width="5.2" height="5.4" fill="#32CD32"/>
<path d="M960.7,858.2V871.2" stroke="#32CD32" stroke-width="1.2"/><rect x="958.1" y="862.0" width="5.2" height="5.4" fill="#32CD32"/>
<path d="M583.1,654.0V667.0" stroke="#6495ED" stroke-width="1.2"/><rect x="580.5" y="657.8" width="5.2" height="5.4" fill="#6495ED"/>
<path d="M603.2,629.6V642.6" stroke="#6495ED" stroke-width="1.2"/><rect x="600.6" y="633.4" width="5.2" height="5.4" fill="#6495ED"/>
<path d="M632.0,658.3V671.3" stroke="#6495ED" stroke-width="1.2"/><rect x="629.4" y="662.1" width="5.2" height="5.4" fill="#6495ED"/>
<line x1="632.0" x2="632.0" y1="603.4" y2="835.6" stroke="#6495ED" stroke-width="1.6"/>
<line x1="632.0" x2="632.0" y1="605.9" y2="833.1" stroke="#6495ED" stroke-width="5.6"/>
<path d="M629.1,721.6V734.6" stroke="#6495ED" stroke-width="1.2"/><rect x="626.5" y="725.4" width="5.2" height="5.4" fill="#6495ED"/>
<line x1="699.6" x2="699.6" y1="683.9" y2="734.9" stroke="#6495ED" stroke-width="1.6"/>
<line x1="699.6" x2="699.6" y1="686.4" y2="732.4" stroke="#6495ED" stroke-width="5.6"/>
<path d="M737.0,639.6V652.6" stroke="#6495ED" stroke-width="1.2"/><rect x="734.4" y="643.4" width="5.2" height="5.4" fill="#6495ED"/>
<path d="M726.9,646.8V659.8" stroke="#6495ED" stroke-width="1.2"/><rect x="724.3" y="650.6" width="5.2" height="5.4" fill="#6495ED"/>
<path d="M751.3,675.6V688.6" stroke="#6495ED" stroke-width="1.2"/><rect x="748.7" y="679.4" width="5.2" height="5.4" fill="#6495ED"/>
<path d="M739.8,730.2V743.2" stroke="#6495ED" stroke-width="1.2"/><rect x="737.2" y="734.0" width="5.2" height="5.4" fill="#6495ED"/>
<path d="M751.3,733.1V746.1" stroke="#6495ED" stroke-width="1.2"/><rect x="748.7" y="736.9" width="5.2" height="5.4" fill="#6495ED"/>
<path d="M771.5,731.7V744.7" stroke="#6495ED" stroke-width="1.2"/><rect x="768.9" y="735.5" width="5.2" height="5.4" fill="#6495ED"/>
<path d="M743.3,750.4V763.4" stroke="#6495ED" stroke-width="1.2"/><rect x="740.7" y="754.2" width="5.2" height="5.4" fill="#6495ED"/>
<path d="M788.2,753.2V766.2" stroke="#6495ED" stroke-width="1.2"/><rect x="785.6" y="757.0" width="5.2" height="5.4" fill="#6495ED"/>
<path d="M808.3,746.1V759.1" stroke="#6495ED" stroke-width="1.2"/><rect x="805.7" y="749.9" width="5.2" height="5.4" fill="#6495ED"/>
<path d="M817.5,730.2V743.2" stroke="#6495ED" stroke-width="1.2"/><rect x="814.9" y="734.0" width="5.2" height="5.4" fill="#6495ED"/>
<path d="M808.9,714.4V727.4" stroke="#6495ED" stroke-width="1.2"/><rect x="806.3" y="718.2" width="5.2" height="5.4" fill="#6495ED"/>
<path d="M817.5,661.2V674.2" stroke="#6495ED" stroke-width="1.2"/><rect x="814.9" y="665.0" width="5.2" height="5.4" fill="#6495ED"/>
<path d="M846.3,725.9V738.9" stroke="#6495ED" stroke-width="1.2"/><rect x="843.7" y="729.7" width="5.2" height="5.4" fill="#6495ED"/>
<path d="M843.4,691.4V704.4" stroke="#6495ED" stroke-width="1.2"/><rect x="840.8" y="695.2" width="5.2" height="5.4" fill="#6495ED"/>
<path d="M883.6,695.7V708.7" stroke="#6495ED" stroke-width="1.2"/><rect x="881.0" y="699.5" width="5.2" height="5.4" fill="#6495ED"/>
<path d="M877.9,721.6V734.6" stroke="#6495ED" stroke-width="1.2"/><rect x="875.3" y="725.4" width="5.2" height="5.4" fill="#6495ED"/>
<path d="M877.9,747.5V760.5" stroke="#6495ED" stroke-width="1.2"/><rect x="875.3" y="751.3" width="5.2" height="5.4" fill="#6495ED"/>
<path d="M875.0,767.6V780.6" stroke="#6495ED" stroke-width="1.2"/><rect x="872.4" y="771.4" width="5.2" height="5.4" fill="#6495ED"/>
<path d="M866.4,777.7V790.7" stroke="#6495ED" stroke-width="1.2"/><rect x="863.8" y="781.5" width="5.2" height="5.4" fill="#6495ED"/>
<path d="M863.5,810.8V823.8" stroke="#6495ED" stroke-width="1.2"/><rect x="860.9" y="814.6" width="5.2" height="5.4" fill="#6495ED"/>
<path d="M908.1,807.9V820.9" stroke="#6495ED" stroke-width="1.2"/><rect x="905.5" y="811.7" width="5.2" height="5.4" fill="#6495ED"/>
<path d="M895.2,812.2V825.2" stroke="#6495ED" stroke-width="1.2"/><rect x="892.6" y="816.0" width="5.2" height="5.4" fill="#6495ED"/>
<path d="M899.5,862.5V875.5" stroke="#6495ED" stroke-width="1.2"/><rect x="896.9" y="866.3" width="5.2" height="5.4" fill="#6495ED"/>
<path d="M902.3,851.0V864.0" stroke="#6495ED" stroke-width="1.2"/><rect x="899.7" y="854.8" width="5.2" height="5.4" fill="#6495ED"/>
<path d="M714.5,783.4V796.4" stroke="#6495ED" stroke-width="1.2"/><rect x="711.9" y="787.2" width="5.2" height="5.4" fill="#6495ED"/>
<path d="M743.3,784.9V797.9" stroke="#6495ED" stroke-width="1.2"/><rect x="740.7" y="788.7" width="5.2" height="5.4" fill="#6495ED"/>
<path d="M753.6,789.2V802.2" stroke="#6495ED" stroke-width="1.2"/><rect x="751.0" y="793.0" width="5.2" height="5.4" fill="#6495ED"/>
<path d="M726.9,805.0V818.0" stroke="#6495ED" stroke-width="1.2"/><rect x="724.3" y="808.8" width="5.2" height="5.4" fill="#6495ED"/>
<path d="M726.9,809.3V822.3" stroke="#6495ED" stroke-width="1.2"/><rect x="724.3" y="813.1" width="5.2" height="5.4" fill="#6495ED"/>
<path d="M802.5,784.9V797.9" stroke="#6495ED" stroke-width="1.2"/><rect x="799.9" y="788.7" width="5.2" height="5.4" fill="#6495ED"/>
<path d="M607.5,841.6V854.6" stroke="#6495ED" stroke-width="1.2"/><rect x="604.9" y="845.4" width="5.2" height="5.4" fill="#6495ED"/>
<path d="M699.6,862.5V875.5" stroke="#6495ED" stroke-width="1.2"/><rect x="697.0" y="866.3" width="5.2" height="5.4" fill="#6495ED"/>
<path d="M717.7,862.5V875.5" stroke="#6495ED" stroke-width="1.2"/><rect x="715.1" y="866.3" width="5.2" height="5.4" fill="#6495ED"/>
<path d="M721.1,862.5V875.5" stroke="#6495ED" stroke-width="1.2"/><rect x="718.5" y="866.3" width="5.2" height="5.4" fill="#6495ED"/>
<path d="M950.4,787.8V800.8" stroke="#6495ED" stroke-width="1.2"/><rect x="947.8" y="791.6" width="5.2" height="5.4" fill="#6495ED"/>
<path d="M960.7,747.5V760.5" stroke="#6495ED" stroke-width="1.2"/><rect x="958.1" y="751.3" width="5.2" height="5.4" fill="#6495ED"/>
<path d="M569.3,631.8 L960.7,742.5" fill="none" stroke="#FF8C00" stroke-width="5.3"/>
<path d="M569.3,640.4 L960.7,733.9" fill="none" stroke="#32CD32" stroke-width="5.3"/>
<path d="M569.3,690.7 L960.7,775.6" fill="none" stroke="#6495ED" stroke-width="5.3" stroke-dasharray="10.2,10.2"/>
</g>
<text x="569.5" y="532.2" font-family='"Liberation Sans", sans-serif' font-weight="bold" font-size="51.8" fill="#000">e</text>
<rect x="550.20" y="475.15" width="429.60" height="414.00" fill="none" stroke="#333" stroke-width="1.8"/>
<line x1="994.10" x2="1423.70" y1="823.64" y2="823.64" stroke="#EBEBEB" stroke-width="1.07"/><line x1="994.10" x2="1423.70" y1="729.31" y2="729.31" stroke="#EBEBEB" stroke-width="1.07"/><line x1="994.10" x2="1423.70" y1="634.99" y2="634.99" stroke="#EBEBEB" stroke-width="1.07"/><line x1="994.10" x2="1423.70" y1="540.66" y2="540.66" stroke="#EBEBEB" stroke-width="1.07"/><line y1="475.15" y2="889.15" x1="1073.00" x2="1073.00" stroke="#EBEBEB" stroke-width="1.07"/><line y1="475.15" y2="889.15" x1="1193.00" x2="1193.00" stroke="#EBEBEB" stroke-width="1.07"/><line y1="475.15" y2="889.15" x1="1313.00" x2="1313.00" stroke="#EBEBEB" stroke-width="1.07"/><line x1="994.10" x2="1423.70" y1="870.80" y2="870.80" stroke="#EBEBEB" stroke-width="2.13"/><line x1="994.10" x2="1423.70" y1="776.48" y2="776.48" stroke="#EBEBEB" stroke-width="2.13"/><line x1="994.10" x2="1423.70" y1="682.15" y2="682.15" stroke="#EBEBEB" stroke-width="2.13"/><line x1="994.10" x2="1423.70" y1="587.83" y2="587.83" stroke="#EBEBEB" stroke-width="2.13"/><line x1="994.10" x2="1423.70" y1="493.50" y2="493.50" stroke="#EBEBEB" stroke-width="2.13"/><line y1="475.15" y2="889.15" x1="1013.00" x2="1013.00" stroke="#EBEBEB" stroke-width="2.13"/><line y1="475.15" y2="889.15" x1="1133.00" x2="1133.00" stroke="#EBEBEB" stroke-width="2.13"/><line y1="475.15" y2="889.15" x1="1253.00" x2="1253.00" stroke="#EBEBEB" stroke-width="2.13"/><line y1="475.15" y2="889.15" x1="1373.00" x2="1373.00" stroke="#EBEBEB" stroke-width="2.13"/>
<g clip-path="url(#cp12)">
<path d="M1013.3,641.8 L1023.3,646.1 L1033.3,650.3 L1043.4,654.4 L1053.4,658.4 L1063.5,662.4 L1073.5,666.2 L1083.5,669.9 L1093.6,673.5 L1103.6,677.1 L1113.6,680.5 L1123.7,683.9 L1133.7,687.1 L1143.8,690.3 L1153.8,693.4 L1163.8,696.4 L1173.9,699.2 L1183.9,702.0 L1193.9,704.7 L1204.0,707.3 L1214.0,709.8 L1224.1,712.3 L1234.1,714.6 L1244.1,716.8 L1254.2,718.9 L1264.2,721.0 L1274.2,722.9 L1284.3,724.8 L1294.3,726.5 L1304.4,728.2 L1314.4,729.7 L1324.4,731.2 L1334.5,732.6 L1344.5,733.9 L1354.5,735.1 L1364.6,736.2 L1374.6,737.2 L1384.7,738.1 L1394.7,738.9 L1404.7,739.6 L1404.7,788.5 L1394.7,784.4 L1384.7,780.3 L1374.6,776.4 L1364.6,772.5 L1354.5,768.8 L1344.5,765.1 L1334.5,761.6 L1324.4,758.1 L1314.4,754.8 L1304.4,751.5 L1294.3,748.3 L1284.3,745.3 L1274.2,742.3 L1264.2,739.4 L1254.2,736.7 L1244.1,734.0 L1234.1,731.4 L1224.1,728.9 L1214.0,726.5 L1204.0,724.2 L1193.9,722.1 L1183.9,720.0 L1173.9,718.0 L1163.8,716.1 L1153.8,714.3 L1143.8,712.6 L1133.7,711.0 L1123.7,709.5 L1113.6,708.1 L1103.6,706.8 L1093.6,705.5 L1083.5,704.4 L1073.5,703.4 L1063.5,702.5 L1053.4,701.7 L1043.4,700.9 L1033.3,700.3 L1023.3,699.8 L1013.3,699.3Z" fill="#999" fill-opacity="0.3"/>
<path d="M1013.3,650.5 L1023.3,654.2 L1033.3,657.8 L1043.4,661.4 L1053.4,664.9 L1063.5,668.4 L1073.5,671.8 L1083.5,675.1 L1093.6,678.4 L1103.6,681.6 L1113.6,684.8 L1123.7,687.8 L1133.7,690.9 L1143.8,693.8 L1153.8,696.7 L1163.8,699.5 L1173.9,702.3 L1183.9,705.0 L1193.9,707.6 L1204.0,710.2 L1214.0,712.7 L1224.1,715.1 L1234.1,717.5 L1244.1,719.8 L1254.2,722.1 L1264.2,724.3 L1274.2,726.4 L1284.3,728.5 L1294.3,730.5 L1304.4,732.4 L1314.4,734.3 L1324.4,736.1 L1334.5,737.8 L1344.5,739.5 L1354.5,741.1 L1364.6,742.7 L1374.6,744.2 L1384.7,745.6 L1394.7,746.9 L1404.7,748.2 L1404.7,779.9 L1394.7,776.2 L1384.7,772.7 L1374.6,769.2 L1364.6,765.8 L1354.5,762.4 L1344.5,759.2 L1334.5,756.0 L1324.4,752.8 L1314.4,749.8 L1304.4,746.8 L1294.3,743.9 L1284.3,741.1 L1274.2,738.4 L1264.2,735.7 L1254.2,733.1 L1244.1,730.6 L1234.1,728.2 L1224.1,725.8 L1214.0,723.5 L1204.0,721.3 L1193.9,719.2 L1183.9,717.1 L1173.9,715.1 L1163.8,713.2 L1153.8,711.4 L1143.8,709.6 L1133.7,707.9 L1123.7,706.3 L1113.6,704.8 L1103.6,703.3 L1093.6,702.0 L1083.5,700.6 L1073.5,699.4 L1063.5,698.3 L1053.4,697.2 L1043.4,696.2 L1033.3,695.2 L1023.3,694.4 L1013.3,693.6Z" fill="#999" fill-opacity="0.3"/>
<path d="M1013.3,705.1 L1023.3,708.7 L1033.3,712.2 L1043.4,715.5 L1053.4,718.8 L1063.5,722.0 L1073.5,725.0 L1083.5,728.0 L1093.6,730.8 L1103.6,733.6 L1113.6,736.2 L1123.7,738.8 L1133.7,741.2 L1143.8,743.6 L1153.8,745.8 L1163.8,748.0 L1173.9,750.0 L1183.9,751.9 L1193.9,753.8 L1204.0,755.5 L1214.0,757.1 L1224.1,758.6 L1234.1,760.0 L1244.1,761.3 L1254.2,762.6 L1264.2,763.7 L1274.2,764.7 L1284.3,765.6 L1294.3,766.4 L1304.4,767.1 L1314.4,767.7 L1324.4,768.2 L1334.5,768.5 L1344.5,768.8 L1354.5,769.0 L1364.6,769.1 L1374.6,769.1 L1384.7,768.9 L1394.7,768.7 L1404.7,768.4 L1404.7,814.4 L1394.7,811.7 L1384.7,809.1 L1374.6,806.5 L1364.6,804.0 L1354.5,801.6 L1344.5,799.3 L1334.5,797.1 L1324.4,794.9 L1314.4,792.8 L1304.4,790.8 L1294.3,788.9 L1284.3,787.1 L1274.2,785.3 L1264.2,783.6 L1254.2,782.0 L1244.1,780.5 L1234.1,779.0 L1224.1,777.6 L1214.0,776.3 L1204.0,775.1 L1193.9,774.0 L1183.9,772.9 L1173.9,771.9 L1163.8,771.0 L1153.8,770.2 L1143.8,769.5 L1133.7,768.8 L1123.7,768.2 L1113.6,767.7 L1103.6,767.3 L1093.6,766.9 L1083.5,766.6 L1073.5,766.5 L1063.5,766.3 L1053.4,766.3 L1043.4,766.3 L1033.3,766.5 L1023.3,766.7 L1013.3,766.9Z" fill="#999" fill-opacity="0.3"/>
<circle cx="1027.1" cy="673.5" r="14.2" fill="#FF8C00" fill-opacity="0.8"/>
<circle cx="1047.2" cy="686.4" r="14.2" fill="#FF8C00" fill-opacity="0.8"/>
<circle cx="1051.5" cy="722.4" r="14.2" fill="#FF8C00" fill-opacity="0.8"/>
<circle cx="1076.0" cy="729.5" r="14.2" fill="#FF8C00" fill-opacity="0.8"/>
<circle cx="1143.6" cy="731.0" r="14.2" fill="#FF8C00" fill-opacity="0.8"/>
<circle cx="1160.8" cy="663.4" r="14.2" fill="#FF8C00" fill-opacity="0.8"/>
<circle cx="1189.6" cy="654.8" r="14.2" fill="#FF8C00" fill-opacity="0.8"/>
<circle cx="1196.8" cy="682.1" r="14.2" fill="#FF8C00" fill-opacity="0.8"/>
<circle cx="1166.6" cy="689.3" r="14.2" fill="#FF8C00" fill-opacity="0.8"/>
<circle cx="1172.3" cy="713.7" r="14.2" fill="#FF8C00" fill-opacity="0.8"/>
<circle cx="1195.3" cy="736.7" r="14.2" fill="#FF8C00" fill-opacity="0.8"/>
<circle cx="1186.7" cy="752.6" r="14.2" fill="#FF8C00" fill-opacity="0.8"/>
<circle cx="1215.5" cy="710.9" r="14.2" fill="#FF8C00" fill-opacity="0.8"/>
<circle cx="1232.7" cy="731.0" r="14.2" fill="#FF8C00" fill-opacity="0.8"/>
<circle cx="1241.4" cy="697.9" r="14.2" fill="#FF8C00" fill-opacity="0.8"/>
<circle cx="1261.5" cy="686.4" r="14.2" fill="#FF8C00" fill-opacity="0.8"/>
<circle cx="1252.9" cy="705.1" r="14.2" fill="#FF8C00" fill-opacity="0.8"/>
<circle cx="1286.5" cy="705.1" r="14.2" fill="#FF8C00" fill-opacity="0.8"/>
<circle cx="1290.3" cy="708.0" r="14.2" fill="#FF8C00" fill-opacity="0.8"/>
<circle cx="1310.4" cy="761.2" r="14.2" fill="#FF8C00" fill-opacity="0.8"/>
<circle cx="1327.6" cy="723.8" r="14.2" fill="#FF8C00" fill-opacity="0.8"/>
<circle cx="1327.6" cy="709.4" r="14.2" fill="#FF8C00" fill-opacity="0.8"/>
<circle cx="1352.1" cy="762.6" r="14.2" fill="#FF8C00" fill-opacity="0.8"/>
<circle cx="1339.2" cy="810.1" r="14.2" fill="#FF8C00" fill-opacity="0.8"/>
<circle cx="1330.5" cy="805.8" r="14.2" fill="#FF8C00" fill-opacity="0.8"/>
<circle cx="1343.5" cy="857.5" r="14.2" fill="#FF8C00" fill-opacity="0.8"/>
<circle cx="1307.5" cy="827.3" r="14.2" fill="#FF8C00" fill-opacity="0.8"/>
<circle cx="1195.3" cy="789.9" r="14.2" fill="#FF8C00" fill-opacity="0.8"/>
<circle cx="1404.7" cy="762.6" r="14.2" fill="#FF8C00" fill-opacity="0.8"/>
<circle cx="1394.4" cy="808.6" r="14.2" fill="#FF8C00" fill-opacity="0.8"/>
<circle cx="1027.1" cy="682.1" r="14.2" fill="#32CD32" fill-opacity="0.8"/>
<circle cx="1047.2" cy="687.8" r="14.2" fill="#32CD32" fill-opacity="0.8"/>
<circle cx="1051.5" cy="723.8" r="14.2" fill="#32CD32" fill-opacity="0.8"/>
<circle cx="1076.0" cy="731.0" r="14.2" fill="#32CD32" fill-opacity="0.8"/>
<circle cx="1143.6" cy="705.1" r="14.2" fill="#32CD32" fill-opacity="0.8"/>
<circle cx="1143.6" cy="736.7" r="14.2" fill="#32CD32" fill-opacity="0.8"/>
<circle cx="1160.8" cy="663.4" r="14.2" fill="#32CD32" fill-opacity="0.8"/>
<circle cx="1189.6" cy="656.2" r="14.2" fill="#32CD32" fill-opacity="0.8"/>
<circle cx="1183.8" cy="682.1" r="14.2" fill="#32CD32" fill-opacity="0.8"/>
<circle cx="1169.5" cy="693.6" r="14.2" fill="#32CD32" fill-opacity="0.8"/>
<circle cx="1195.3" cy="690.7" r="14.2" fill="#32CD32" fill-opacity="0.8"/>
<circle cx="1163.7" cy="751.1" r="14.2" fill="#32CD32" fill-opacity="0.8"/>
<circle cx="1183.8" cy="742.5" r="14.2" fill="#32CD32" fill-opacity="0.8"/>
<circle cx="1195.3" cy="728.1" r="14.2" fill="#32CD32" fill-opacity="0.8"/>
<circle cx="1215.5" cy="715.2" r="14.2" fill="#32CD32" fill-opacity="0.8"/>
<circle cx="1232.7" cy="722.4" r="14.2" fill="#32CD32" fill-opacity="0.8"/>
<circle cx="1247.1" cy="733.9" r="14.2" fill="#32CD32" fill-opacity="0.8"/>
<circle cx="1255.7" cy="702.2" r="14.2" fill="#32CD32" fill-opacity="0.8"/>
<circle cx="1261.5" cy="705.1" r="14.2" fill="#32CD32" fill-opacity="0.8"/>
<circle cx="1290.3" cy="728.1" r="14.2" fill="#32CD32" fill-opacity="0.8"/>
<circle cx="1310.4" cy="756.9" r="14.2" fill="#32CD32" fill-opacity="0.8"/>
<circle cx="1321.9" cy="782.8" r="14.2" fill="#32CD32" fill-opacity="0.8"/>
<circle cx="1327.6" cy="713.7" r="14.2" fill="#32CD32" fill-opacity="0.8"/>
<circle cx="1347.8" cy="735.3" r="14.2" fill="#32CD32" fill-opacity="0.8"/>
<circle cx="1352.1" cy="735.3" r="14.2" fill="#32CD32" fill-opacity="0.8"/>
<circle cx="1346.3" cy="656.2" r="14.2" fill="#32CD32" fill-opacity="0.8"/>
<circle cx="1286.5" cy="815.8" r="14.2" fill="#32CD32" fill-opacity="0.8"/>
<circle cx="1307.5" cy="825.9" r="14.2" fill="#32CD32" fill-opacity="0.8"/>
<circle cx="1339.2" cy="837.4" r="14.2" fill="#32CD32" fill-opacity="0.8"/>
<circle cx="1197.6" cy="804.3" r="14.2" fill="#32CD32" fill-opacity="0.8"/>
<circle cx="1404.7" cy="861.9" r="14.2" fill="#32CD32" fill-opacity="0.8"/>
<circle cx="1327.6" cy="762.6" r="14.2" fill="#32CD32" fill-opacity="0.8"/>
<circle cx="1027.1" cy="706.5" r="14.2" fill="#6495ED" fill-opacity="0.8"/>
<circle cx="1047.2" cy="712.3" r="14.2" fill="#6495ED" fill-opacity="0.8"/>
<circle cx="1076.0" cy="746.8" r="14.2" fill="#6495ED" fill-opacity="0.8"/>
<circle cx="1143.6" cy="742.5" r="14.2" fill="#6495ED" fill-opacity="0.8"/>
<circle cx="1175.2" cy="735.3" r="14.2" fill="#6495ED" fill-opacity="0.8"/>
<circle cx="1186.7" cy="754.0" r="14.2" fill="#6495ED" fill-opacity="0.8"/>
<circle cx="1195.3" cy="712.3" r="14.2" fill="#6495ED" fill-opacity="0.8"/>
<circle cx="1185.3" cy="712.3" r="14.2" fill="#6495ED" fill-opacity="0.8"/>
<circle cx="1195.3" cy="788.5" r="14.2" fill="#6495ED" fill-opacity="0.8"/>
<circle cx="1215.5" cy="784.2" r="14.2" fill="#6495ED" fill-opacity="0.8"/>
<circle cx="1232.2" cy="777.0" r="14.2" fill="#6495ED" fill-opacity="0.8"/>
<circle cx="1252.9" cy="771.3" r="14.2" fill="#6495ED" fill-opacity="0.8"/>
<circle cx="1261.5" cy="761.2" r="14.2" fill="#6495ED" fill-opacity="0.8"/>
<circle cx="1261.5" cy="743.9" r="14.2" fill="#6495ED" fill-opacity="0.8"/>
<circle cx="1287.4" cy="722.4" r="14.2" fill="#6495ED" fill-opacity="0.8"/>
<circle cx="1290.3" cy="774.1" r="14.2" fill="#6495ED" fill-opacity="0.8"/>
<circle cx="1327.6" cy="713.7" r="14.2" fill="#6495ED" fill-opacity="0.8"/>
<circle cx="1327.6" cy="774.1" r="14.2" fill="#6495ED" fill-opacity="0.8"/>
<circle cx="1319.0" cy="777.0" r="14.2" fill="#6495ED" fill-opacity="0.8"/>
<circle cx="1321.9" cy="797.1" r="14.2" fill="#6495ED" fill-opacity="0.8"/>
<circle cx="1310.4" cy="815.8" r="14.2" fill="#6495ED" fill-opacity="0.8"/>
<circle cx="1319.0" cy="820.2" r="14.2" fill="#6495ED" fill-opacity="0.8"/>
<circle cx="1307.5" cy="838.8" r="14.2" fill="#6495ED" fill-opacity="0.8"/>
<circle cx="1339.2" cy="844.6" r="14.2" fill="#6495ED" fill-opacity="0.8"/>
<circle cx="1352.1" cy="846.0" r="14.2" fill="#6495ED" fill-opacity="0.8"/>
<circle cx="1343.5" cy="864.7" r="14.2" fill="#6495ED" fill-opacity="0.8"/>
<circle cx="1343.5" cy="869.0" r="14.2" fill="#6495ED" fill-opacity="0.8"/>
<circle cx="1170.0" cy="807.2" r="14.2" fill="#6495ED" fill-opacity="0.8"/>
<circle cx="1187.3" cy="824.5" r="14.2" fill="#6495ED" fill-opacity="0.8"/>
<circle cx="1197.6" cy="828.8" r="14.2" fill="#6495ED" fill-opacity="0.8"/>
<circle cx="1170.9" cy="834.5" r="14.2" fill="#6495ED" fill-opacity="0.8"/>
<circle cx="1246.5" cy="824.5" r="14.2" fill="#6495ED" fill-opacity="0.8"/>
<circle cx="1051.5" cy="851.8" r="14.2" fill="#6495ED" fill-opacity="0.8"/>
<circle cx="1143.6" cy="869.0" r="14.2" fill="#6495ED" fill-opacity="0.8"/>
<circle cx="1161.7" cy="869.0" r="14.2" fill="#6495ED" fill-opacity="0.8"/>
<circle cx="1165.1" cy="869.0" r="14.2" fill="#6495ED" fill-opacity="0.8"/>
<circle cx="1394.4" cy="808.6" r="14.2" fill="#6495ED" fill-opacity="0.8"/>
<circle cx="1404.7" cy="781.3" r="14.2" fill="#6495ED" fill-opacity="0.8"/>
<circle cx="1189.6" cy="787.1" r="14.2" fill="#6495ED" fill-opacity="0.8"/>
<path d="M1027.1,667.0V680.0" stroke="#FF8C00" stroke-width="1.2"/><rect x="1024.5" y="670.8" width="5.2" height="5.4" fill="#FF8C00"/>
<path d="M1047.2,679.9V692.9" stroke="#FF8C00" stroke-width="1.2"/><rect x="1044.6" y="683.7" width="5.2" height="5.4" fill="#FF8C00"/>
<path d="M1051.5,715.9V728.9" stroke="#FF8C00" stroke-width="1.2"/><rect x="1048.9" y="719.7" width="5.2" height="5.4" fill="#FF8C00"/>
<path d="M1076.0,723.0V736.0" stroke="#FF8C00" stroke-width="1.2"/><rect x="1073.4" y="726.8" width="5.2" height="5.4" fill="#FF8C00"/>
<path d="M1143.6,724.5V737.5" stroke="#FF8C00" stroke-width="1.2"/><rect x="1141.0" y="728.3" width="5.2" height="5.4" fill="#FF8C00"/>
<path d="M1160.8,656.9V669.9" stroke="#FF8C00" stroke-width="1.2"/><rect x="1158.2" y="660.7" width="5.2" height="5.4" fill="#FF8C00"/>
<path d="M1189.6,648.3V661.3" stroke="#FF8C00" stroke-width="1.2"/><rect x="1187.0" y="652.1" width="5.2" height="5.4" fill="#FF8C00"/>
<path d="M1196.8,675.6V688.6" stroke="#FF8C00" stroke-width="1.2"/><rect x="1194.2" y="679.4" width="5.2" height="5.4" fill="#FF8C00"/>
<path d="M1166.6,682.8V695.8" stroke="#FF8C00" stroke-width="1.2"/><rect x="1164.0" y="686.6" width="5.2" height="5.4" fill="#FF8C00"/>
<path d="M1172.3,707.2V720.2" stroke="#FF8C00" stroke-width="1.2"/><rect x="1169.7" y="711.0" width="5.2" height="5.4" fill="#FF8C00"/>
<path d="M1195.3,730.2V743.2" stroke="#FF8C00" stroke-width="1.2"/><rect x="1192.7" y="734.0" width="5.2" height="5.4" fill="#FF8C00"/>
<path d="M1186.7,746.1V759.1" stroke="#FF8C00" stroke-width="1.2"/><rect x="1184.1" y="749.9" width="5.2" height="5.4" fill="#FF8C00"/>
<path d="M1215.5,704.4V717.4" stroke="#FF8C00" stroke-width="1.2"/><rect x="1212.9" y="708.2" width="5.2" height="5.4" fill="#FF8C00"/>
<path d="M1232.7,724.5V737.5" stroke="#FF8C00" stroke-width="1.2"/><rect x="1230.1" y="728.3" width="5.2" height="5.4" fill="#FF8C00"/>
<path d="M1241.4,691.4V704.4" stroke="#FF8C00" stroke-width="1.2"/><rect x="1238.8" y="695.2" width="5.2" height="5.4" fill="#FF8C00"/>
<path d="M1261.5,679.9V692.9" stroke="#FF8C00" stroke-width="1.2"/><rect x="1258.9" y="683.7" width="5.2" height="5.4" fill="#FF8C00"/>
<path d="M1252.9,698.6V711.6" stroke="#FF8C00" stroke-width="1.2"/><rect x="1250.3" y="702.4" width="5.2" height="5.4" fill="#FF8C00"/>
<path d="M1286.5,698.6V711.6" stroke="#FF8C00" stroke-width="1.2"/><rect x="1283.9" y="702.4" width="5.2" height="5.4" fill="#FF8C00"/>
<path d="M1290.3,701.5V714.5" stroke="#FF8C00" stroke-width="1.2"/><rect x="1287.7" y="705.3" width="5.2" height="5.4" fill="#FF8C00"/>
<path d="M1310.4,754.7V767.7" stroke="#FF8C00" stroke-width="1.2"/><rect x="1307.8" y="758.5" width="5.2" height="5.4" fill="#FF8C00"/>
<path d="M1327.6,717.3V730.3" stroke="#FF8C00" stroke-width="1.2"/><rect x="1325.0" y="721.1" width="5.2" height="5.4" fill="#FF8C00"/>
<path d="M1327.6,702.9V715.9" stroke="#FF8C00" stroke-width="1.2"/><rect x="1325.0" y="706.7" width="5.2" height="5.4" fill="#FF8C00"/>
<path d="M1352.1,756.1V769.1" stroke="#FF8C00" stroke-width="1.2"/><rect x="1349.5" y="759.9" width="5.2" height="5.4" fill="#FF8C00"/>
<path d="M1339.2,803.6V816.6" stroke="#FF8C00" stroke-width="1.2"/><rect x="1336.6" y="807.4" width="5.2" height="5.4" fill="#FF8C00"/>
<path d="M1330.5,799.3V812.3" stroke="#FF8C00" stroke-width="1.2"/><rect x="1327.9" y="803.1" width="5.2" height="5.4" fill="#FF8C00"/>
<path d="M1343.5,851.0V864.0" stroke="#FF8C00" stroke-width="1.2"/><rect x="1340.9" y="854.8" width="5.2" height="5.4" fill="#FF8C00"/>
<path d="M1307.5,820.8V833.8" stroke="#FF8C00" stroke-width="1.2"/><rect x="1304.9" y="824.6" width="5.2" height="5.4" fill="#FF8C00"/>
<path d="M1195.3,783.4V796.4" stroke="#FF8C00" stroke-width="1.2"/><rect x="1192.7" y="787.2" width="5.2" height="5.4" fill="#FF8C00"/>
<path d="M1404.7,756.1V769.1" stroke="#FF8C00" stroke-width="1.2"/><rect x="1402.1" y="759.9" width="5.2" height="5.4" fill="#FF8C00"/>
<path d="M1394.4,802.1V815.1" stroke="#FF8C00" stroke-width="1.2"/><rect x="1391.8" y="805.9" width="5.2" height="5.4" fill="#FF8C00"/>
<path d="M1027.1,675.6V688.6" stroke="#32CD32" stroke-width="1.2"/><rect x="1024.5" y="679.4" width="5.2" height="5.4" fill="#32CD32"/>
<path d="M1047.2,681.3V694.3" stroke="#32CD32" stroke-width="1.2"/><rect x="1044.6" y="685.1" width="5.2" height="5.4" fill="#32CD32"/>
<path d="M1051.5,717.3V730.3" stroke="#32CD32" stroke-width="1.2"/><rect x="1048.9" y="721.1" width="5.2" height="5.4" fill="#32CD32"/>
<path d="M1076.0,724.5V737.5" stroke="#32CD32" stroke-width="1.2"/><rect x="1073.4" y="728.3" width="5.2" height="5.4" fill="#32CD32"/>
<path d="M1143.6,698.6V711.6" stroke="#32CD32" stroke-width="1.2"/><rect x="1141.0" y="702.4" width="5.2" height="5.4" fill="#32CD32"/>
<path d="M1143.6,730.2V743.2" stroke="#32CD32" stroke-width="1.2"/><rect x="1141.0" y="734.0" width="5.2" height="5.4" fill="#32CD32"/>
<path d="M1160.8,656.9V669.9" stroke="#32CD32" stroke-width="1.2"/><rect x="1158.2" y="660.7" width="5.2" height="5.4" fill="#32CD32"/>
<path d="M1189.6,649.7V662.7" stroke="#32CD32" stroke-width="1.2"/><rect x="1187.0" y="653.5" width="5.2" height="5.4" fill="#32CD32"/>
<path d="M1183.8,675.6V688.6" stroke="#32CD32" stroke-width="1.2"/><rect x="1181.2" y="679.4" width="5.2" height="5.4" fill="#32CD32"/>
<path d="M1169.5,687.1V700.1" stroke="#32CD32" stroke-width="1.2"/><rect x="1166.9" y="690.9" width="5.2" height="5.4" fill="#32CD32"/>
<path d="M1195.3,684.2V697.2" stroke="#32CD32" stroke-width="1.2"/><rect x="1192.7" y="688.0" width="5.2" height="5.4" fill="#32CD32"/>
<path d="M1163.7,744.6V757.6" stroke="#32CD32" stroke-width="1.2"/><rect x="1161.1" y="748.4" width="5.2" height="5.4" fill="#32CD32"/>
<path d="M1183.8,736.0V749.0" stroke="#32CD32" stroke-width="1.2"/><rect x="1181.2" y="739.8" width="5.2" height="5.4" fill="#32CD32"/>
<path d="M1195.3,721.6V734.6" stroke="#32CD32" stroke-width="1.2"/><rect x="1192.7" y="725.4" width="5.2" height="5.4" fill="#32CD32"/>
<path d="M1215.5,708.7V721.7" stroke="#32CD32" stroke-width="1.2"/><rect x="1212.9" y="712.5" width="5.2" height="5.4" fill="#32CD32"/>
<path d="M1232.7,715.9V728.9" stroke="#32CD32" stroke-width="1.2"/><rect x="1230.1" y="719.7" width="5.2" height="5.4" fill="#32CD32"/>
<path d="M1247.1,727.4V740.4" stroke="#32CD32" stroke-width="1.2"/><rect x="1244.5" y="731.2" width="5.2" height="5.4" fill="#32CD32"/>
<path d="M1255.7,695.7V708.7" stroke="#32CD32" stroke-width="1.2"/><rect x="1253.1" y="699.5" width="5.2" height="5.4" fill="#32CD32"/>
<path d="M1261.5,698.6V711.6" stroke="#32CD32" stroke-width="1.2"/><rect x="1258.9" y="702.4" width="5.2" height="5.4" fill="#32CD32"/>
<path d="M1290.3,721.6V734.6" stroke="#32CD32" stroke-width="1.2"/><rect x="1287.7" y="725.4" width="5.2" height="5.4" fill="#32CD32"/>
<path d="M1310.4,750.4V763.4" stroke="#32CD32" stroke-width="1.2"/><rect x="1307.8" y="754.2" width="5.2" height="5.4" fill="#32CD32"/>
<path d="M1321.9,776.3V789.3" stroke="#32CD32" stroke-width="1.2"/><rect x="1319.3" y="780.1" width="5.2" height="5.4" fill="#32CD32"/>
<path d="M1327.6,707.2V720.2" stroke="#32CD32" stroke-width="1.2"/><rect x="1325.0" y="711.0" width="5.2" height="5.4" fill="#32CD32"/>
<path d="M1347.8,728.8V741.8" stroke="#32CD32" stroke-width="1.2"/><rect x="1345.2" y="732.6" width="5.2" height="5.4" fill="#32CD32"/>
<path d="M1352.1,728.8V741.8" stroke="#32CD32" stroke-width="1.2"/><rect x="1349.5" y="732.6" width="5.2" height="5.4" fill="#32CD32"/>
<line x1="1346.3" x2="1346.3" y1="629.3" y2="681.7" stroke="#32CD32" stroke-width="1.6"/>
<line x1="1346.3" x2="1346.3" y1="631.8" y2="679.2" stroke="#32CD32" stroke-width="5.6"/>
<path d="M1286.5,809.3V822.3" stroke="#32CD32" stroke-width="1.2"/><rect x="1283.9" y="813.1" width="5.2" height="5.4" fill="#32CD32"/>
<path d="M1307.5,819.4V832.4" stroke="#32CD32" stroke-width="1.2"/><rect x="1304.9" y="823.2" width="5.2" height="5.4" fill="#32CD32"/>
<path d="M1339.2,830.9V843.9" stroke="#32CD32" stroke-width="1.2"/><rect x="1336.6" y="834.7" width="5.2" height="5.4" fill="#32CD32"/>
<path d="M1197.6,797.8V810.8" stroke="#32CD32" stroke-width="1.2"/><rect x="1195.0" y="801.6" width="5.2" height="5.4" fill="#32CD32"/>
<path d="M1404.7,855.4V868.4" stroke="#32CD32" stroke-width="1.2"/><rect x="1402.1" y="859.2" width="5.2" height="5.4" fill="#32CD32"/>
<path d="M1327.6,756.1V769.1" stroke="#32CD32" stroke-width="1.2"/><rect x="1325.0" y="759.9" width="5.2" height="5.4" fill="#32CD32"/>
<path d="M1027.1,700.0V713.0" stroke="#6495ED" stroke-width="1.2"/><rect x="1024.5" y="703.8" width="5.2" height="5.4" fill="#6495ED"/>
<path d="M1047.2,705.8V718.8" stroke="#6495ED" stroke-width="1.2"/><rect x="1044.6" y="709.6" width="5.2" height="5.4" fill="#6495ED"/>
<path d="M1076.0,740.3V753.3" stroke="#6495ED" stroke-width="1.2"/><rect x="1073.4" y="744.1" width="5.2" height="5.4" fill="#6495ED"/>
<line x1="1143.6" x2="1143.6" y1="725.6" y2="753.6" stroke="#6495ED" stroke-width="1.6"/>
<line x1="1143.6" x2="1143.6" y1="728.1" y2="751.1" stroke="#6495ED" stroke-width="5.6"/>
<path d="M1175.2,728.8V741.8" stroke="#6495ED" stroke-width="1.2"/><rect x="1172.6" y="732.6" width="5.2" height="5.4" fill="#6495ED"/>
<path d="M1186.7,747.5V760.5" stroke="#6495ED" stroke-width="1.2"/><rect x="1184.1" y="751.3" width="5.2" height="5.4" fill="#6495ED"/>
<path d="M1195.3,705.8V718.8" stroke="#6495ED" stroke-width="1.2"/><rect x="1192.7" y="709.6" width="5.2" height="5.4" fill="#6495ED"/>
<path d="M1185.3,705.8V718.8" stroke="#6495ED" stroke-width="1.2"/><rect x="1182.7" y="709.6" width="5.2" height="5.4" fill="#6495ED"/>
<path d="M1195.3,782.0V795.0" stroke="#6495ED" stroke-width="1.2"/><rect x="1192.7" y="785.8" width="5.2" height="5.4" fill="#6495ED"/>
<path d="M1215.5,777.7V790.7" stroke="#6495ED" stroke-width="1.2"/><rect x="1212.9" y="781.5" width="5.2" height="5.4" fill="#6495ED"/>
<path d="M1232.2,770.5V783.5" stroke="#6495ED" stroke-width="1.2"/><rect x="1229.6" y="774.3" width="5.2" height="5.4" fill="#6495ED"/>
<path d="M1252.9,764.8V777.8" stroke="#6495ED" stroke-width="1.2"/><rect x="1250.3" y="768.6" width="5.2" height="5.4" fill="#6495ED"/>
<path d="M1261.5,754.7V767.7" stroke="#6495ED" stroke-width="1.2"/><rect x="1258.9" y="758.5" width="5.2" height="5.4" fill="#6495ED"/>
<path d="M1261.5,737.4V750.4" stroke="#6495ED" stroke-width="1.2"/><rect x="1258.9" y="741.2" width="5.2" height="5.4" fill="#6495ED"/>
<path d="M1287.4,715.9V728.9" stroke="#6495ED" stroke-width="1.2"/><rect x="1284.8" y="719.7" width="5.2" height="5.4" fill="#6495ED"/>
<path d="M1290.3,767.6V780.6" stroke="#6495ED" stroke-width="1.2"/><rect x="1287.7" y="771.4" width="5.2" height="5.4" fill="#6495ED"/>
<line x1="1327.6" x2="1327.6" y1="702.6" y2="724.9" stroke="#6495ED" stroke-width="1.6"/>
<line x1="1327.6" x2="1327.6" y1="705.1" y2="722.4" stroke="#6495ED" stroke-width="5.6"/>
<path d="M1327.6,767.6V780.6" stroke="#6495ED" stroke-width="1.2"/><rect x="1325.0" y="771.4" width="5.2" height="5.4" fill="#6495ED"/>
<path d="M1319.0,770.5V783.5" stroke="#6495ED" stroke-width="1.2"/><rect x="1316.4" y="774.3" width="5.2" height="5.4" fill="#6495ED"/>
<path d="M1321.9,790.6V803.6" stroke="#6495ED" stroke-width="1.2"/><rect x="1319.3" y="794.4" width="5.2" height="5.4" fill="#6495ED"/>
<path d="M1310.4,809.3V822.3" stroke="#6495ED" stroke-width="1.2"/><rect x="1307.8" y="813.1" width="5.2" height="5.4" fill="#6495ED"/>
<path d="M1319.0,813.7V826.7" stroke="#6495ED" stroke-width="1.2"/><rect x="1316.4" y="817.5" width="5.2" height="5.4" fill="#6495ED"/>
<path d="M1307.5,832.3V845.3" stroke="#6495ED" stroke-width="1.2"/><rect x="1304.9" y="836.1" width="5.2" height="5.4" fill="#6495ED"/>
<path d="M1339.2,838.1V851.1" stroke="#6495ED" stroke-width="1.2"/><rect x="1336.6" y="841.9" width="5.2" height="5.4" fill="#6495ED"/>
<path d="M1352.1,839.5V852.5" stroke="#6495ED" stroke-width="1.2"/><rect x="1349.5" y="843.3" width="5.2" height="5.4" fill="#6495ED"/>
<path d="M1343.5,858.2V871.2" stroke="#6495ED" stroke-width="1.2"/><rect x="1340.9" y="862.0" width="5.2" height="5.4" fill="#6495ED"/>
<path d="M1343.5,862.5V875.5" stroke="#6495ED" stroke-width="1.2"/><rect x="1340.9" y="866.3" width="5.2" height="5.4" fill="#6495ED"/>
<path d="M1170.0,800.7V813.7" stroke="#6495ED" stroke-width="1.2"/><rect x="1167.4" y="804.5" width="5.2" height="5.4" fill="#6495ED"/>
<path d="M1187.3,818.0V831.0" stroke="#6495ED" stroke-width="1.2"/><rect x="1184.7" y="821.8" width="5.2" height="5.4" fill="#6495ED"/>
<path d="M1197.6,822.3V835.3" stroke="#6495ED" stroke-width="1.2"/><rect x="1195.0" y="826.1" width="5.2" height="5.4" fill="#6495ED"/>
<path d="M1170.9,828.0V841.0" stroke="#6495ED" stroke-width="1.2"/><rect x="1168.3" y="831.8" width="5.2" height="5.4" fill="#6495ED"/>
<path d="M1246.5,818.0V831.0" stroke="#6495ED" stroke-width="1.2"/><rect x="1243.9" y="821.8" width="5.2" height="5.4" fill="#6495ED"/>
<path d="M1051.5,845.3V858.3" stroke="#6495ED" stroke-width="1.2"/><rect x="1048.9" y="849.1" width="5.2" height="5.4" fill="#6495ED"/>
<path d="M1143.6,862.5V875.5" stroke="#6495ED" stroke-width="1.2"/><rect x="1141.0" y="866.3" width="5.2" height="5.4" fill="#6495ED"/>
<path d="M1161.7,862.5V875.5" stroke="#6495ED" stroke-width="1.2"/><rect x="1159.1" y="866.3" width="5.2" height="5.4" fill="#6495ED"/>
<path d="M1165.1,862.5V875.5" stroke="#6495ED" stroke-width="1.2"/><rect x="1162.5" y="866.3" width="5.2" height="5.4" fill="#6495ED"/>
<path d="M1394.4,802.1V815.1" stroke="#6495ED" stroke-width="1.2"/><rect x="1391.8" y="805.9" width="5.2" height="5.4" fill="#6495ED"/>
<path d="M1404.7,774.8V787.8" stroke="#6495ED" stroke-width="1.2"/><rect x="1402.1" y="778.6" width="5.2" height="5.4" fill="#6495ED"/>
<path d="M1189.6,780.6V793.6" stroke="#6495ED" stroke-width="1.2"/><rect x="1187.0" y="784.4" width="5.2" height="5.4" fill="#6495ED"/>
<path d="M1013.3,672.0 L1404.7,771.3" fill="none" stroke="#FF8C00" stroke-width="5.3"/>
<path d="M1013.3,680.7 L1404.7,765.5" fill="none" stroke="#32CD32" stroke-width="5.3"/>
<path d="M1013.3,733.9 L1404.7,798.6" fill="none" stroke="#6495ED" stroke-width="5.3" stroke-dasharray="10.2,10.2"/>
</g>
<text x="1013.4" y="532.2" font-family='"Liberation Sans", sans-serif' font-weight="bold" font-size="51.8" fill="#000">h</text>
<rect x="994.10" y="475.15" width="429.60" height="414.00" fill="none" stroke="#333" stroke-width="1.8"/>
<line x1="106.50" x2="536.10" y1="1251.64" y2="1251.64" stroke="#EBEBEB" stroke-width="1.07"/><line x1="106.50" x2="536.10" y1="1157.31" y2="1157.31" stroke="#EBEBEB" stroke-width="1.07"/><line x1="106.50" x2="536.10" y1="1062.99" y2="1062.99" stroke="#EBEBEB" stroke-width="1.07"/><line x1="106.50" x2="536.10" y1="968.66" y2="968.66" stroke="#EBEBEB" stroke-width="1.07"/><line y1="903.15" y2="1317.15" x1="185.40" x2="185.40" stroke="#EBEBEB" stroke-width="1.07"/><line y1="903.15" y2="1317.15" x1="305.40" x2="305.40" stroke="#EBEBEB" stroke-width="1.07"/><line y1="903.15" y2="1317.15" x1="425.40" x2="425.40" stroke="#EBEBEB" stroke-width="1.07"/><line x1="106.50" x2="536.10" y1="1298.80" y2="1298.80" stroke="#EBEBEB" stroke-width="2.13"/><line x1="106.50" x2="536.10" y1="1204.47" y2="1204.47" stroke="#EBEBEB" stroke-width="2.13"/><line x1="106.50" x2="536.10" y1="1110.15" y2="1110.15" stroke="#EBEBEB" stroke-width="2.13"/><line x1="106.50" x2="536.10" y1="1015.83" y2="1015.83" stroke="#EBEBEB" stroke-width="2.13"/><line x1="106.50" x2="536.10" y1="921.50" y2="921.50" stroke="#EBEBEB" stroke-width="2.13"/><line y1="903.15" y2="1317.15" x1="125.40" x2="125.40" stroke="#EBEBEB" stroke-width="2.13"/><line y1="903.15" y2="1317.15" x1="245.40" x2="245.40" stroke="#EBEBEB" stroke-width="2.13"/><line y1="903.15" y2="1317.15" x1="365.40" x2="365.40" stroke="#EBEBEB" stroke-width="2.13"/><line y1="903.15" y2="1317.15" x1="485.40" x2="485.40" stroke="#EBEBEB" stroke-width="2.13"/>
<g clip-path="url(#cp20)">
<path d="M125.3,1220.8 L135.3,1220.5 L145.3,1220.2 L155.4,1219.8 L165.4,1219.3 L175.5,1218.8 L185.5,1218.3 L195.5,1217.7 L205.6,1217.1 L215.6,1216.4 L225.6,1215.7 L235.7,1214.9 L245.7,1214.0 L255.8,1213.2 L265.8,1212.2 L275.8,1211.3 L285.9,1210.2 L295.9,1209.2 L305.9,1208.0 L316.0,1206.9 L326.0,1205.7 L336.1,1204.4 L346.1,1203.1 L356.1,1201.7 L366.2,1200.3 L376.2,1198.8 L386.2,1197.3 L396.3,1195.8 L406.3,1194.2 L416.4,1192.5 L426.4,1190.8 L436.4,1189.1 L446.5,1187.3 L456.5,1185.4 L466.5,1183.6 L476.6,1181.6 L486.6,1179.6 L496.7,1177.6 L506.7,1175.5 L516.7,1173.4 L516.7,1202.1 L506.7,1202.7 L496.7,1203.2 L486.6,1203.8 L476.6,1204.5 L466.5,1205.2 L456.5,1206.0 L446.5,1206.8 L436.4,1207.6 L426.4,1208.5 L416.4,1209.4 L406.3,1210.4 L396.3,1211.4 L386.2,1212.4 L376.2,1213.5 L366.2,1214.7 L356.1,1215.9 L346.1,1217.1 L336.1,1218.4 L326.0,1219.7 L316.0,1221.1 L305.9,1222.5 L295.9,1223.9 L285.9,1225.4 L275.8,1227.0 L265.8,1228.5 L255.8,1230.2 L245.7,1231.8 L235.7,1233.6 L225.6,1235.3 L215.6,1237.1 L205.6,1239.0 L195.5,1240.9 L185.5,1242.8 L175.5,1244.8 L165.4,1246.8 L155.4,1248.9 L145.3,1251.0 L135.3,1253.1 L125.3,1255.3Z" fill="#999" fill-opacity="0.3"/>
<path d="M125.3,1265.8 L135.3,1265.5 L145.3,1265.0 L155.4,1264.5 L165.4,1264.0 L175.4,1263.3 L185.5,1262.6 L195.5,1261.8 L205.5,1260.9 L215.5,1259.9 L225.6,1258.8 L235.6,1257.6 L245.6,1256.4 L255.7,1255.0 L265.7,1253.6 L275.7,1252.1 L285.8,1250.4 L295.8,1248.7 L305.8,1246.9 L315.8,1244.9 L325.9,1242.9 L335.9,1240.7 L345.9,1238.5 L356.0,1236.1 L366.0,1233.6 L376.0,1231.0 L386.1,1228.3 L396.1,1225.5 L406.1,1222.5 L416.1,1219.5 L426.2,1216.3 L436.2,1213.0 L446.2,1209.5 L456.3,1206.0 L466.3,1202.3 L476.3,1198.5 L486.4,1194.5 L496.4,1190.4 L506.4,1186.2 L516.4,1181.8 L516.4,1209.4 L506.4,1211.7 L496.4,1214.0 L486.4,1216.2 L476.3,1218.5 L466.3,1220.8 L456.3,1223.1 L446.2,1225.4 L436.2,1227.7 L426.2,1230.0 L416.1,1232.4 L406.1,1234.7 L396.1,1237.0 L386.1,1239.3 L376.0,1241.5 L366.0,1243.8 L356.0,1246.1 L345.9,1248.3 L335.9,1250.6 L325.9,1252.8 L315.8,1254.9 L305.8,1257.1 L295.8,1259.3 L285.8,1261.4 L275.7,1263.5 L265.7,1265.5 L255.7,1267.5 L245.6,1269.5 L235.6,1271.5 L225.6,1273.4 L215.5,1275.3 L205.5,1277.1 L195.5,1278.9 L185.5,1280.6 L175.4,1282.3 L165.4,1283.9 L155.4,1285.5 L145.3,1287.1 L135.3,1288.5 L125.3,1290.0Z" fill="#999" fill-opacity="0.3"/>
<path d="M125.3,1260.6 L135.3,1260.3 L145.3,1259.9 L155.4,1259.5 L165.4,1259.0 L175.4,1258.4 L185.5,1257.8 L195.5,1257.1 L205.5,1256.3 L215.5,1255.5 L225.6,1254.5 L235.6,1253.5 L245.6,1252.5 L255.7,1251.3 L265.7,1250.1 L275.7,1248.8 L285.8,1247.4 L295.8,1245.9 L305.8,1244.4 L315.8,1242.8 L325.9,1241.0 L335.9,1239.2 L345.9,1237.4 L356.0,1235.4 L366.0,1233.3 L376.0,1231.2 L386.1,1229.0 L396.1,1226.6 L406.1,1224.2 L416.1,1221.7 L426.2,1219.1 L436.2,1216.4 L446.2,1213.6 L456.3,1210.7 L466.3,1207.7 L476.3,1204.7 L486.4,1201.5 L496.4,1198.2 L506.4,1194.8 L516.4,1191.3 L516.4,1218.9 L506.4,1220.3 L496.4,1221.7 L486.4,1223.2 L476.3,1224.7 L466.3,1226.3 L456.3,1227.9 L446.2,1229.5 L436.2,1231.2 L426.2,1232.9 L416.1,1234.6 L406.1,1236.3 L396.1,1238.1 L386.1,1239.9 L376.0,1241.7 L366.0,1243.5 L356.0,1245.4 L345.9,1247.2 L335.9,1249.1 L325.9,1250.9 L315.8,1252.8 L305.8,1254.6 L295.8,1256.5 L285.8,1258.3 L275.7,1260.2 L265.7,1262.0 L255.7,1263.8 L245.6,1265.6 L235.6,1267.4 L225.6,1269.1 L215.5,1270.8 L205.5,1272.5 L195.5,1274.2 L185.5,1275.8 L175.4,1277.4 L165.4,1279.0 L155.4,1280.5 L145.3,1281.9 L135.3,1283.4 L125.3,1284.7Z" fill="#999" fill-opacity="0.3"/>
<circle cx="506.4" cy="1176.2" r="14.2" fill="#FF8C00" fill-opacity="0.8"/>
<circle cx="139.1" cy="1279.8" r="14.2" fill="#FF8C00" fill-opacity="0.8"/>
<circle cx="159.2" cy="1282.7" r="14.2" fill="#FF8C00" fill-opacity="0.8"/>
<circle cx="212.4" cy="1216.5" r="14.2" fill="#FF8C00" fill-opacity="0.8"/>
<circle cx="272.8" cy="1268.3" r="14.2" fill="#FF8C00" fill-opacity="0.8"/>
<circle cx="295.8" cy="1274.0" r="14.2" fill="#FF8C00" fill-opacity="0.8"/>
<circle cx="307.3" cy="1271.2" r="14.2" fill="#FF8C00" fill-opacity="0.8"/>
<circle cx="310.2" cy="1274.0" r="14.2" fill="#FF8C00" fill-opacity="0.8"/>
<circle cx="327.5" cy="1262.5" r="14.2" fill="#FF8C00" fill-opacity="0.8"/>
<circle cx="344.7" cy="1258.2" r="14.2" fill="#FF8C00" fill-opacity="0.8"/>
<circle cx="359.1" cy="1256.8" r="14.2" fill="#FF8C00" fill-opacity="0.8"/>
<circle cx="373.5" cy="1269.7" r="14.2" fill="#FF8C00" fill-opacity="0.8"/>
<circle cx="402.3" cy="1266.8" r="14.2" fill="#FF8C00" fill-opacity="0.8"/>
<circle cx="422.4" cy="1253.9" r="14.2" fill="#FF8C00" fill-opacity="0.8"/>
<circle cx="428.1" cy="1256.8" r="14.2" fill="#FF8C00" fill-opacity="0.8"/>
<circle cx="419.5" cy="1212.2" r="14.2" fill="#FF8C00" fill-opacity="0.8"/>
<circle cx="436.8" cy="1230.9" r="14.2" fill="#FF8C00" fill-opacity="0.8"/>
<circle cx="464.1" cy="1245.3" r="14.2" fill="#FF8C00" fill-opacity="0.8"/>
<circle cx="455.5" cy="1190.6" r="14.2" fill="#FF8C00" fill-opacity="0.8"/>
<circle cx="516.7" cy="1212.2" r="14.2" fill="#FF8C00" fill-opacity="0.8"/>
<circle cx="458.3" cy="1131.7" r="14.2" fill="#FF8C00" fill-opacity="0.8"/>
<circle cx="293.0" cy="1248.2" r="14.2" fill="#FF8C00" fill-opacity="0.8"/>
<circle cx="139.1" cy="1275.5" r="14.2" fill="#32CD32" fill-opacity="0.8"/>
<circle cx="159.2" cy="1281.2" r="14.2" fill="#32CD32" fill-opacity="0.8"/>
<circle cx="186.5" cy="1275.5" r="14.2" fill="#32CD32" fill-opacity="0.8"/>
<circle cx="212.4" cy="1216.5" r="14.2" fill="#32CD32" fill-opacity="0.8"/>
<circle cx="255.6" cy="1256.8" r="14.2" fill="#32CD32" fill-opacity="0.8"/>
<circle cx="270.5" cy="1243.8" r="14.2" fill="#32CD32" fill-opacity="0.8"/>
<circle cx="281.5" cy="1262.5" r="14.2" fill="#32CD32" fill-opacity="0.8"/>
<circle cx="295.8" cy="1274.0" r="14.2" fill="#32CD32" fill-opacity="0.8"/>
<circle cx="290.1" cy="1268.3" r="14.2" fill="#32CD32" fill-opacity="0.8"/>
<circle cx="307.3" cy="1259.7" r="14.2" fill="#32CD32" fill-opacity="0.8"/>
<circle cx="310.2" cy="1210.8" r="14.2" fill="#32CD32" fill-opacity="0.8"/>
<circle cx="327.5" cy="1259.7" r="14.2" fill="#32CD32" fill-opacity="0.8"/>
<circle cx="344.7" cy="1255.3" r="14.2" fill="#32CD32" fill-opacity="0.8"/>
<circle cx="359.1" cy="1236.6" r="14.2" fill="#32CD32" fill-opacity="0.8"/>
<circle cx="364.9" cy="1222.3" r="14.2" fill="#32CD32" fill-opacity="0.8"/>
<circle cx="373.5" cy="1251.0" r="14.2" fill="#32CD32" fill-opacity="0.8"/>
<circle cx="398.5" cy="1169.1" r="14.2" fill="#32CD32" fill-opacity="0.8"/>
<circle cx="402.3" cy="1245.3" r="14.2" fill="#32CD32" fill-opacity="0.8"/>
<circle cx="422.4" cy="1248.2" r="14.2" fill="#32CD32" fill-opacity="0.8"/>
<circle cx="441.1" cy="1182.0" r="14.2" fill="#32CD32" fill-opacity="0.8"/>
<circle cx="441.1" cy="1248.2" r="14.2" fill="#32CD32" fill-opacity="0.8"/>
<circle cx="439.6" cy="1205.0" r="14.2" fill="#32CD32" fill-opacity="0.8"/>
<circle cx="454.0" cy="1228.0" r="14.2" fill="#32CD32" fill-opacity="0.8"/>
<circle cx="455.5" cy="1268.3" r="14.2" fill="#32CD32" fill-opacity="0.8"/>
<circle cx="464.1" cy="1258.2" r="14.2" fill="#32CD32" fill-opacity="0.8"/>
<circle cx="458.3" cy="1295.6" r="14.2" fill="#32CD32" fill-opacity="0.8"/>
<circle cx="516.7" cy="1190.6" r="14.2" fill="#32CD32" fill-opacity="0.8"/>
<circle cx="163.5" cy="1199.3" r="14.2" fill="#6495ED" fill-opacity="0.8"/>
<circle cx="139.1" cy="1239.5" r="14.2" fill="#6495ED" fill-opacity="0.8"/>
<circle cx="159.2" cy="1265.4" r="14.2" fill="#6495ED" fill-opacity="0.8"/>
<circle cx="186.5" cy="1265.4" r="14.2" fill="#6495ED" fill-opacity="0.8"/>
<circle cx="188.0" cy="1282.7" r="14.2" fill="#6495ED" fill-opacity="0.8"/>
<circle cx="188.0" cy="1297.0" r="14.2" fill="#6495ED" fill-opacity="0.8"/>
<circle cx="255.6" cy="1190.6" r="14.2" fill="#6495ED" fill-opacity="0.8"/>
<circle cx="282.9" cy="1180.6" r="14.2" fill="#6495ED" fill-opacity="0.8"/>
<circle cx="310.2" cy="1184.9" r="14.2" fill="#6495ED" fill-opacity="0.8"/>
<circle cx="298.7" cy="1190.6" r="14.2" fill="#6495ED" fill-opacity="0.8"/>
<circle cx="295.8" cy="1196.4" r="14.2" fill="#6495ED" fill-opacity="0.8"/>
<circle cx="280.0" cy="1205.0" r="14.2" fill="#6495ED" fill-opacity="0.8"/>
<circle cx="255.6" cy="1276.9" r="14.2" fill="#6495ED" fill-opacity="0.8"/>
<circle cx="275.7" cy="1297.0" r="14.2" fill="#6495ED" fill-opacity="0.8"/>
<circle cx="307.3" cy="1230.9" r="14.2" fill="#6495ED" fill-opacity="0.8"/>
<circle cx="308.8" cy="1217.9" r="14.2" fill="#6495ED" fill-opacity="0.8"/>
<circle cx="327.5" cy="1212.2" r="14.2" fill="#6495ED" fill-opacity="0.8"/>
<circle cx="344.7" cy="1205.0" r="14.2" fill="#6495ED" fill-opacity="0.8"/>
<circle cx="359.1" cy="1192.1" r="14.2" fill="#6495ED" fill-opacity="0.8"/>
<circle cx="364.9" cy="1213.6" r="14.2" fill="#6495ED" fill-opacity="0.8"/>
<circle cx="373.5" cy="1217.9" r="14.2" fill="#6495ED" fill-opacity="0.8"/>
<circle cx="364.9" cy="1233.8" r="14.2" fill="#6495ED" fill-opacity="0.8"/>
<circle cx="373.5" cy="1252.5" r="14.2" fill="#6495ED" fill-opacity="0.8"/>
<circle cx="399.4" cy="1239.5" r="14.2" fill="#6495ED" fill-opacity="0.8"/>
<circle cx="402.3" cy="1217.9" r="14.2" fill="#6495ED" fill-opacity="0.8"/>
<circle cx="419.5" cy="1193.5" r="14.2" fill="#6495ED" fill-opacity="0.8"/>
<circle cx="425.3" cy="1196.4" r="14.2" fill="#6495ED" fill-opacity="0.8"/>
<circle cx="439.6" cy="1245.3" r="14.2" fill="#6495ED" fill-opacity="0.8"/>
<circle cx="433.9" cy="1230.9" r="14.2" fill="#6495ED" fill-opacity="0.8"/>
<circle cx="455.5" cy="1184.9" r="14.2" fill="#6495ED" fill-opacity="0.8"/>
<circle cx="464.1" cy="1193.5" r="14.2" fill="#6495ED" fill-opacity="0.8"/>
<circle cx="458.3" cy="1131.7" r="14.2" fill="#6495ED" fill-opacity="0.8"/>
<circle cx="506.4" cy="1176.2" r="14.2" fill="#6495ED" fill-opacity="0.8"/>
<circle cx="516.7" cy="1193.5" r="14.2" fill="#6495ED" fill-opacity="0.8"/>
<circle cx="267.1" cy="1259.7" r="14.2" fill="#6495ED" fill-opacity="0.8"/>
<circle cx="290.1" cy="1259.7" r="14.2" fill="#6495ED" fill-opacity="0.8"/>
<path d="M506.4,1169.7V1182.7" stroke="#FF8C00" stroke-width="1.2"/><rect x="503.8" y="1173.5" width="5.2" height="5.4" fill="#FF8C00"/>
<path d="M139.1,1273.3V1286.3" stroke="#FF8C00" stroke-width="1.2"/><rect x="136.5" y="1277.1" width="5.2" height="5.4" fill="#FF8C00"/>
<path d="M159.2,1276.2V1289.2" stroke="#FF8C00" stroke-width="1.2"/><rect x="156.6" y="1280.0" width="5.2" height="5.4" fill="#FF8C00"/>
<path d="M212.4,1210.0V1223.0" stroke="#FF8C00" stroke-width="1.2"/><rect x="209.8" y="1213.8" width="5.2" height="5.4" fill="#FF8C00"/>
<path d="M272.8,1261.8V1274.8" stroke="#FF8C00" stroke-width="1.2"/><rect x="270.2" y="1265.6" width="5.2" height="5.4" fill="#FF8C00"/>
<path d="M295.8,1267.5V1280.5" stroke="#FF8C00" stroke-width="1.2"/><rect x="293.2" y="1271.3" width="5.2" height="5.4" fill="#FF8C00"/>
<path d="M307.3,1264.7V1277.7" stroke="#FF8C00" stroke-width="1.2"/><rect x="304.7" y="1268.5" width="5.2" height="5.4" fill="#FF8C00"/>
<path d="M310.2,1267.5V1280.5" stroke="#FF8C00" stroke-width="1.2"/><rect x="307.6" y="1271.3" width="5.2" height="5.4" fill="#FF8C00"/>
<path d="M327.5,1256.0V1269.0" stroke="#FF8C00" stroke-width="1.2"/><rect x="324.9" y="1259.8" width="5.2" height="5.4" fill="#FF8C00"/>
<path d="M344.7,1251.7V1264.7" stroke="#FF8C00" stroke-width="1.2"/><rect x="342.1" y="1255.5" width="5.2" height="5.4" fill="#FF8C00"/>
<path d="M359.1,1250.3V1263.3" stroke="#FF8C00" stroke-width="1.2"/><rect x="356.5" y="1254.1" width="5.2" height="5.4" fill="#FF8C00"/>
<path d="M373.5,1263.2V1276.2" stroke="#FF8C00" stroke-width="1.2"/><rect x="370.9" y="1267.0" width="5.2" height="5.4" fill="#FF8C00"/>
<path d="M402.3,1260.3V1273.3" stroke="#FF8C00" stroke-width="1.2"/><rect x="399.7" y="1264.1" width="5.2" height="5.4" fill="#FF8C00"/>
<path d="M422.4,1247.4V1260.4" stroke="#FF8C00" stroke-width="1.2"/><rect x="419.8" y="1251.2" width="5.2" height="5.4" fill="#FF8C00"/>
<path d="M428.1,1250.3V1263.3" stroke="#FF8C00" stroke-width="1.2"/><rect x="425.5" y="1254.1" width="5.2" height="5.4" fill="#FF8C00"/>
<path d="M419.5,1205.7V1218.7" stroke="#FF8C00" stroke-width="1.2"/><rect x="416.9" y="1209.5" width="5.2" height="5.4" fill="#FF8C00"/>
<path d="M436.8,1224.4V1237.4" stroke="#FF8C00" stroke-width="1.2"/><rect x="434.2" y="1228.2" width="5.2" height="5.4" fill="#FF8C00"/>
<path d="M464.1,1238.8V1251.8" stroke="#FF8C00" stroke-width="1.2"/><rect x="461.5" y="1242.6" width="5.2" height="5.4" fill="#FF8C00"/>
<path d="M455.5,1184.1V1197.1" stroke="#FF8C00" stroke-width="1.2"/><rect x="452.9" y="1187.9" width="5.2" height="5.4" fill="#FF8C00"/>
<path d="M516.7,1205.7V1218.7" stroke="#FF8C00" stroke-width="1.2"/><rect x="514.1" y="1209.5" width="5.2" height="5.4" fill="#FF8C00"/>
<path d="M458.3,1125.2V1138.2" stroke="#FF8C00" stroke-width="1.2"/><rect x="455.7" y="1129.0" width="5.2" height="5.4" fill="#FF8C00"/>
<path d="M293.0,1241.7V1254.7" stroke="#FF8C00" stroke-width="1.2"/><rect x="290.4" y="1245.5" width="5.2" height="5.4" fill="#FF8C00"/>
<path d="M139.1,1269.0V1282.0" stroke="#32CD32" stroke-width="1.2"/><rect x="136.5" y="1272.8" width="5.2" height="5.4" fill="#32CD32"/>
<path d="M159.2,1274.7V1287.7" stroke="#32CD32" stroke-width="1.2"/><rect x="156.6" y="1278.5" width="5.2" height="5.4" fill="#32CD32"/>
<path d="M186.5,1269.0V1282.0" stroke="#32CD32" stroke-width="1.2"/><rect x="183.9" y="1272.8" width="5.2" height="5.4" fill="#32CD32"/>
<path d="M212.4,1210.0V1223.0" stroke="#32CD32" stroke-width="1.2"/><rect x="209.8" y="1213.8" width="5.2" height="5.4" fill="#32CD32"/>
<path d="M255.6,1250.3V1263.3" stroke="#32CD32" stroke-width="1.2"/><rect x="253.0" y="1254.1" width="5.2" height="5.4" fill="#32CD32"/>
<path d="M270.5,1237.3V1250.3" stroke="#32CD32" stroke-width="1.2"/><rect x="267.9" y="1241.1" width="5.2" height="5.4" fill="#32CD32"/>
<path d="M281.5,1256.0V1269.0" stroke="#32CD32" stroke-width="1.2"/><rect x="278.9" y="1259.8" width="5.2" height="5.4" fill="#32CD32"/>
<path d="M295.8,1267.5V1280.5" stroke="#32CD32" stroke-width="1.2"/><rect x="293.2" y="1271.3" width="5.2" height="5.4" fill="#32CD32"/>
<path d="M290.1,1261.8V1274.8" stroke="#32CD32" stroke-width="1.2"/><rect x="287.5" y="1265.6" width="5.2" height="5.4" fill="#32CD32"/>
<path d="M307.3,1253.2V1266.2" stroke="#32CD32" stroke-width="1.2"/><rect x="304.7" y="1257.0" width="5.2" height="5.4" fill="#32CD32"/>
<path d="M310.2,1204.3V1217.3" stroke="#32CD32" stroke-width="1.2"/><rect x="307.6" y="1208.1" width="5.2" height="5.4" fill="#32CD32"/>
<path d="M327.5,1253.2V1266.2" stroke="#32CD32" stroke-width="1.2"/><rect x="324.9" y="1257.0" width="5.2" height="5.4" fill="#32CD32"/>
<path d="M344.7,1248.8V1261.8" stroke="#32CD32" stroke-width="1.2"/><rect x="342.1" y="1252.6" width="5.2" height="5.4" fill="#32CD32"/>
<path d="M359.1,1230.1V1243.1" stroke="#32CD32" stroke-width="1.2"/><rect x="356.5" y="1233.9" width="5.2" height="5.4" fill="#32CD32"/>
<path d="M364.9,1215.8V1228.8" stroke="#32CD32" stroke-width="1.2"/><rect x="362.3" y="1219.6" width="5.2" height="5.4" fill="#32CD32"/>
<path d="M373.5,1244.5V1257.5" stroke="#32CD32" stroke-width="1.2"/><rect x="370.9" y="1248.3" width="5.2" height="5.4" fill="#32CD32"/>
<path d="M398.5,1162.6V1175.6" stroke="#32CD32" stroke-width="1.2"/><rect x="395.9" y="1166.4" width="5.2" height="5.4" fill="#32CD32"/>
<path d="M402.3,1238.8V1251.8" stroke="#32CD32" stroke-width="1.2"/><rect x="399.7" y="1242.6" width="5.2" height="5.4" fill="#32CD32"/>
<path d="M422.4,1241.7V1254.7" stroke="#32CD32" stroke-width="1.2"/><rect x="419.8" y="1245.5" width="5.2" height="5.4" fill="#32CD32"/>
<path d="M441.1,1175.5V1188.5" stroke="#32CD32" stroke-width="1.2"/><rect x="438.5" y="1179.3" width="5.2" height="5.4" fill="#32CD32"/>
<line x1="441.1" x2="441.1" y1="1237.0" y2="1262.2" stroke="#32CD32" stroke-width="1.6"/>
<line x1="441.1" x2="441.1" y1="1239.5" y2="1259.7" stroke="#32CD32" stroke-width="5.6"/>
<path d="M439.6,1198.5V1211.5" stroke="#32CD32" stroke-width="1.2"/><rect x="437.0" y="1202.3" width="5.2" height="5.4" fill="#32CD32"/>
<path d="M454.0,1221.5V1234.5" stroke="#32CD32" stroke-width="1.2"/><rect x="451.4" y="1225.3" width="5.2" height="5.4" fill="#32CD32"/>
<line x1="455.5" x2="455.5" y1="1254.3" y2="1279.4" stroke="#32CD32" stroke-width="1.6"/>
<line x1="455.5" x2="455.5" y1="1256.8" y2="1276.9" stroke="#32CD32" stroke-width="5.6"/>
<path d="M464.1,1251.7V1264.7" stroke="#32CD32" stroke-width="1.2"/><rect x="461.5" y="1255.5" width="5.2" height="5.4" fill="#32CD32"/>
<path d="M458.3,1289.1V1302.1" stroke="#32CD32" stroke-width="1.2"/><rect x="455.7" y="1292.9" width="5.2" height="5.4" fill="#32CD32"/>
<line x1="516.7" x2="516.7" y1="1173.7" y2="1204.6" stroke="#32CD32" stroke-width="1.6"/>
<line x1="516.7" x2="516.7" y1="1176.2" y2="1202.1" stroke="#32CD32" stroke-width="5.6"/>
<path d="M163.5,1192.8V1205.8" stroke="#6495ED" stroke-width="1.2"/><rect x="160.9" y="1196.6" width="5.2" height="5.4" fill="#6495ED"/>
<path d="M139.1,1233.0V1246.0" stroke="#6495ED" stroke-width="1.2"/><rect x="136.5" y="1236.8" width="5.2" height="5.4" fill="#6495ED"/>
<path d="M159.2,1258.9V1271.9" stroke="#6495ED" stroke-width="1.2"/><rect x="156.6" y="1262.7" width="5.2" height="5.4" fill="#6495ED"/>
<path d="M186.5,1258.9V1271.9" stroke="#6495ED" stroke-width="1.2"/><rect x="183.9" y="1262.7" width="5.2" height="5.4" fill="#6495ED"/>
<path d="M188.0,1276.2V1289.2" stroke="#6495ED" stroke-width="1.2"/><rect x="185.4" y="1280.0" width="5.2" height="5.4" fill="#6495ED"/>
<path d="M188.0,1290.5V1303.5" stroke="#6495ED" stroke-width="1.2"/><rect x="185.4" y="1294.3" width="5.2" height="5.4" fill="#6495ED"/>
<line x1="255.6" x2="255.6" y1="1182.4" y2="1198.9" stroke="#6495ED" stroke-width="1.6"/>
<line x1="255.6" x2="255.6" y1="1184.9" y2="1196.4" stroke="#6495ED" stroke-width="5.6"/>
<path d="M282.9,1174.1V1187.1" stroke="#6495ED" stroke-width="1.2"/><rect x="280.3" y="1177.9" width="5.2" height="5.4" fill="#6495ED"/>
<path d="M310.2,1178.4V1191.4" stroke="#6495ED" stroke-width="1.2"/><rect x="307.6" y="1182.2" width="5.2" height="5.4" fill="#6495ED"/>
<path d="M298.7,1184.1V1197.1" stroke="#6495ED" stroke-width="1.2"/><rect x="296.1" y="1187.9" width="5.2" height="5.4" fill="#6495ED"/>
<path d="M295.8,1189.9V1202.9" stroke="#6495ED" stroke-width="1.2"/><rect x="293.2" y="1193.7" width="5.2" height="5.4" fill="#6495ED"/>
<path d="M280.0,1198.5V1211.5" stroke="#6495ED" stroke-width="1.2"/><rect x="277.4" y="1202.3" width="5.2" height="5.4" fill="#6495ED"/>
<line x1="255.6" x2="255.6" y1="1265.8" y2="1289.5" stroke="#6495ED" stroke-width="1.6"/>
<line x1="255.6" x2="255.6" y1="1268.3" y2="1287.0" stroke="#6495ED" stroke-width="5.6"/>
<path d="M275.7,1290.5V1303.5" stroke="#6495ED" stroke-width="1.2"/><rect x="273.1" y="1294.3" width="5.2" height="5.4" fill="#6495ED"/>
<path d="M307.3,1224.4V1237.4" stroke="#6495ED" stroke-width="1.2"/><rect x="304.7" y="1228.2" width="5.2" height="5.4" fill="#6495ED"/>
<path d="M308.8,1211.4V1224.4" stroke="#6495ED" stroke-width="1.2"/><rect x="306.2" y="1215.2" width="5.2" height="5.4" fill="#6495ED"/>
<path d="M327.5,1205.7V1218.7" stroke="#6495ED" stroke-width="1.2"/><rect x="324.9" y="1209.5" width="5.2" height="5.4" fill="#6495ED"/>
<path d="M344.7,1198.5V1211.5" stroke="#6495ED" stroke-width="1.2"/><rect x="342.1" y="1202.3" width="5.2" height="5.4" fill="#6495ED"/>
<path d="M359.1,1185.6V1198.6" stroke="#6495ED" stroke-width="1.2"/><rect x="356.5" y="1189.4" width="5.2" height="5.4" fill="#6495ED"/>
<path d="M364.9,1207.1V1220.1" stroke="#6495ED" stroke-width="1.2"/><rect x="362.3" y="1210.9" width="5.2" height="5.4" fill="#6495ED"/>
<path d="M373.5,1211.4V1224.4" stroke="#6495ED" stroke-width="1.2"/><rect x="370.9" y="1215.2" width="5.2" height="5.4" fill="#6495ED"/>
<path d="M364.9,1227.3V1240.3" stroke="#6495ED" stroke-width="1.2"/><rect x="362.3" y="1231.1" width="5.2" height="5.4" fill="#6495ED"/>
<path d="M373.5,1246.0V1259.0" stroke="#6495ED" stroke-width="1.2"/><rect x="370.9" y="1249.8" width="5.2" height="5.4" fill="#6495ED"/>
<path d="M399.4,1233.0V1246.0" stroke="#6495ED" stroke-width="1.2"/><rect x="396.8" y="1236.8" width="5.2" height="5.4" fill="#6495ED"/>
<path d="M402.3,1211.4V1224.4" stroke="#6495ED" stroke-width="1.2"/><rect x="399.7" y="1215.2" width="5.2" height="5.4" fill="#6495ED"/>
<path d="M419.5,1187.0V1200.0" stroke="#6495ED" stroke-width="1.2"/><rect x="416.9" y="1190.8" width="5.2" height="5.4" fill="#6495ED"/>
<path d="M425.3,1189.9V1202.9" stroke="#6495ED" stroke-width="1.2"/><rect x="422.7" y="1193.7" width="5.2" height="5.4" fill="#6495ED"/>
<path d="M439.6,1238.8V1251.8" stroke="#6495ED" stroke-width="1.2"/><rect x="437.0" y="1242.6" width="5.2" height="5.4" fill="#6495ED"/>
<path d="M433.9,1224.4V1237.4" stroke="#6495ED" stroke-width="1.2"/><rect x="431.3" y="1228.2" width="5.2" height="5.4" fill="#6495ED"/>
<path d="M455.5,1178.4V1191.4" stroke="#6495ED" stroke-width="1.2"/><rect x="452.9" y="1182.2" width="5.2" height="5.4" fill="#6495ED"/>
<path d="M464.1,1187.0V1200.0" stroke="#6495ED" stroke-width="1.2"/><rect x="461.5" y="1190.8" width="5.2" height="5.4" fill="#6495ED"/>
<path d="M458.3,1125.2V1138.2" stroke="#6495ED" stroke-width="1.2"/><rect x="455.7" y="1129.0" width="5.2" height="5.4" fill="#6495ED"/>
<path d="M506.4,1169.7V1182.7" stroke="#6495ED" stroke-width="1.2"/><rect x="503.8" y="1173.5" width="5.2" height="5.4" fill="#6495ED"/>
<path d="M516.7,1187.0V1200.0" stroke="#6495ED" stroke-width="1.2"/><rect x="514.1" y="1190.8" width="5.2" height="5.4" fill="#6495ED"/>
<path d="M267.1,1253.2V1266.2" stroke="#6495ED" stroke-width="1.2"/><rect x="264.5" y="1257.0" width="5.2" height="5.4" fill="#6495ED"/>
<path d="M290.1,1253.2V1266.2" stroke="#6495ED" stroke-width="1.2"/><rect x="287.5" y="1257.0" width="5.2" height="5.4" fill="#6495ED"/>
<path d="M125.3,1277.9 L135.3,1277.0 L145.3,1276.1 L155.4,1275.0 L165.4,1274.0 L175.4,1272.8 L185.5,1271.6 L195.5,1270.3 L205.5,1269.0 L215.5,1267.6 L225.6,1266.1 L235.6,1264.6 L245.6,1263.0 L255.7,1261.3 L265.7,1259.6 L275.7,1257.8 L285.8,1255.9 L295.8,1254.0 L305.8,1252.0 L315.8,1249.9 L325.9,1247.8 L335.9,1245.6 L345.9,1243.4 L356.0,1241.1 L366.0,1238.7 L376.0,1236.3 L386.1,1233.8 L396.1,1231.2 L406.1,1228.6 L416.1,1225.9 L426.2,1223.2 L436.2,1220.4 L446.2,1217.5 L456.3,1214.6 L466.3,1211.6 L476.3,1208.5 L486.4,1205.4 L496.4,1202.2 L506.4,1198.9 L516.4,1195.6" fill="none" stroke="#FF8C00" stroke-width="5.3"/>
<path d="M125.3,1272.7 L135.3,1271.8 L145.3,1270.9 L155.4,1270.0 L165.4,1269.0 L175.4,1267.9 L185.5,1266.8 L195.5,1265.6 L205.5,1264.4 L215.5,1263.1 L225.6,1261.8 L235.6,1260.4 L245.6,1259.0 L255.7,1257.6 L265.7,1256.0 L275.7,1254.5 L285.8,1252.9 L295.8,1251.2 L305.8,1249.5 L315.8,1247.8 L325.9,1246.0 L335.9,1244.2 L345.9,1242.3 L356.0,1240.4 L366.0,1238.4 L376.0,1236.5 L386.1,1234.4 L396.1,1232.4 L406.1,1230.3 L416.1,1228.1 L426.2,1226.0 L436.2,1223.8 L446.2,1221.6 L456.3,1219.3 L466.3,1217.0 L476.3,1214.7 L486.4,1212.3 L496.4,1210.0 L506.4,1207.5 L516.4,1205.1" fill="none" stroke="#32CD32" stroke-width="5.3"/>
<path d="M125.3,1238.9 L516.7,1187.7" fill="none" stroke="#6495ED" stroke-width="5.3"/>
</g>
<text x="125.8" y="960.2" font-family='"Liberation Sans", sans-serif' font-weight="bold" font-size="51.8" fill="#000">c</text>
<rect x="106.50" y="903.15" width="429.60" height="414.00" fill="none" stroke="#333" stroke-width="1.8"/>
<line x1="550.20" x2="979.80" y1="1251.64" y2="1251.64" stroke="#EBEBEB" stroke-width="1.07"/><line x1="550.20" x2="979.80" y1="1157.31" y2="1157.31" stroke="#EBEBEB" stroke-width="1.07"/><line x1="550.20" x2="979.80" y1="1062.99" y2="1062.99" stroke="#EBEBEB" stroke-width="1.07"/><line x1="550.20" x2="979.80" y1="968.66" y2="968.66" stroke="#EBEBEB" stroke-width="1.07"/><line y1="903.15" y2="1317.15" x1="629.10" x2="629.10" stroke="#EBEBEB" stroke-width="1.07"/><line y1="903.15" y2="1317.15" x1="749.10" x2="749.10" stroke="#EBEBEB" stroke-width="1.07"/><line y1="903.15" y2="1317.15" x1="869.10" x2="869.10" stroke="#EBEBEB" stroke-width="1.07"/><line x1="550.20" x2="979.80" y1="1298.80" y2="1298.80" stroke="#EBEBEB" stroke-width="2.13"/><line x1="550.20" x2="979.80" y1="1204.47" y2="1204.47" stroke="#EBEBEB" stroke-width="2.13"/><line x1="550.20" x2="979.80" y1="1110.15" y2="1110.15" stroke="#EBEBEB" stroke-width="2.13"/><line x1="550.20" x2="979.80" y1="1015.83" y2="1015.83" stroke="#EBEBEB" stroke-width="2.13"/><line x1="550.20" x2="979.80" y1="921.50" y2="921.50" stroke="#EBEBEB" stroke-width="2.13"/><line y1="903.15" y2="1317.15" x1="569.10" x2="569.10" stroke="#EBEBEB" stroke-width="2.13"/><line y1="903.15" y2="1317.15" x1="689.10" x2="689.10" stroke="#EBEBEB" stroke-width="2.13"/><line y1="903.15" y2="1317.15" x1="809.10" x2="809.10" stroke="#EBEBEB" stroke-width="2.13"/><line y1="903.15" y2="1317.15" x1="929.10" x2="929.10" stroke="#EBEBEB" stroke-width="2.13"/>
<g clip-path="url(#cp21)">
<path d="M569.3,1187.2 L579.3,1188.3 L589.3,1189.3 L599.4,1190.2 L609.4,1191.1 L619.5,1191.8 L629.5,1192.4 L639.5,1193.0 L649.6,1193.5 L659.6,1193.8 L669.6,1194.1 L679.7,1194.3 L689.7,1194.4 L699.8,1194.4 L709.8,1194.3 L719.8,1194.1 L729.9,1193.8 L739.9,1193.5 L749.9,1193.0 L760.0,1192.4 L770.0,1191.8 L780.1,1191.1 L790.1,1190.2 L800.1,1189.3 L810.2,1188.3 L820.2,1187.2 L830.2,1186.0 L840.3,1184.7 L850.3,1183.3 L860.4,1181.8 L870.4,1180.2 L880.4,1178.5 L890.5,1176.8 L900.5,1174.9 L910.5,1173.0 L920.6,1170.9 L930.6,1168.8 L940.7,1166.6 L950.7,1164.3 L960.7,1161.9 L960.7,1203.6 L950.7,1203.5 L940.7,1203.5 L930.6,1203.6 L920.6,1203.6 L910.5,1203.7 L900.5,1203.9 L890.5,1204.1 L880.4,1204.3 L870.4,1204.5 L860.4,1204.8 L850.3,1205.1 L840.3,1205.5 L830.2,1205.9 L820.2,1206.3 L810.2,1206.8 L800.1,1207.3 L790.1,1207.8 L780.1,1208.4 L770.0,1209.0 L760.0,1209.6 L749.9,1210.3 L739.9,1211.0 L729.9,1211.7 L719.8,1212.5 L709.8,1213.3 L699.8,1214.2 L689.7,1215.1 L679.7,1216.0 L669.6,1217.0 L659.6,1218.0 L649.6,1219.0 L639.5,1220.1 L629.5,1221.2 L619.5,1222.3 L609.4,1223.5 L599.4,1224.7 L589.3,1226.0 L579.3,1227.3 L569.3,1228.6Z" fill="#999" fill-opacity="0.3"/>
<path d="M569.3,1252.4 L579.3,1252.7 L589.3,1252.9 L599.4,1252.9 L609.4,1252.7 L619.5,1252.3 L629.5,1251.7 L639.5,1251.0 L649.6,1250.1 L659.6,1249.0 L669.6,1247.9 L679.7,1246.5 L689.7,1245.1 L699.8,1243.5 L709.8,1241.8 L719.8,1239.9 L729.9,1238.0 L739.9,1235.9 L749.9,1233.8 L760.0,1231.5 L770.0,1229.2 L780.1,1226.8 L790.1,1224.3 L800.1,1221.7 L810.2,1219.1 L820.2,1216.4 L830.2,1213.7 L840.3,1210.9 L850.3,1208.1 L860.4,1205.2 L870.4,1202.3 L880.4,1199.4 L890.5,1196.5 L900.5,1193.5 L910.5,1190.6 L920.6,1187.7 L930.6,1184.7 L940.7,1181.8 L950.7,1178.9 L960.7,1176.0 L960.7,1228.5 L950.7,1228.4 L940.7,1228.6 L930.6,1229.0 L920.6,1229.6 L910.5,1230.4 L900.5,1231.4 L890.5,1232.5 L880.4,1233.8 L870.4,1235.3 L860.4,1236.9 L850.3,1238.6 L840.3,1240.4 L830.2,1242.3 L820.2,1244.3 L810.2,1246.3 L800.1,1248.4 L790.1,1250.6 L780.1,1252.8 L770.0,1255.0 L760.0,1257.2 L749.9,1259.4 L739.9,1261.5 L729.9,1263.6 L719.8,1265.7 L709.8,1267.7 L699.8,1269.7 L689.7,1271.5 L679.7,1273.3 L669.6,1274.9 L659.6,1276.4 L649.6,1277.8 L639.5,1279.0 L629.5,1280.1 L619.5,1280.9 L609.4,1281.6 L599.4,1282.1 L589.3,1282.4 L579.3,1282.4 L569.3,1282.2Z" fill="#999" fill-opacity="0.3"/>
<path d="M569.3,1256.7 L579.3,1256.9 L589.3,1257.0 L599.4,1256.9 L609.4,1256.6 L619.5,1256.2 L629.5,1255.6 L639.5,1255.0 L649.6,1254.1 L659.6,1253.2 L669.6,1252.1 L679.7,1251.0 L689.7,1249.7 L699.8,1248.3 L709.8,1246.8 L719.8,1245.2 L729.9,1243.5 L739.9,1241.7 L749.9,1239.8 L760.0,1237.9 L770.0,1235.9 L780.1,1233.8 L790.1,1231.7 L800.1,1229.5 L810.2,1227.2 L820.2,1224.9 L830.2,1222.6 L840.3,1220.2 L850.3,1217.8 L860.4,1215.4 L870.4,1212.9 L880.4,1210.4 L890.5,1207.9 L900.5,1205.4 L910.5,1202.9 L920.6,1200.4 L930.6,1197.9 L940.7,1195.4 L950.7,1192.9 L960.7,1190.4 L960.7,1220.3 L950.7,1220.7 L940.7,1221.3 L930.6,1222.1 L920.6,1223.0 L910.5,1224.2 L900.5,1225.4 L890.5,1226.9 L880.4,1228.4 L870.4,1230.1 L860.4,1231.8 L850.3,1233.7 L840.3,1235.7 L830.2,1237.7 L820.2,1239.8 L810.2,1241.9 L800.1,1244.1 L790.1,1246.3 L780.1,1248.5 L770.0,1250.7 L760.0,1252.9 L749.9,1255.1 L739.9,1257.3 L729.9,1259.4 L719.8,1261.4 L709.8,1263.4 L699.8,1265.3 L689.7,1267.1 L679.7,1268.9 L669.6,1270.5 L659.6,1272.0 L649.6,1273.3 L639.5,1274.5 L629.5,1275.6 L619.5,1276.5 L609.4,1277.2 L599.4,1277.7 L589.3,1278.0 L579.3,1278.0 L569.3,1277.9Z" fill="#999" fill-opacity="0.3"/>
<circle cx="950.4" cy="1174.8" r="14.2" fill="#FF8C00" fill-opacity="0.8"/>
<circle cx="902.3" cy="1151.8" r="14.2" fill="#FF8C00" fill-opacity="0.8"/>
<circle cx="583.1" cy="1279.8" r="14.2" fill="#FF8C00" fill-opacity="0.8"/>
<circle cx="603.2" cy="1276.9" r="14.2" fill="#FF8C00" fill-opacity="0.8"/>
<circle cx="632.0" cy="1274.0" r="14.2" fill="#FF8C00" fill-opacity="0.8"/>
<circle cx="656.4" cy="1183.4" r="14.2" fill="#FF8C00" fill-opacity="0.8"/>
<circle cx="699.6" cy="1256.8" r="14.2" fill="#FF8C00" fill-opacity="0.8"/>
<circle cx="716.8" cy="1252.5" r="14.2" fill="#FF8C00" fill-opacity="0.8"/>
<circle cx="739.8" cy="1272.6" r="14.2" fill="#FF8C00" fill-opacity="0.8"/>
<circle cx="751.3" cy="1265.4" r="14.2" fill="#FF8C00" fill-opacity="0.8"/>
<circle cx="753.6" cy="1215.1" r="14.2" fill="#FF8C00" fill-opacity="0.8"/>
<circle cx="771.5" cy="1259.7" r="14.2" fill="#FF8C00" fill-opacity="0.8"/>
<circle cx="788.7" cy="1252.5" r="14.2" fill="#FF8C00" fill-opacity="0.8"/>
<circle cx="803.1" cy="1262.5" r="14.2" fill="#FF8C00" fill-opacity="0.8"/>
<circle cx="817.5" cy="1264.0" r="14.2" fill="#FF8C00" fill-opacity="0.8"/>
<circle cx="811.7" cy="1252.5" r="14.2" fill="#FF8C00" fill-opacity="0.8"/>
<circle cx="846.3" cy="1264.0" r="14.2" fill="#FF8C00" fill-opacity="0.8"/>
<circle cx="866.4" cy="1259.7" r="14.2" fill="#FF8C00" fill-opacity="0.8"/>
<circle cx="877.9" cy="1253.9" r="14.2" fill="#FF8C00" fill-opacity="0.8"/>
<circle cx="883.6" cy="1248.2" r="14.2" fill="#FF8C00" fill-opacity="0.8"/>
<circle cx="899.5" cy="1207.9" r="14.2" fill="#FF8C00" fill-opacity="0.8"/>
<circle cx="908.1" cy="1239.5" r="14.2" fill="#FF8C00" fill-opacity="0.8"/>
<circle cx="960.7" cy="1215.1" r="14.2" fill="#FF8C00" fill-opacity="0.8"/>
<circle cx="583.1" cy="1275.5" r="14.2" fill="#32CD32" fill-opacity="0.8"/>
<circle cx="603.2" cy="1274.0" r="14.2" fill="#32CD32" fill-opacity="0.8"/>
<circle cx="632.0" cy="1274.0" r="14.2" fill="#32CD32" fill-opacity="0.8"/>
<circle cx="656.4" cy="1183.4" r="14.2" fill="#32CD32" fill-opacity="0.8"/>
<circle cx="699.6" cy="1256.8" r="14.2" fill="#32CD32" fill-opacity="0.8"/>
<circle cx="713.9" cy="1251.0" r="14.2" fill="#32CD32" fill-opacity="0.8"/>
<circle cx="725.5" cy="1264.0" r="14.2" fill="#32CD32" fill-opacity="0.8"/>
<circle cx="739.8" cy="1276.9" r="14.2" fill="#32CD32" fill-opacity="0.8"/>
<circle cx="751.3" cy="1262.5" r="14.2" fill="#32CD32" fill-opacity="0.8"/>
<circle cx="754.2" cy="1189.2" r="14.2" fill="#32CD32" fill-opacity="0.8"/>
<circle cx="771.5" cy="1253.9" r="14.2" fill="#32CD32" fill-opacity="0.8"/>
<circle cx="788.7" cy="1256.8" r="14.2" fill="#32CD32" fill-opacity="0.8"/>
<circle cx="803.1" cy="1205.0" r="14.2" fill="#32CD32" fill-opacity="0.8"/>
<circle cx="811.7" cy="1207.9" r="14.2" fill="#32CD32" fill-opacity="0.8"/>
<circle cx="817.5" cy="1246.7" r="14.2" fill="#32CD32" fill-opacity="0.8"/>
<circle cx="842.5" cy="1153.2" r="14.2" fill="#32CD32" fill-opacity="0.8"/>
<circle cx="846.3" cy="1248.2" r="14.2" fill="#32CD32" fill-opacity="0.8"/>
<circle cx="863.5" cy="1192.1" r="14.2" fill="#32CD32" fill-opacity="0.8"/>
<circle cx="866.4" cy="1253.9" r="14.2" fill="#32CD32" fill-opacity="0.8"/>
<circle cx="877.9" cy="1245.3" r="14.2" fill="#32CD32" fill-opacity="0.8"/>
<circle cx="885.1" cy="1233.8" r="14.2" fill="#32CD32" fill-opacity="0.8"/>
<circle cx="885.1" cy="1207.9" r="14.2" fill="#32CD32" fill-opacity="0.8"/>
<circle cx="895.2" cy="1157.5" r="14.2" fill="#32CD32" fill-opacity="0.8"/>
<circle cx="899.5" cy="1248.2" r="14.2" fill="#32CD32" fill-opacity="0.8"/>
<circle cx="908.1" cy="1241.0" r="14.2" fill="#32CD32" fill-opacity="0.8"/>
<circle cx="902.3" cy="1295.6" r="14.2" fill="#32CD32" fill-opacity="0.8"/>
<circle cx="960.7" cy="1159.0" r="14.2" fill="#32CD32" fill-opacity="0.8"/>
<circle cx="607.5" cy="1171.9" r="14.2" fill="#6495ED" fill-opacity="0.8"/>
<circle cx="583.1" cy="1216.5" r="14.2" fill="#6495ED" fill-opacity="0.8"/>
<circle cx="603.2" cy="1238.1" r="14.2" fill="#6495ED" fill-opacity="0.8"/>
<circle cx="629.1" cy="1229.5" r="14.2" fill="#6495ED" fill-opacity="0.8"/>
<circle cx="632.0" cy="1262.5" r="14.2" fill="#6495ED" fill-opacity="0.8"/>
<circle cx="632.0" cy="1297.0" r="14.2" fill="#6495ED" fill-opacity="0.8"/>
<circle cx="699.6" cy="1156.1" r="14.2" fill="#6495ED" fill-opacity="0.8"/>
<circle cx="716.8" cy="1167.6" r="14.2" fill="#6495ED" fill-opacity="0.8"/>
<circle cx="725.5" cy="1171.9" r="14.2" fill="#6495ED" fill-opacity="0.8"/>
<circle cx="745.6" cy="1156.1" r="14.2" fill="#6495ED" fill-opacity="0.8"/>
<circle cx="753.6" cy="1159.0" r="14.2" fill="#6495ED" fill-opacity="0.8"/>
<circle cx="734.1" cy="1179.1" r="14.2" fill="#6495ED" fill-opacity="0.8"/>
<circle cx="751.3" cy="1186.3" r="14.2" fill="#6495ED" fill-opacity="0.8"/>
<circle cx="714.5" cy="1196.4" r="14.2" fill="#6495ED" fill-opacity="0.8"/>
<circle cx="771.5" cy="1189.2" r="14.2" fill="#6495ED" fill-opacity="0.8"/>
<circle cx="788.7" cy="1203.6" r="14.2" fill="#6495ED" fill-opacity="0.8"/>
<circle cx="802.5" cy="1167.6" r="14.2" fill="#6495ED" fill-opacity="0.8"/>
<circle cx="808.9" cy="1219.4" r="14.2" fill="#6495ED" fill-opacity="0.8"/>
<circle cx="817.5" cy="1222.3" r="14.2" fill="#6495ED" fill-opacity="0.8"/>
<circle cx="846.3" cy="1219.4" r="14.2" fill="#6495ED" fill-opacity="0.8"/>
<circle cx="863.5" cy="1210.8" r="14.2" fill="#6495ED" fill-opacity="0.8"/>
<circle cx="871.3" cy="1169.1" r="14.2" fill="#6495ED" fill-opacity="0.8"/>
<circle cx="875.0" cy="1190.6" r="14.2" fill="#6495ED" fill-opacity="0.8"/>
<circle cx="883.6" cy="1199.3" r="14.2" fill="#6495ED" fill-opacity="0.8"/>
<circle cx="895.2" cy="1197.8" r="14.2" fill="#6495ED" fill-opacity="0.8"/>
<circle cx="900.9" cy="1183.4" r="14.2" fill="#6495ED" fill-opacity="0.8"/>
<circle cx="902.3" cy="1151.8" r="14.2" fill="#6495ED" fill-opacity="0.8"/>
<circle cx="908.1" cy="1169.1" r="14.2" fill="#6495ED" fill-opacity="0.8"/>
<circle cx="883.6" cy="1239.5" r="14.2" fill="#6495ED" fill-opacity="0.8"/>
<circle cx="843.4" cy="1242.4" r="14.2" fill="#6495ED" fill-opacity="0.8"/>
<circle cx="872.1" cy="1225.1" r="14.2" fill="#6495ED" fill-opacity="0.8"/>
<circle cx="699.6" cy="1243.8" r="14.2" fill="#6495ED" fill-opacity="0.8"/>
<circle cx="731.2" cy="1238.1" r="14.2" fill="#6495ED" fill-opacity="0.8"/>
<circle cx="739.8" cy="1238.1" r="14.2" fill="#6495ED" fill-opacity="0.8"/>
<circle cx="753.6" cy="1223.7" r="14.2" fill="#6495ED" fill-opacity="0.8"/>
<circle cx="719.7" cy="1275.5" r="14.2" fill="#6495ED" fill-opacity="0.8"/>
<circle cx="950.4" cy="1174.8" r="14.2" fill="#6495ED" fill-opacity="0.8"/>
<circle cx="960.7" cy="1193.5" r="14.2" fill="#6495ED" fill-opacity="0.8"/>
<circle cx="797.4" cy="1202.1" r="14.2" fill="#6495ED" fill-opacity="0.8"/>
<path d="M950.4,1168.3V1181.3" stroke="#FF8C00" stroke-width="1.2"/><rect x="947.8" y="1172.1" width="5.2" height="5.4" fill="#FF8C00"/>
<path d="M902.3,1145.3V1158.3" stroke="#FF8C00" stroke-width="1.2"/><rect x="899.7" y="1149.1" width="5.2" height="5.4" fill="#FF8C00"/>
<path d="M583.1,1273.3V1286.3" stroke="#FF8C00" stroke-width="1.2"/><rect x="580.5" y="1277.1" width="5.2" height="5.4" fill="#FF8C00"/>
<path d="M603.2,1270.4V1283.4" stroke="#FF8C00" stroke-width="1.2"/><rect x="600.6" y="1274.2" width="5.2" height="5.4" fill="#FF8C00"/>
<path d="M632.0,1267.5V1280.5" stroke="#FF8C00" stroke-width="1.2"/><rect x="629.4" y="1271.3" width="5.2" height="5.4" fill="#FF8C00"/>
<path d="M656.4,1176.9V1189.9" stroke="#FF8C00" stroke-width="1.2"/><rect x="653.8" y="1180.7" width="5.2" height="5.4" fill="#FF8C00"/>
<path d="M699.6,1250.3V1263.3" stroke="#FF8C00" stroke-width="1.2"/><rect x="697.0" y="1254.1" width="5.2" height="5.4" fill="#FF8C00"/>
<path d="M716.8,1246.0V1259.0" stroke="#FF8C00" stroke-width="1.2"/><rect x="714.2" y="1249.8" width="5.2" height="5.4" fill="#FF8C00"/>
<path d="M739.8,1266.1V1279.1" stroke="#FF8C00" stroke-width="1.2"/><rect x="737.2" y="1269.9" width="5.2" height="5.4" fill="#FF8C00"/>
<path d="M751.3,1258.9V1271.9" stroke="#FF8C00" stroke-width="1.2"/><rect x="748.7" y="1262.7" width="5.2" height="5.4" fill="#FF8C00"/>
<path d="M753.6,1208.6V1221.6" stroke="#FF8C00" stroke-width="1.2"/><rect x="751.0" y="1212.4" width="5.2" height="5.4" fill="#FF8C00"/>
<path d="M771.5,1253.2V1266.2" stroke="#FF8C00" stroke-width="1.2"/><rect x="768.9" y="1257.0" width="5.2" height="5.4" fill="#FF8C00"/>
<path d="M788.7,1246.0V1259.0" stroke="#FF8C00" stroke-width="1.2"/><rect x="786.1" y="1249.8" width="5.2" height="5.4" fill="#FF8C00"/>
<path d="M803.1,1256.0V1269.0" stroke="#FF8C00" stroke-width="1.2"/><rect x="800.5" y="1259.8" width="5.2" height="5.4" fill="#FF8C00"/>
<path d="M817.5,1257.5V1270.5" stroke="#FF8C00" stroke-width="1.2"/><rect x="814.9" y="1261.3" width="5.2" height="5.4" fill="#FF8C00"/>
<path d="M811.7,1246.0V1259.0" stroke="#FF8C00" stroke-width="1.2"/><rect x="809.1" y="1249.8" width="5.2" height="5.4" fill="#FF8C00"/>
<path d="M846.3,1257.5V1270.5" stroke="#FF8C00" stroke-width="1.2"/><rect x="843.7" y="1261.3" width="5.2" height="5.4" fill="#FF8C00"/>
<path d="M866.4,1253.2V1266.2" stroke="#FF8C00" stroke-width="1.2"/><rect x="863.8" y="1257.0" width="5.2" height="5.4" fill="#FF8C00"/>
<path d="M877.9,1247.4V1260.4" stroke="#FF8C00" stroke-width="1.2"/><rect x="875.3" y="1251.2" width="5.2" height="5.4" fill="#FF8C00"/>
<path d="M883.6,1241.7V1254.7" stroke="#FF8C00" stroke-width="1.2"/><rect x="881.0" y="1245.5" width="5.2" height="5.4" fill="#FF8C00"/>
<path d="M899.5,1201.4V1214.4" stroke="#FF8C00" stroke-width="1.2"/><rect x="896.9" y="1205.2" width="5.2" height="5.4" fill="#FF8C00"/>
<path d="M908.1,1233.0V1246.0" stroke="#FF8C00" stroke-width="1.2"/><rect x="905.5" y="1236.8" width="5.2" height="5.4" fill="#FF8C00"/>
<path d="M960.7,1208.6V1221.6" stroke="#FF8C00" stroke-width="1.2"/><rect x="958.1" y="1212.4" width="5.2" height="5.4" fill="#FF8C00"/>
<path d="M583.1,1269.0V1282.0" stroke="#32CD32" stroke-width="1.2"/><rect x="580.5" y="1272.8" width="5.2" height="5.4" fill="#32CD32"/>
<path d="M603.2,1267.5V1280.5" stroke="#32CD32" stroke-width="1.2"/><rect x="600.6" y="1271.3" width="5.2" height="5.4" fill="#32CD32"/>
<path d="M632.0,1267.5V1280.5" stroke="#32CD32" stroke-width="1.2"/><rect x="629.4" y="1271.3" width="5.2" height="5.4" fill="#32CD32"/>
<path d="M656.4,1176.9V1189.9" stroke="#32CD32" stroke-width="1.2"/><rect x="653.8" y="1180.7" width="5.2" height="5.4" fill="#32CD32"/>
<path d="M699.6,1250.3V1263.3" stroke="#32CD32" stroke-width="1.2"/><rect x="697.0" y="1254.1" width="5.2" height="5.4" fill="#32CD32"/>
<path d="M713.9,1244.5V1257.5" stroke="#32CD32" stroke-width="1.2"/><rect x="711.3" y="1248.3" width="5.2" height="5.4" fill="#32CD32"/>
<path d="M725.5,1257.5V1270.5" stroke="#32CD32" stroke-width="1.2"/><rect x="722.9" y="1261.3" width="5.2" height="5.4" fill="#32CD32"/>
<path d="M739.8,1270.4V1283.4" stroke="#32CD32" stroke-width="1.2"/><rect x="737.2" y="1274.2" width="5.2" height="5.4" fill="#32CD32"/>
<path d="M751.3,1256.0V1269.0" stroke="#32CD32" stroke-width="1.2"/><rect x="748.7" y="1259.8" width="5.2" height="5.4" fill="#32CD32"/>
<path d="M754.2,1182.7V1195.7" stroke="#32CD32" stroke-width="1.2"/><rect x="751.6" y="1186.5" width="5.2" height="5.4" fill="#32CD32"/>
<path d="M771.5,1247.4V1260.4" stroke="#32CD32" stroke-width="1.2"/><rect x="768.9" y="1251.2" width="5.2" height="5.4" fill="#32CD32"/>
<path d="M788.7,1250.3V1263.3" stroke="#32CD32" stroke-width="1.2"/><rect x="786.1" y="1254.1" width="5.2" height="5.4" fill="#32CD32"/>
<path d="M803.1,1198.5V1211.5" stroke="#32CD32" stroke-width="1.2"/><rect x="800.5" y="1202.3" width="5.2" height="5.4" fill="#32CD32"/>
<path d="M811.7,1201.4V1214.4" stroke="#32CD32" stroke-width="1.2"/><rect x="809.1" y="1205.2" width="5.2" height="5.4" fill="#32CD32"/>
<path d="M817.5,1240.2V1253.2" stroke="#32CD32" stroke-width="1.2"/><rect x="814.9" y="1244.0" width="5.2" height="5.4" fill="#32CD32"/>
<path d="M842.5,1146.7V1159.7" stroke="#32CD32" stroke-width="1.2"/><rect x="839.9" y="1150.5" width="5.2" height="5.4" fill="#32CD32"/>
<path d="M846.3,1241.7V1254.7" stroke="#32CD32" stroke-width="1.2"/><rect x="843.7" y="1245.5" width="5.2" height="5.4" fill="#32CD32"/>
<path d="M863.5,1185.6V1198.6" stroke="#32CD32" stroke-width="1.2"/><rect x="860.9" y="1189.4" width="5.2" height="5.4" fill="#32CD32"/>
<path d="M866.4,1247.4V1260.4" stroke="#32CD32" stroke-width="1.2"/><rect x="863.8" y="1251.2" width="5.2" height="5.4" fill="#32CD32"/>
<path d="M877.9,1238.8V1251.8" stroke="#32CD32" stroke-width="1.2"/><rect x="875.3" y="1242.6" width="5.2" height="5.4" fill="#32CD32"/>
<line x1="885.1" x2="885.1" y1="1222.6" y2="1242.0" stroke="#32CD32" stroke-width="1.6"/>
<line x1="885.1" x2="885.1" y1="1225.1" y2="1239.5" stroke="#32CD32" stroke-width="5.6"/>
<path d="M885.1,1201.4V1214.4" stroke="#32CD32" stroke-width="1.2"/><rect x="882.5" y="1205.2" width="5.2" height="5.4" fill="#32CD32"/>
<line x1="895.2" x2="895.2" y1="1147.9" y2="1167.2" stroke="#32CD32" stroke-width="1.6"/>
<line x1="895.2" x2="895.2" y1="1150.4" y2="1164.7" stroke="#32CD32" stroke-width="5.6"/>
<path d="M899.5,1241.7V1254.7" stroke="#32CD32" stroke-width="1.2"/><rect x="896.9" y="1245.5" width="5.2" height="5.4" fill="#32CD32"/>
<path d="M908.1,1234.5V1247.5" stroke="#32CD32" stroke-width="1.2"/><rect x="905.5" y="1238.3" width="5.2" height="5.4" fill="#32CD32"/>
<path d="M902.3,1289.1V1302.1" stroke="#32CD32" stroke-width="1.2"/><rect x="899.7" y="1292.9" width="5.2" height="5.4" fill="#32CD32"/>
<line x1="960.7" x2="960.7" y1="1142.1" y2="1174.4" stroke="#32CD32" stroke-width="1.6"/>
<line x1="960.7" x2="960.7" y1="1144.6" y2="1171.9" stroke="#32CD32" stroke-width="5.6"/>
<path d="M607.5,1165.4V1178.4" stroke="#6495ED" stroke-width="1.2"/><rect x="604.9" y="1169.2" width="5.2" height="5.4" fill="#6495ED"/>
<path d="M583.1,1210.0V1223.0" stroke="#6495ED" stroke-width="1.2"/><rect x="580.5" y="1213.8" width="5.2" height="5.4" fill="#6495ED"/>
<path d="M603.2,1231.6V1244.6" stroke="#6495ED" stroke-width="1.2"/><rect x="600.6" y="1235.4" width="5.2" height="5.4" fill="#6495ED"/>
<path d="M629.1,1223.0V1236.0" stroke="#6495ED" stroke-width="1.2"/><rect x="626.5" y="1226.8" width="5.2" height="5.4" fill="#6495ED"/>
<path d="M632.0,1256.0V1269.0" stroke="#6495ED" stroke-width="1.2"/><rect x="629.4" y="1259.8" width="5.2" height="5.4" fill="#6495ED"/>
<path d="M632.0,1290.5V1303.5" stroke="#6495ED" stroke-width="1.2"/><rect x="629.4" y="1294.3" width="5.2" height="5.4" fill="#6495ED"/>
<path d="M699.6,1149.6V1162.6" stroke="#6495ED" stroke-width="1.2"/><rect x="697.0" y="1153.4" width="5.2" height="5.4" fill="#6495ED"/>
<path d="M716.8,1161.1V1174.1" stroke="#6495ED" stroke-width="1.2"/><rect x="714.2" y="1164.9" width="5.2" height="5.4" fill="#6495ED"/>
<path d="M725.5,1165.4V1178.4" stroke="#6495ED" stroke-width="1.2"/><rect x="722.9" y="1169.2" width="5.2" height="5.4" fill="#6495ED"/>
<path d="M745.6,1149.6V1162.6" stroke="#6495ED" stroke-width="1.2"/><rect x="743.0" y="1153.4" width="5.2" height="5.4" fill="#6495ED"/>
<path d="M753.6,1152.5V1165.5" stroke="#6495ED" stroke-width="1.2"/><rect x="751.0" y="1156.3" width="5.2" height="5.4" fill="#6495ED"/>
<path d="M734.1,1172.6V1185.6" stroke="#6495ED" stroke-width="1.2"/><rect x="731.5" y="1176.4" width="5.2" height="5.4" fill="#6495ED"/>
<path d="M751.3,1179.8V1192.8" stroke="#6495ED" stroke-width="1.2"/><rect x="748.7" y="1183.6" width="5.2" height="5.4" fill="#6495ED"/>
<path d="M714.5,1189.9V1202.9" stroke="#6495ED" stroke-width="1.2"/><rect x="711.9" y="1193.7" width="5.2" height="5.4" fill="#6495ED"/>
<path d="M771.5,1182.7V1195.7" stroke="#6495ED" stroke-width="1.2"/><rect x="768.9" y="1186.5" width="5.2" height="5.4" fill="#6495ED"/>
<path d="M788.7,1197.1V1210.1" stroke="#6495ED" stroke-width="1.2"/><rect x="786.1" y="1200.9" width="5.2" height="5.4" fill="#6495ED"/>
<path d="M802.5,1161.1V1174.1" stroke="#6495ED" stroke-width="1.2"/><rect x="799.9" y="1164.9" width="5.2" height="5.4" fill="#6495ED"/>
<path d="M808.9,1212.9V1225.9" stroke="#6495ED" stroke-width="1.2"/><rect x="806.3" y="1216.7" width="5.2" height="5.4" fill="#6495ED"/>
<path d="M817.5,1215.8V1228.8" stroke="#6495ED" stroke-width="1.2"/><rect x="814.9" y="1219.6" width="5.2" height="5.4" fill="#6495ED"/>
<path d="M846.3,1212.9V1225.9" stroke="#6495ED" stroke-width="1.2"/><rect x="843.7" y="1216.7" width="5.2" height="5.4" fill="#6495ED"/>
<path d="M863.5,1204.3V1217.3" stroke="#6495ED" stroke-width="1.2"/><rect x="860.9" y="1208.1" width="5.2" height="5.4" fill="#6495ED"/>
<path d="M871.3,1162.6V1175.6" stroke="#6495ED" stroke-width="1.2"/><rect x="868.7" y="1166.4" width="5.2" height="5.4" fill="#6495ED"/>
<path d="M875.0,1184.1V1197.1" stroke="#6495ED" stroke-width="1.2"/><rect x="872.4" y="1187.9" width="5.2" height="5.4" fill="#6495ED"/>
<path d="M883.6,1192.8V1205.8" stroke="#6495ED" stroke-width="1.2"/><rect x="881.0" y="1196.6" width="5.2" height="5.4" fill="#6495ED"/>
<path d="M895.2,1191.3V1204.3" stroke="#6495ED" stroke-width="1.2"/><rect x="892.6" y="1195.1" width="5.2" height="5.4" fill="#6495ED"/>
<path d="M900.9,1176.9V1189.9" stroke="#6495ED" stroke-width="1.2"/><rect x="898.3" y="1180.7" width="5.2" height="5.4" fill="#6495ED"/>
<path d="M902.3,1145.3V1158.3" stroke="#6495ED" stroke-width="1.2"/><rect x="899.7" y="1149.1" width="5.2" height="5.4" fill="#6495ED"/>
<path d="M908.1,1162.6V1175.6" stroke="#6495ED" stroke-width="1.2"/><rect x="905.5" y="1166.4" width="5.2" height="5.4" fill="#6495ED"/>
<path d="M883.6,1233.0V1246.0" stroke="#6495ED" stroke-width="1.2"/><rect x="881.0" y="1236.8" width="5.2" height="5.4" fill="#6495ED"/>
<path d="M843.4,1235.9V1248.9" stroke="#6495ED" stroke-width="1.2"/><rect x="840.8" y="1239.7" width="5.2" height="5.4" fill="#6495ED"/>
<path d="M872.1,1218.6V1231.6" stroke="#6495ED" stroke-width="1.2"/><rect x="869.5" y="1222.4" width="5.2" height="5.4" fill="#6495ED"/>
<path d="M699.6,1237.3V1250.3" stroke="#6495ED" stroke-width="1.2"/><rect x="697.0" y="1241.1" width="5.2" height="5.4" fill="#6495ED"/>
<path d="M731.2,1231.6V1244.6" stroke="#6495ED" stroke-width="1.2"/><rect x="728.6" y="1235.4" width="5.2" height="5.4" fill="#6495ED"/>
<path d="M739.8,1231.6V1244.6" stroke="#6495ED" stroke-width="1.2"/><rect x="737.2" y="1235.4" width="5.2" height="5.4" fill="#6495ED"/>
<path d="M753.6,1217.2V1230.2" stroke="#6495ED" stroke-width="1.2"/><rect x="751.0" y="1221.0" width="5.2" height="5.4" fill="#6495ED"/>
<line x1="719.7" x2="719.7" y1="1262.9" y2="1285.2" stroke="#6495ED" stroke-width="1.6"/>
<line x1="719.7" x2="719.7" y1="1265.4" y2="1282.7" stroke="#6495ED" stroke-width="5.6"/>
<path d="M950.4,1168.3V1181.3" stroke="#6495ED" stroke-width="1.2"/><rect x="947.8" y="1172.1" width="5.2" height="5.4" fill="#6495ED"/>
<path d="M960.7,1187.0V1200.0" stroke="#6495ED" stroke-width="1.2"/><rect x="958.1" y="1190.8" width="5.2" height="5.4" fill="#6495ED"/>
<path d="M797.4,1195.6V1208.6" stroke="#6495ED" stroke-width="1.2"/><rect x="794.8" y="1199.4" width="5.2" height="5.4" fill="#6495ED"/>
<path d="M569.3,1274.0 L579.3,1273.1 L589.3,1272.1 L599.4,1271.1 L609.4,1270.1 L619.5,1269.1 L629.5,1268.1 L639.5,1267.0 L649.6,1265.8 L659.6,1264.7 L669.6,1263.5 L679.7,1262.3 L689.7,1261.0 L699.8,1259.7 L709.8,1258.4 L719.8,1257.0 L729.9,1255.6 L739.9,1254.1 L749.9,1252.5 L760.0,1251.0 L770.0,1249.3 L780.1,1247.7 L790.1,1245.9 L800.1,1244.1 L810.2,1242.3 L820.2,1240.4 L830.2,1238.4 L840.3,1236.4 L850.3,1234.3 L860.4,1232.1 L870.4,1229.8 L880.4,1227.5 L890.5,1225.2 L900.5,1222.7 L910.5,1220.2 L920.6,1217.6 L930.6,1214.9 L940.7,1212.1 L950.7,1209.3 L960.7,1206.4" fill="none" stroke="#FF8C00" stroke-width="5.3"/>
<path d="M569.3,1270.5 L579.3,1270.0 L589.3,1269.4 L599.4,1268.7 L609.4,1267.8 L619.5,1266.7 L629.5,1265.5 L639.5,1264.2 L649.6,1262.7 L659.6,1261.1 L669.6,1259.4 L679.7,1257.5 L689.7,1255.6 L699.8,1253.6 L709.8,1251.4 L719.8,1249.2 L729.9,1246.9 L739.9,1244.5 L749.9,1242.1 L760.0,1239.6 L770.0,1237.0 L780.1,1234.4 L790.1,1231.8 L800.1,1229.1 L810.2,1226.3 L820.2,1223.6 L830.2,1220.8 L840.3,1218.1 L850.3,1215.3 L860.4,1212.5 L870.4,1209.7 L880.4,1207.0 L890.5,1204.2 L900.5,1201.5 L910.5,1198.8 L920.6,1196.2 L930.6,1193.5 L940.7,1191.0 L950.7,1188.5 L960.7,1186.1" fill="none" stroke="#32CD32" stroke-width="5.3"/>
<path d="M569.3,1210.8 L960.7,1192.1" fill="none" stroke="#6495ED" stroke-width="5.3"/>
</g>
<text x="569.5" y="960.2" font-family='"Liberation Sans", sans-serif' font-weight="bold" font-size="51.8" fill="#000">f</text>
<rect x="550.20" y="903.15" width="429.60" height="414.00" fill="none" stroke="#333" stroke-width="1.8"/>
<line x1="994.10" x2="1423.70" y1="1251.64" y2="1251.64" stroke="#EBEBEB" stroke-width="1.07"/><line x1="994.10" x2="1423.70" y1="1157.31" y2="1157.31" stroke="#EBEBEB" stroke-width="1.07"/><line x1="994.10" x2="1423.70" y1="1062.99" y2="1062.99" stroke="#EBEBEB" stroke-width="1.07"/><line x1="994.10" x2="1423.70" y1="968.66" y2="968.66" stroke="#EBEBEB" stroke-width="1.07"/><line y1="903.15" y2="1317.15" x1="1073.00" x2="1073.00" stroke="#EBEBEB" stroke-width="1.07"/><line y1="903.15" y2="1317.15" x1="1193.00" x2="1193.00" stroke="#EBEBEB" stroke-width="1.07"/><line y1="903.15" y2="1317.15" x1="1313.00" x2="1313.00" stroke="#EBEBEB" stroke-width="1.07"/><line x1="994.10" x2="1423.70" y1="1298.80" y2="1298.80" stroke="#EBEBEB" stroke-width="2.13"/><line x1="994.10" x2="1423.70" y1="1204.47" y2="1204.47" stroke="#EBEBEB" stroke-width="2.13"/><line x1="994.10" x2="1423.70" y1="1110.15" y2="1110.15" stroke="#EBEBEB" stroke-width="2.13"/><line x1="994.10" x2="1423.70" y1="1015.83" y2="1015.83" stroke="#EBEBEB" stroke-width="2.13"/><line x1="994.10" x2="1423.70" y1="921.50" y2="921.50" stroke="#EBEBEB" stroke-width="2.13"/><line y1="903.15" y2="1317.15" x1="1013.00" x2="1013.00" stroke="#EBEBEB" stroke-width="2.13"/><line y1="903.15" y2="1317.15" x1="1133.00" x2="1133.00" stroke="#EBEBEB" stroke-width="2.13"/><line y1="903.15" y2="1317.15" x1="1253.00" x2="1253.00" stroke="#EBEBEB" stroke-width="2.13"/><line y1="903.15" y2="1317.15" x1="1373.00" x2="1373.00" stroke="#EBEBEB" stroke-width="2.13"/>
<g clip-path="url(#cp22)">
<path d="M1013.3,1147.5 L1023.3,1150.2 L1033.3,1152.9 L1043.4,1155.5 L1053.4,1158.0 L1063.5,1160.4 L1073.5,1162.7 L1083.5,1164.9 L1093.6,1167.0 L1103.6,1169.1 L1113.6,1171.0 L1123.7,1172.9 L1133.7,1174.6 L1143.8,1176.3 L1153.8,1177.9 L1163.8,1179.4 L1173.9,1180.8 L1183.9,1182.1 L1193.9,1183.3 L1204.0,1184.4 L1214.0,1185.4 L1224.1,1186.4 L1234.1,1187.2 L1244.1,1188.0 L1254.2,1188.6 L1264.2,1189.2 L1274.2,1189.7 L1284.3,1190.1 L1294.3,1190.4 L1304.4,1190.6 L1314.4,1190.7 L1324.4,1190.8 L1334.5,1190.7 L1344.5,1190.6 L1354.5,1190.3 L1364.6,1190.0 L1374.6,1189.6 L1384.7,1189.1 L1394.7,1188.4 L1404.7,1187.7 L1404.7,1230.9 L1394.7,1229.1 L1384.7,1227.5 L1374.6,1225.9 L1364.6,1224.3 L1354.5,1222.8 L1344.5,1221.4 L1334.5,1220.0 L1324.4,1218.7 L1314.4,1217.5 L1304.4,1216.3 L1294.3,1215.3 L1284.3,1214.2 L1274.2,1213.2 L1264.2,1212.3 L1254.2,1211.5 L1244.1,1210.7 L1234.1,1210.0 L1224.1,1209.4 L1214.0,1208.8 L1204.0,1208.3 L1193.9,1207.8 L1183.9,1207.4 L1173.9,1207.1 L1163.8,1206.9 L1153.8,1206.7 L1143.8,1206.5 L1133.7,1206.5 L1123.7,1206.5 L1113.6,1206.5 L1103.6,1206.7 L1093.6,1206.9 L1083.5,1207.1 L1073.5,1207.5 L1063.5,1207.8 L1053.4,1208.3 L1043.4,1208.8 L1033.3,1209.4 L1023.3,1210.0 L1013.3,1210.8Z" fill="#999" fill-opacity="0.3"/>
<path d="M1013.3,1272.5 L1023.3,1270.9 L1033.3,1269.3 L1043.4,1267.8 L1053.4,1266.4 L1063.5,1264.9 L1073.5,1263.5 L1083.5,1262.1 L1093.6,1260.6 L1103.6,1259.1 L1113.6,1257.6 L1123.7,1256.0 L1133.7,1254.4 L1143.8,1252.7 L1153.8,1250.8 L1163.8,1248.9 L1173.9,1246.9 L1183.9,1244.8 L1193.9,1242.5 L1204.0,1240.0 L1214.0,1237.4 L1224.1,1234.6 L1234.1,1231.7 L1244.1,1228.5 L1254.2,1225.2 L1264.2,1221.6 L1274.2,1217.7 L1284.3,1213.7 L1294.3,1209.3 L1304.4,1204.7 L1314.4,1199.8 L1324.4,1194.6 L1334.5,1189.2 L1344.5,1183.3 L1354.5,1177.2 L1364.6,1170.7 L1374.6,1163.9 L1384.7,1156.7 L1394.7,1149.1 L1404.7,1141.1 L1404.7,1190.0 L1394.7,1193.3 L1384.7,1196.6 L1374.6,1199.9 L1364.6,1203.1 L1354.5,1206.3 L1344.5,1209.4 L1334.5,1212.6 L1324.4,1215.7 L1314.4,1218.7 L1304.4,1221.7 L1294.3,1224.7 L1284.3,1227.6 L1274.2,1230.5 L1264.2,1233.4 L1254.2,1236.2 L1244.1,1238.9 L1234.1,1241.6 L1224.1,1244.2 L1214.0,1246.8 L1204.0,1249.3 L1193.9,1251.8 L1183.9,1254.2 L1173.9,1256.5 L1163.8,1258.8 L1153.8,1261.0 L1143.8,1263.1 L1133.7,1265.2 L1123.7,1267.1 L1113.6,1269.1 L1103.6,1270.9 L1093.6,1272.6 L1083.5,1274.3 L1073.5,1275.9 L1063.5,1277.4 L1053.4,1278.8 L1043.4,1280.1 L1033.3,1281.3 L1023.3,1282.5 L1013.3,1283.5Z" fill="#999" fill-opacity="0.3"/>
<path d="M1013.3,1276.8 L1023.3,1276.3 L1033.3,1275.6 L1043.4,1274.9 L1053.4,1274.2 L1063.5,1273.4 L1073.5,1272.5 L1083.5,1271.5 L1093.6,1270.5 L1103.6,1269.4 L1113.6,1268.2 L1123.7,1267.0 L1133.7,1265.7 L1143.8,1264.3 L1153.8,1262.9 L1163.8,1261.4 L1173.9,1259.8 L1183.9,1258.2 L1193.9,1256.4 L1204.0,1254.7 L1214.0,1252.8 L1224.1,1250.9 L1234.1,1248.9 L1244.1,1246.9 L1254.2,1244.8 L1264.2,1242.6 L1274.2,1240.3 L1284.3,1238.0 L1294.3,1235.6 L1304.4,1233.2 L1314.4,1230.7 L1324.4,1228.1 L1334.5,1225.4 L1344.5,1222.7 L1354.5,1219.9 L1364.6,1217.1 L1374.6,1214.2 L1384.7,1211.2 L1394.7,1208.2 L1404.7,1205.1 L1404.7,1227.6 L1394.7,1229.3 L1384.7,1231.1 L1374.6,1233.0 L1364.6,1234.8 L1354.5,1236.7 L1344.5,1238.5 L1334.5,1240.4 L1324.4,1242.3 L1314.4,1244.1 L1304.4,1246.0 L1294.3,1247.9 L1284.3,1249.7 L1274.2,1251.6 L1264.2,1253.4 L1254.2,1255.2 L1244.1,1257.0 L1234.1,1258.8 L1224.1,1260.5 L1214.0,1262.2 L1204.0,1263.9 L1193.9,1265.5 L1183.9,1267.1 L1173.9,1268.7 L1163.8,1270.2 L1153.8,1271.7 L1143.8,1273.1 L1133.7,1274.4 L1123.7,1275.7 L1113.6,1277.0 L1103.6,1278.2 L1093.6,1279.3 L1083.5,1280.3 L1073.5,1281.3 L1063.5,1282.2 L1053.4,1283.0 L1043.4,1283.7 L1033.3,1284.3 L1023.3,1284.9 L1013.3,1285.4Z" fill="#999" fill-opacity="0.3"/>
<circle cx="1027.1" cy="1282.7" r="14.2" fill="#FF8C00" fill-opacity="0.8"/>
<circle cx="1047.2" cy="1275.5" r="14.2" fill="#FF8C00" fill-opacity="0.8"/>
<circle cx="1051.5" cy="1274.0" r="14.2" fill="#FF8C00" fill-opacity="0.8"/>
<circle cx="1076.0" cy="1282.7" r="14.2" fill="#FF8C00" fill-opacity="0.8"/>
<circle cx="1143.6" cy="1252.5" r="14.2" fill="#FF8C00" fill-opacity="0.8"/>
<circle cx="1160.8" cy="1265.4" r="14.2" fill="#FF8C00" fill-opacity="0.8"/>
<circle cx="1183.8" cy="1274.0" r="14.2" fill="#FF8C00" fill-opacity="0.8"/>
<circle cx="1195.3" cy="1268.3" r="14.2" fill="#FF8C00" fill-opacity="0.8"/>
<circle cx="1198.2" cy="1232.3" r="14.2" fill="#FF8C00" fill-opacity="0.8"/>
<circle cx="1215.5" cy="1261.1" r="14.2" fill="#FF8C00" fill-opacity="0.8"/>
<circle cx="1232.7" cy="1259.7" r="14.2" fill="#FF8C00" fill-opacity="0.8"/>
<circle cx="1247.1" cy="1268.3" r="14.2" fill="#FF8C00" fill-opacity="0.8"/>
<circle cx="1261.5" cy="1261.1" r="14.2" fill="#FF8C00" fill-opacity="0.8"/>
<circle cx="1286.5" cy="1252.5" r="14.2" fill="#FF8C00" fill-opacity="0.8"/>
<circle cx="1287.4" cy="1269.7" r="14.2" fill="#FF8C00" fill-opacity="0.8"/>
<circle cx="1310.4" cy="1274.0" r="14.2" fill="#FF8C00" fill-opacity="0.8"/>
<circle cx="1327.6" cy="1256.8" r="14.2" fill="#FF8C00" fill-opacity="0.8"/>
<circle cx="1339.2" cy="1228.0" r="14.2" fill="#FF8C00" fill-opacity="0.8"/>
<circle cx="1352.1" cy="1238.1" r="14.2" fill="#FF8C00" fill-opacity="0.8"/>
<circle cx="1343.5" cy="1248.2" r="14.2" fill="#FF8C00" fill-opacity="0.8"/>
<circle cx="1404.7" cy="1219.4" r="14.2" fill="#FF8C00" fill-opacity="0.8"/>
<circle cx="1394.4" cy="1174.8" r="14.2" fill="#FF8C00" fill-opacity="0.8"/>
<circle cx="1027.1" cy="1276.9" r="14.2" fill="#32CD32" fill-opacity="0.8"/>
<circle cx="1047.2" cy="1274.0" r="14.2" fill="#32CD32" fill-opacity="0.8"/>
<circle cx="1051.5" cy="1274.0" r="14.2" fill="#32CD32" fill-opacity="0.8"/>
<circle cx="1076.0" cy="1282.7" r="14.2" fill="#32CD32" fill-opacity="0.8"/>
<circle cx="1143.6" cy="1251.0" r="14.2" fill="#32CD32" fill-opacity="0.8"/>
<circle cx="1143.6" cy="1268.3" r="14.2" fill="#32CD32" fill-opacity="0.8"/>
<circle cx="1162.3" cy="1269.7" r="14.2" fill="#32CD32" fill-opacity="0.8"/>
<circle cx="1166.6" cy="1262.5" r="14.2" fill="#32CD32" fill-opacity="0.8"/>
<circle cx="1183.8" cy="1276.9" r="14.2" fill="#32CD32" fill-opacity="0.8"/>
<circle cx="1195.3" cy="1262.5" r="14.2" fill="#32CD32" fill-opacity="0.8"/>
<circle cx="1198.2" cy="1199.3" r="14.2" fill="#32CD32" fill-opacity="0.8"/>
<circle cx="1215.5" cy="1256.8" r="14.2" fill="#32CD32" fill-opacity="0.8"/>
<circle cx="1232.7" cy="1264.0" r="14.2" fill="#32CD32" fill-opacity="0.8"/>
<circle cx="1246.5" cy="1183.4" r="14.2" fill="#32CD32" fill-opacity="0.8"/>
<circle cx="1252.9" cy="1209.3" r="14.2" fill="#32CD32" fill-opacity="0.8"/>
<circle cx="1261.5" cy="1242.4" r="14.2" fill="#32CD32" fill-opacity="0.8"/>
<circle cx="1286.5" cy="1151.8" r="14.2" fill="#32CD32" fill-opacity="0.8"/>
<circle cx="1307.5" cy="1200.7" r="14.2" fill="#32CD32" fill-opacity="0.8"/>
<circle cx="1310.4" cy="1271.2" r="14.2" fill="#32CD32" fill-opacity="0.8"/>
<circle cx="1327.6" cy="1202.1" r="14.2" fill="#32CD32" fill-opacity="0.8"/>
<circle cx="1330.5" cy="1222.3" r="14.2" fill="#32CD32" fill-opacity="0.8"/>
<circle cx="1339.2" cy="1110.1" r="14.2" fill="#32CD32" fill-opacity="0.8"/>
<circle cx="1352.1" cy="1242.4" r="14.2" fill="#32CD32" fill-opacity="0.8"/>
<circle cx="1346.3" cy="1262.5" r="14.2" fill="#32CD32" fill-opacity="0.8"/>
<circle cx="1404.7" cy="1135.4" r="14.2" fill="#32CD32" fill-opacity="0.8"/>
<circle cx="1027.1" cy="1206.4" r="14.2" fill="#6495ED" fill-opacity="0.8"/>
<circle cx="1051.5" cy="1206.4" r="14.2" fill="#6495ED" fill-opacity="0.8"/>
<circle cx="1076.0" cy="1206.4" r="14.2" fill="#6495ED" fill-opacity="0.8"/>
<circle cx="1046.3" cy="1230.9" r="14.2" fill="#6495ED" fill-opacity="0.8"/>
<circle cx="1143.6" cy="1094.3" r="14.2" fill="#6495ED" fill-opacity="0.8"/>
<circle cx="1160.8" cy="1115.8" r="14.2" fill="#6495ED" fill-opacity="0.8"/>
<circle cx="1189.6" cy="1110.1" r="14.2" fill="#6495ED" fill-opacity="0.8"/>
<circle cx="1170.9" cy="1163.3" r="14.2" fill="#6495ED" fill-opacity="0.8"/>
<circle cx="1169.5" cy="1164.7" r="14.2" fill="#6495ED" fill-opacity="0.8"/>
<circle cx="1195.3" cy="1163.3" r="14.2" fill="#6495ED" fill-opacity="0.8"/>
<circle cx="1196.8" cy="1183.4" r="14.2" fill="#6495ED" fill-opacity="0.8"/>
<circle cx="1215.5" cy="1192.1" r="14.2" fill="#6495ED" fill-opacity="0.8"/>
<circle cx="1183.8" cy="1200.7" r="14.2" fill="#6495ED" fill-opacity="0.8"/>
<circle cx="1189.6" cy="1199.3" r="14.2" fill="#6495ED" fill-opacity="0.8"/>
<circle cx="1143.6" cy="1209.3" r="14.2" fill="#6495ED" fill-opacity="0.8"/>
<circle cx="1162.3" cy="1222.3" r="14.2" fill="#6495ED" fill-opacity="0.8"/>
<circle cx="1175.2" cy="1235.2" r="14.2" fill="#6495ED" fill-opacity="0.8"/>
<circle cx="1183.8" cy="1233.8" r="14.2" fill="#6495ED" fill-opacity="0.8"/>
<circle cx="1195.3" cy="1228.0" r="14.2" fill="#6495ED" fill-opacity="0.8"/>
<circle cx="1232.2" cy="1242.4" r="14.2" fill="#6495ED" fill-opacity="0.8"/>
<circle cx="1246.5" cy="1161.9" r="14.2" fill="#6495ED" fill-opacity="0.8"/>
<circle cx="1252.9" cy="1222.3" r="14.2" fill="#6495ED" fill-opacity="0.8"/>
<circle cx="1264.4" cy="1210.8" r="14.2" fill="#6495ED" fill-opacity="0.8"/>
<circle cx="1261.5" cy="1239.5" r="14.2" fill="#6495ED" fill-opacity="0.8"/>
<circle cx="1290.3" cy="1228.0" r="14.2" fill="#6495ED" fill-opacity="0.8"/>
<circle cx="1290.3" cy="1239.5" r="14.2" fill="#6495ED" fill-opacity="0.8"/>
<circle cx="1315.3" cy="1174.8" r="14.2" fill="#6495ED" fill-opacity="0.8"/>
<circle cx="1329.1" cy="1183.4" r="14.2" fill="#6495ED" fill-opacity="0.8"/>
<circle cx="1327.6" cy="1205.0" r="14.2" fill="#6495ED" fill-opacity="0.8"/>
<circle cx="1310.4" cy="1233.8" r="14.2" fill="#6495ED" fill-opacity="0.8"/>
<circle cx="1310.4" cy="1262.5" r="14.2" fill="#6495ED" fill-opacity="0.8"/>
<circle cx="1327.6" cy="1248.2" r="14.2" fill="#6495ED" fill-opacity="0.8"/>
<circle cx="1342.0" cy="1213.6" r="14.2" fill="#6495ED" fill-opacity="0.8"/>
<circle cx="1352.1" cy="1167.6" r="14.2" fill="#6495ED" fill-opacity="0.8"/>
<circle cx="1344.9" cy="1183.4" r="14.2" fill="#6495ED" fill-opacity="0.8"/>
<circle cx="1339.2" cy="1246.7" r="14.2" fill="#6495ED" fill-opacity="0.8"/>
<circle cx="1394.4" cy="1174.8" r="14.2" fill="#6495ED" fill-opacity="0.8"/>
<circle cx="1404.7" cy="1205.0" r="14.2" fill="#6495ED" fill-opacity="0.8"/>
<path d="M1027.1,1276.2V1289.2" stroke="#FF8C00" stroke-width="1.2"/><rect x="1024.5" y="1280.0" width="5.2" height="5.4" fill="#FF8C00"/>
<path d="M1047.2,1269.0V1282.0" stroke="#FF8C00" stroke-width="1.2"/><rect x="1044.6" y="1272.8" width="5.2" height="5.4" fill="#FF8C00"/>
<path d="M1051.5,1267.5V1280.5" stroke="#FF8C00" stroke-width="1.2"/><rect x="1048.9" y="1271.3" width="5.2" height="5.4" fill="#FF8C00"/>
<path d="M1076.0,1276.2V1289.2" stroke="#FF8C00" stroke-width="1.2"/><rect x="1073.4" y="1280.0" width="5.2" height="5.4" fill="#FF8C00"/>
<path d="M1143.6,1246.0V1259.0" stroke="#FF8C00" stroke-width="1.2"/><rect x="1141.0" y="1249.8" width="5.2" height="5.4" fill="#FF8C00"/>
<path d="M1160.8,1258.9V1271.9" stroke="#FF8C00" stroke-width="1.2"/><rect x="1158.2" y="1262.7" width="5.2" height="5.4" fill="#FF8C00"/>
<path d="M1183.8,1267.5V1280.5" stroke="#FF8C00" stroke-width="1.2"/><rect x="1181.2" y="1271.3" width="5.2" height="5.4" fill="#FF8C00"/>
<path d="M1195.3,1261.8V1274.8" stroke="#FF8C00" stroke-width="1.2"/><rect x="1192.7" y="1265.6" width="5.2" height="5.4" fill="#FF8C00"/>
<path d="M1198.2,1225.8V1238.8" stroke="#FF8C00" stroke-width="1.2"/><rect x="1195.6" y="1229.6" width="5.2" height="5.4" fill="#FF8C00"/>
<path d="M1215.5,1254.6V1267.6" stroke="#FF8C00" stroke-width="1.2"/><rect x="1212.9" y="1258.4" width="5.2" height="5.4" fill="#FF8C00"/>
<path d="M1232.7,1253.2V1266.2" stroke="#FF8C00" stroke-width="1.2"/><rect x="1230.1" y="1257.0" width="5.2" height="5.4" fill="#FF8C00"/>
<path d="M1247.1,1261.8V1274.8" stroke="#FF8C00" stroke-width="1.2"/><rect x="1244.5" y="1265.6" width="5.2" height="5.4" fill="#FF8C00"/>
<path d="M1261.5,1254.6V1267.6" stroke="#FF8C00" stroke-width="1.2"/><rect x="1258.9" y="1258.4" width="5.2" height="5.4" fill="#FF8C00"/>
<path d="M1286.5,1246.0V1259.0" stroke="#FF8C00" stroke-width="1.2"/><rect x="1283.9" y="1249.8" width="5.2" height="5.4" fill="#FF8C00"/>
<path d="M1287.4,1263.2V1276.2" stroke="#FF8C00" stroke-width="1.2"/><rect x="1284.8" y="1267.0" width="5.2" height="5.4" fill="#FF8C00"/>
<path d="M1310.4,1267.5V1280.5" stroke="#FF8C00" stroke-width="1.2"/><rect x="1307.8" y="1271.3" width="5.2" height="5.4" fill="#FF8C00"/>
<path d="M1327.6,1250.3V1263.3" stroke="#FF8C00" stroke-width="1.2"/><rect x="1325.0" y="1254.1" width="5.2" height="5.4" fill="#FF8C00"/>
<path d="M1339.2,1221.5V1234.5" stroke="#FF8C00" stroke-width="1.2"/><rect x="1336.6" y="1225.3" width="5.2" height="5.4" fill="#FF8C00"/>
<path d="M1352.1,1231.6V1244.6" stroke="#FF8C00" stroke-width="1.2"/><rect x="1349.5" y="1235.4" width="5.2" height="5.4" fill="#FF8C00"/>
<path d="M1343.5,1241.7V1254.7" stroke="#FF8C00" stroke-width="1.2"/><rect x="1340.9" y="1245.5" width="5.2" height="5.4" fill="#FF8C00"/>
<path d="M1404.7,1212.9V1225.9" stroke="#FF8C00" stroke-width="1.2"/><rect x="1402.1" y="1216.7" width="5.2" height="5.4" fill="#FF8C00"/>
<path d="M1394.4,1168.3V1181.3" stroke="#FF8C00" stroke-width="1.2"/><rect x="1391.8" y="1172.1" width="5.2" height="5.4" fill="#FF8C00"/>
<path d="M1027.1,1270.4V1283.4" stroke="#32CD32" stroke-width="1.2"/><rect x="1024.5" y="1274.2" width="5.2" height="5.4" fill="#32CD32"/>
<path d="M1047.2,1267.5V1280.5" stroke="#32CD32" stroke-width="1.2"/><rect x="1044.6" y="1271.3" width="5.2" height="5.4" fill="#32CD32"/>
<path d="M1051.5,1267.5V1280.5" stroke="#32CD32" stroke-width="1.2"/><rect x="1048.9" y="1271.3" width="5.2" height="5.4" fill="#32CD32"/>
<path d="M1076.0,1276.2V1289.2" stroke="#32CD32" stroke-width="1.2"/><rect x="1073.4" y="1280.0" width="5.2" height="5.4" fill="#32CD32"/>
<path d="M1143.6,1244.5V1257.5" stroke="#32CD32" stroke-width="1.2"/><rect x="1141.0" y="1248.3" width="5.2" height="5.4" fill="#32CD32"/>
<path d="M1143.6,1261.8V1274.8" stroke="#32CD32" stroke-width="1.2"/><rect x="1141.0" y="1265.6" width="5.2" height="5.4" fill="#32CD32"/>
<path d="M1162.3,1263.2V1276.2" stroke="#32CD32" stroke-width="1.2"/><rect x="1159.7" y="1267.0" width="5.2" height="5.4" fill="#32CD32"/>
<path d="M1166.6,1256.0V1269.0" stroke="#32CD32" stroke-width="1.2"/><rect x="1164.0" y="1259.8" width="5.2" height="5.4" fill="#32CD32"/>
<path d="M1183.8,1270.4V1283.4" stroke="#32CD32" stroke-width="1.2"/><rect x="1181.2" y="1274.2" width="5.2" height="5.4" fill="#32CD32"/>
<path d="M1195.3,1256.0V1269.0" stroke="#32CD32" stroke-width="1.2"/><rect x="1192.7" y="1259.8" width="5.2" height="5.4" fill="#32CD32"/>
<path d="M1198.2,1192.8V1205.8" stroke="#32CD32" stroke-width="1.2"/><rect x="1195.6" y="1196.6" width="5.2" height="5.4" fill="#32CD32"/>
<path d="M1215.5,1250.3V1263.3" stroke="#32CD32" stroke-width="1.2"/><rect x="1212.9" y="1254.1" width="5.2" height="5.4" fill="#32CD32"/>
<path d="M1232.7,1257.5V1270.5" stroke="#32CD32" stroke-width="1.2"/><rect x="1230.1" y="1261.3" width="5.2" height="5.4" fill="#32CD32"/>
<path d="M1246.5,1176.9V1189.9" stroke="#32CD32" stroke-width="1.2"/><rect x="1243.9" y="1180.7" width="5.2" height="5.4" fill="#32CD32"/>
<path d="M1252.9,1202.8V1215.8" stroke="#32CD32" stroke-width="1.2"/><rect x="1250.3" y="1206.6" width="5.2" height="5.4" fill="#32CD32"/>
<path d="M1261.5,1235.9V1248.9" stroke="#32CD32" stroke-width="1.2"/><rect x="1258.9" y="1239.7" width="5.2" height="5.4" fill="#32CD32"/>
<path d="M1286.5,1145.3V1158.3" stroke="#32CD32" stroke-width="1.2"/><rect x="1283.9" y="1149.1" width="5.2" height="5.4" fill="#32CD32"/>
<path d="M1307.5,1194.2V1207.2" stroke="#32CD32" stroke-width="1.2"/><rect x="1304.9" y="1198.0" width="5.2" height="5.4" fill="#32CD32"/>
<path d="M1310.4,1264.7V1277.7" stroke="#32CD32" stroke-width="1.2"/><rect x="1307.8" y="1268.5" width="5.2" height="5.4" fill="#32CD32"/>
<path d="M1327.6,1195.6V1208.6" stroke="#32CD32" stroke-width="1.2"/><rect x="1325.0" y="1199.4" width="5.2" height="5.4" fill="#32CD32"/>
<path d="M1330.5,1215.8V1228.8" stroke="#32CD32" stroke-width="1.2"/><rect x="1327.9" y="1219.6" width="5.2" height="5.4" fill="#32CD32"/>
<path d="M1339.2,1103.6V1116.6" stroke="#32CD32" stroke-width="1.2"/><rect x="1336.6" y="1107.4" width="5.2" height="5.4" fill="#32CD32"/>
<path d="M1352.1,1235.9V1248.9" stroke="#32CD32" stroke-width="1.2"/><rect x="1349.5" y="1239.7" width="5.2" height="5.4" fill="#32CD32"/>
<line x1="1346.3" x2="1346.3" y1="1248.5" y2="1273.7" stroke="#32CD32" stroke-width="1.6"/>
<line x1="1346.3" x2="1346.3" y1="1251.0" y2="1271.2" stroke="#32CD32" stroke-width="5.6"/>
<path d="M1404.7,1128.9V1141.9" stroke="#32CD32" stroke-width="1.2"/><rect x="1402.1" y="1132.7" width="5.2" height="5.4" fill="#32CD32"/>
<path d="M1027.1,1199.9V1212.9" stroke="#6495ED" stroke-width="1.2"/><rect x="1024.5" y="1203.7" width="5.2" height="5.4" fill="#6495ED"/>
<path d="M1051.5,1199.9V1212.9" stroke="#6495ED" stroke-width="1.2"/><rect x="1048.9" y="1203.7" width="5.2" height="5.4" fill="#6495ED"/>
<path d="M1076.0,1199.9V1212.9" stroke="#6495ED" stroke-width="1.2"/><rect x="1073.4" y="1203.7" width="5.2" height="5.4" fill="#6495ED"/>
<path d="M1046.3,1224.4V1237.4" stroke="#6495ED" stroke-width="1.2"/><rect x="1043.7" y="1228.2" width="5.2" height="5.4" fill="#6495ED"/>
<path d="M1143.6,1087.8V1100.8" stroke="#6495ED" stroke-width="1.2"/><rect x="1141.0" y="1091.6" width="5.2" height="5.4" fill="#6495ED"/>
<line x1="1160.8" x2="1160.8" y1="1074.5" y2="1155.7" stroke="#6495ED" stroke-width="1.6"/>
<line x1="1160.8" x2="1160.8" y1="1077.0" y2="1153.2" stroke="#6495ED" stroke-width="5.6"/>
<path d="M1189.6,1103.6V1116.6" stroke="#6495ED" stroke-width="1.2"/><rect x="1187.0" y="1107.4" width="5.2" height="5.4" fill="#6495ED"/>
<path d="M1170.9,1156.8V1169.8" stroke="#6495ED" stroke-width="1.2"/><rect x="1168.3" y="1160.6" width="5.2" height="5.4" fill="#6495ED"/>
<path d="M1169.5,1158.2V1171.2" stroke="#6495ED" stroke-width="1.2"/><rect x="1166.9" y="1162.0" width="5.2" height="5.4" fill="#6495ED"/>
<path d="M1195.3,1156.8V1169.8" stroke="#6495ED" stroke-width="1.2"/><rect x="1192.7" y="1160.6" width="5.2" height="5.4" fill="#6495ED"/>
<path d="M1196.8,1176.9V1189.9" stroke="#6495ED" stroke-width="1.2"/><rect x="1194.2" y="1180.7" width="5.2" height="5.4" fill="#6495ED"/>
<path d="M1215.5,1185.6V1198.6" stroke="#6495ED" stroke-width="1.2"/><rect x="1212.9" y="1189.4" width="5.2" height="5.4" fill="#6495ED"/>
<path d="M1183.8,1194.2V1207.2" stroke="#6495ED" stroke-width="1.2"/><rect x="1181.2" y="1198.0" width="5.2" height="5.4" fill="#6495ED"/>
<path d="M1189.6,1192.8V1205.8" stroke="#6495ED" stroke-width="1.2"/><rect x="1187.0" y="1196.6" width="5.2" height="5.4" fill="#6495ED"/>
<path d="M1143.6,1202.8V1215.8" stroke="#6495ED" stroke-width="1.2"/><rect x="1141.0" y="1206.6" width="5.2" height="5.4" fill="#6495ED"/>
<path d="M1162.3,1215.8V1228.8" stroke="#6495ED" stroke-width="1.2"/><rect x="1159.7" y="1219.6" width="5.2" height="5.4" fill="#6495ED"/>
<path d="M1175.2,1228.7V1241.7" stroke="#6495ED" stroke-width="1.2"/><rect x="1172.6" y="1232.5" width="5.2" height="5.4" fill="#6495ED"/>
<path d="M1183.8,1227.3V1240.3" stroke="#6495ED" stroke-width="1.2"/><rect x="1181.2" y="1231.1" width="5.2" height="5.4" fill="#6495ED"/>
<path d="M1195.3,1221.5V1234.5" stroke="#6495ED" stroke-width="1.2"/><rect x="1192.7" y="1225.3" width="5.2" height="5.4" fill="#6495ED"/>
<path d="M1232.2,1235.9V1248.9" stroke="#6495ED" stroke-width="1.2"/><rect x="1229.6" y="1239.7" width="5.2" height="5.4" fill="#6495ED"/>
<path d="M1246.5,1155.4V1168.4" stroke="#6495ED" stroke-width="1.2"/><rect x="1243.9" y="1159.2" width="5.2" height="5.4" fill="#6495ED"/>
<path d="M1252.9,1215.8V1228.8" stroke="#6495ED" stroke-width="1.2"/><rect x="1250.3" y="1219.6" width="5.2" height="5.4" fill="#6495ED"/>
<path d="M1264.4,1204.3V1217.3" stroke="#6495ED" stroke-width="1.2"/><rect x="1261.8" y="1208.1" width="5.2" height="5.4" fill="#6495ED"/>
<path d="M1261.5,1233.0V1246.0" stroke="#6495ED" stroke-width="1.2"/><rect x="1258.9" y="1236.8" width="5.2" height="5.4" fill="#6495ED"/>
<path d="M1290.3,1221.5V1234.5" stroke="#6495ED" stroke-width="1.2"/><rect x="1287.7" y="1225.3" width="5.2" height="5.4" fill="#6495ED"/>
<path d="M1290.3,1233.0V1246.0" stroke="#6495ED" stroke-width="1.2"/><rect x="1287.7" y="1236.8" width="5.2" height="5.4" fill="#6495ED"/>
<path d="M1315.3,1168.3V1181.3" stroke="#6495ED" stroke-width="1.2"/><rect x="1312.7" y="1172.1" width="5.2" height="5.4" fill="#6495ED"/>
<path d="M1329.1,1176.9V1189.9" stroke="#6495ED" stroke-width="1.2"/><rect x="1326.5" y="1180.7" width="5.2" height="5.4" fill="#6495ED"/>
<path d="M1327.6,1198.5V1211.5" stroke="#6495ED" stroke-width="1.2"/><rect x="1325.0" y="1202.3" width="5.2" height="5.4" fill="#6495ED"/>
<path d="M1310.4,1227.3V1240.3" stroke="#6495ED" stroke-width="1.2"/><rect x="1307.8" y="1231.1" width="5.2" height="5.4" fill="#6495ED"/>
<path d="M1310.4,1256.0V1269.0" stroke="#6495ED" stroke-width="1.2"/><rect x="1307.8" y="1259.8" width="5.2" height="5.4" fill="#6495ED"/>
<path d="M1327.6,1241.7V1254.7" stroke="#6495ED" stroke-width="1.2"/><rect x="1325.0" y="1245.5" width="5.2" height="5.4" fill="#6495ED"/>
<path d="M1342.0,1207.1V1220.1" stroke="#6495ED" stroke-width="1.2"/><rect x="1339.4" y="1210.9" width="5.2" height="5.4" fill="#6495ED"/>
<path d="M1352.1,1161.1V1174.1" stroke="#6495ED" stroke-width="1.2"/><rect x="1349.5" y="1164.9" width="5.2" height="5.4" fill="#6495ED"/>
<path d="M1344.9,1176.9V1189.9" stroke="#6495ED" stroke-width="1.2"/><rect x="1342.3" y="1180.7" width="5.2" height="5.4" fill="#6495ED"/>
<path d="M1339.2,1240.2V1253.2" stroke="#6495ED" stroke-width="1.2"/><rect x="1336.6" y="1244.0" width="5.2" height="5.4" fill="#6495ED"/>
<path d="M1394.4,1168.3V1181.3" stroke="#6495ED" stroke-width="1.2"/><rect x="1391.8" y="1172.1" width="5.2" height="5.4" fill="#6495ED"/>
<path d="M1404.7,1198.5V1211.5" stroke="#6495ED" stroke-width="1.2"/><rect x="1402.1" y="1202.3" width="5.2" height="5.4" fill="#6495ED"/>
<path d="M1013.3,1281.1 L1023.3,1280.6 L1033.3,1280.0 L1043.4,1279.3 L1053.4,1278.5 L1063.5,1277.7 L1073.5,1276.8 L1083.5,1275.8 L1093.6,1274.8 L1103.6,1273.7 L1113.6,1272.5 L1123.7,1271.3 L1133.7,1270.0 L1143.8,1268.7 L1153.8,1267.2 L1163.8,1265.8 L1173.9,1264.2 L1183.9,1262.6 L1193.9,1261.0 L1204.0,1259.3 L1214.0,1257.5 L1224.1,1255.7 L1234.1,1253.8 L1244.1,1251.9 L1254.2,1249.9 L1264.2,1247.9 L1274.2,1245.8 L1284.3,1243.7 L1294.3,1241.6 L1304.4,1239.4 L1314.4,1237.1 L1324.4,1234.8 L1334.5,1232.5 L1344.5,1230.1 L1354.5,1227.7 L1364.6,1225.3 L1374.6,1222.8 L1384.7,1220.3 L1394.7,1217.8 L1404.7,1215.2" fill="none" stroke="#FF8C00" stroke-width="5.3"/>
<path d="M1013.3,1278.0 L1023.3,1276.7 L1033.3,1275.3 L1043.4,1274.0 L1053.4,1272.6 L1063.5,1271.2 L1073.5,1269.7 L1083.5,1268.2 L1093.6,1266.6 L1103.6,1265.0 L1113.6,1263.3 L1123.7,1261.6 L1133.7,1259.8 L1143.8,1257.9 L1153.8,1255.9 L1163.8,1253.9 L1173.9,1251.7 L1183.9,1249.5 L1193.9,1247.1 L1204.0,1244.7 L1214.0,1242.1 L1224.1,1239.4 L1234.1,1236.6 L1244.1,1233.7 L1254.2,1230.7 L1264.2,1227.5 L1274.2,1224.1 L1284.3,1220.6 L1294.3,1217.0 L1304.4,1213.2 L1314.4,1209.3 L1324.4,1205.1 L1334.5,1200.9 L1344.5,1196.4 L1354.5,1191.7 L1364.6,1186.9 L1374.6,1181.9 L1384.7,1176.6 L1394.7,1171.2 L1404.7,1165.6" fill="none" stroke="#32CD32" stroke-width="5.3"/>
<path d="M1013.3,1182.0 L1404.7,1210.8" fill="none" stroke="#6495ED" stroke-width="5.3" stroke-dasharray="10.2,10.2"/>
</g>
<text x="1013.4" y="960.2" font-family='"Liberation Sans", sans-serif' font-weight="bold" font-size="51.8" fill="#000">i</text>
<rect x="994.10" y="903.15" width="429.60" height="414.00" fill="none" stroke="#333" stroke-width="1.8"/>
<rect x="106.50" y="0.5" width="429.60" height="46.85" fill="#D9D9D9" stroke="#333" stroke-width="1.8"/>
<text transform="translate(321.30,33.9) scale(1,1.06)" text-anchor="middle" font-family='"Liberation Sans", sans-serif' font-size="28.0" fill="#1A1A1A">10 m × 10 m</text>
<rect x="550.20" y="0.5" width="429.60" height="46.85" fill="#D9D9D9" stroke="#333" stroke-width="1.8"/>
<text transform="translate(765.00,33.9) scale(1,1.06)" text-anchor="middle" font-family='"Liberation Sans", sans-serif' font-size="28.0" fill="#1A1A1A">20 m × 20 m</text>
<rect x="994.10" y="0.5" width="429.60" height="46.85" fill="#D9D9D9" stroke="#333" stroke-width="1.8"/>
<text transform="translate(1208.90,33.9) scale(1,1.06)" text-anchor="middle" font-family='"Liberation Sans", sans-serif' font-size="28.0" fill="#1A1A1A">50 m × 50 m</text>
<rect x="1423.70" y="47.35" width="70.30" height="414.00" fill="#D9D9D9" stroke="#333" stroke-width="1.8"/>
<g transform="translate(1448.5,254.85) rotate(90)"><text transform="translate(-41.95,0) scale(1.15,1)" x="0" y="0" font-family='"Liberation Serif", serif' font-size="43" fill="#1A1A1A">β</text><text x="-17.22" y="7.5" font-family='"Liberation Sans", sans-serif' font-size="30.7" fill="#1A1A1A">total</text></g>
<rect x="1423.70" y="475.15" width="70.30" height="414.00" fill="#D9D9D9" stroke="#333" stroke-width="1.8"/>
<g transform="translate(1448.5,682.65) rotate(90)"><text transform="translate(-70.02,0) scale(1.15,1)" x="0" y="0" font-family='"Liberation Serif", serif' font-size="43" fill="#1A1A1A">β</text><text x="-45.29" y="7.5" font-family='"Liberation Sans", sans-serif' font-size="30.7" fill="#1A1A1A">turnover</text></g>
<rect x="1423.70" y="903.15" width="70.30" height="414.00" fill="#D9D9D9" stroke="#333" stroke-width="1.8"/>
<g transform="translate(1448.5,1110.65) rotate(90)"><text transform="translate(-91.14,0) scale(1.15,1)" x="0" y="0" font-family='"Liberation Serif", serif' font-size="43" fill="#1A1A1A">β</text><text x="-67.98" y="7.5" font-family='"Liberation Sans", sans-serif' font-size="30.7" fill="#1A1A1A">nestedness</text></g>
<line x1="99.1" x2="106.50" y1="443.00" y2="443.00" stroke="#333" stroke-width="1.8"/>
<text transform="translate(94.3,453.60) scale(1,1.04)" text-anchor="end" font-family='"Liberation Sans", sans-serif' font-size="28.3" fill="#4D4D4D">0.00</text>
<line x1="99.1" x2="106.50" y1="348.68" y2="348.68" stroke="#333" stroke-width="1.8"/>
<text transform="translate(94.3,359.28) scale(1,1.04)" text-anchor="end" font-family='"Liberation Sans", sans-serif' font-size="28.3" fill="#4D4D4D">0.25</text>
<line x1="99.1" x2="106.50" y1="254.35" y2="254.35" stroke="#333" stroke-width="1.8"/>
<text transform="translate(94.3,264.95) scale(1,1.04)" text-anchor="end" font-family='"Liberation Sans", sans-serif' font-size="28.3" fill="#4D4D4D">0.50</text>
<line x1="99.1" x2="106.50" y1="160.03" y2="160.03" stroke="#333" stroke-width="1.8"/>
<text transform="translate(94.3,170.62) scale(1,1.04)" text-anchor="end" font-family='"Liberation Sans", sans-serif' font-size="28.3" fill="#4D4D4D">0.75</text>
<line x1="99.1" x2="106.50" y1="65.70" y2="65.70" stroke="#333" stroke-width="1.8"/>
<text transform="translate(94.3,76.30) scale(1,1.04)" text-anchor="end" font-family='"Liberation Sans", sans-serif' font-size="28.3" fill="#4D4D4D">1.00</text>
<line x1="99.1" x2="106.50" y1="870.80" y2="870.80" stroke="#333" stroke-width="1.8"/>
<text transform="translate(94.3,881.40) scale(1,1.04)" text-anchor="end" font-family='"Liberation Sans", sans-serif' font-size="28.3" fill="#4D4D4D">0.00</text>
<line x1="99.1" x2="106.50" y1="776.48" y2="776.48" stroke="#333" stroke-width="1.8"/>
<text transform="translate(94.3,787.08) scale(1,1.04)" text-anchor="end" font-family='"Liberation Sans", sans-serif' font-size="28.3" fill="#4D4D4D">0.25</text>
<line x1="99.1" x2="106.50" y1="682.15" y2="682.15" stroke="#333" stroke-width="1.8"/>
<text transform="translate(94.3,692.75) scale(1,1.04)" text-anchor="end" font-family='"Liberation Sans", sans-serif' font-size="28.3" fill="#4D4D4D">0.50</text>
<line x1="99.1" x2="106.50" y1="587.83" y2="587.83" stroke="#333" stroke-width="1.8"/>
<text transform="translate(94.3,598.43) scale(1,1.04)" text-anchor="end" font-family='"Liberation Sans", sans-serif' font-size="28.3" fill="#4D4D4D">0.75</text>
<line x1="99.1" x2="106.50" y1="493.50" y2="493.50" stroke="#333" stroke-width="1.8"/>
<text transform="translate(94.3,504.10) scale(1,1.04)" text-anchor="end" font-family='"Liberation Sans", sans-serif' font-size="28.3" fill="#4D4D4D">1.00</text>
<line x1="99.1" x2="106.50" y1="1298.80" y2="1298.80" stroke="#333" stroke-width="1.8"/>
<text transform="translate(94.3,1309.40) scale(1,1.04)" text-anchor="end" font-family='"Liberation Sans", sans-serif' font-size="28.3" fill="#4D4D4D">0.00</text>
<line x1="99.1" x2="106.50" y1="1204.47" y2="1204.47" stroke="#333" stroke-width="1.8"/>
<text transform="translate(94.3,1215.07) scale(1,1.04)" text-anchor="end" font-family='"Liberation Sans", sans-serif' font-size="28.3" fill="#4D4D4D">0.25</text>
<line x1="99.1" x2="106.50" y1="1110.15" y2="1110.15" stroke="#333" stroke-width="1.8"/>
<text transform="translate(94.3,1120.75) scale(1,1.04)" text-anchor="end" font-family='"Liberation Sans", sans-serif' font-size="28.3" fill="#4D4D4D">0.50</text>
<line x1="99.1" x2="106.50" y1="1015.83" y2="1015.83" stroke="#333" stroke-width="1.8"/>
<text transform="translate(94.3,1026.42) scale(1,1.04)" text-anchor="end" font-family='"Liberation Sans", sans-serif' font-size="28.3" fill="#4D4D4D">0.75</text>
<line x1="99.1" x2="106.50" y1="921.50" y2="921.50" stroke="#333" stroke-width="1.8"/>
<text transform="translate(94.3,932.10) scale(1,1.04)" text-anchor="end" font-family='"Liberation Sans", sans-serif' font-size="28.3" fill="#4D4D4D">1.00</text>
<line x1="125.40" x2="125.40" y1="1317.15" y2="1324.05" stroke="#333" stroke-width="1.8"/>
<text transform="translate(125.40,1349.8) scale(1,1.05)" text-anchor="middle" font-family='"Liberation Sans", sans-serif' font-size="28.3" fill="#4D4D4D">0</text>
<line x1="245.40" x2="245.40" y1="1317.15" y2="1324.05" stroke="#333" stroke-width="1.8"/>
<text transform="translate(245.40,1349.8) scale(1,1.05)" text-anchor="middle" font-family='"Liberation Sans", sans-serif' font-size="28.3" fill="#4D4D4D">20</text>
<line x1="365.40" x2="365.40" y1="1317.15" y2="1324.05" stroke="#333" stroke-width="1.8"/>
<text transform="translate(365.40,1349.8) scale(1,1.05)" text-anchor="middle" font-family='"Liberation Sans", sans-serif' font-size="28.3" fill="#4D4D4D">40</text>
<line x1="485.40" x2="485.40" y1="1317.15" y2="1324.05" stroke="#333" stroke-width="1.8"/>
<text transform="translate(485.40,1349.8) scale(1,1.05)" text-anchor="middle" font-family='"Liberation Sans", sans-serif' font-size="28.3" fill="#4D4D4D">60</text>
<line x1="569.10" x2="569.10" y1="1317.15" y2="1324.05" stroke="#333" stroke-width="1.8"/>
<text transform="translate(569.10,1349.8) scale(1,1.05)" text-anchor="middle" font-family='"Liberation Sans", sans-serif' font-size="28.3" fill="#4D4D4D">0</text>
<line x1="689.10" x2="689.10" y1="1317.15" y2="1324.05" stroke="#333" stroke-width="1.8"/>
<text transform="translate(689.10,1349.8) scale(1,1.05)" text-anchor="middle" font-family='"Liberation Sans", sans-serif' font-size="28.3" fill="#4D4D4D">20</text>
<line x1="809.10" x2="809.10" y1="1317.15" y2="1324.05" stroke="#333" stroke-width="1.8"/>
<text transform="translate(809.10,1349.8) scale(1,1.05)" text-anchor="middle" font-family='"Liberation Sans", sans-serif' font-size="28.3" fill="#4D4D4D">40</text>
<line x1="929.10" x2="929.10" y1="1317.15" y2="1324.05" stroke="#333" stroke-width="1.8"/>
<text transform="translate(929.10,1349.8) scale(1,1.05)" text-anchor="middle" font-family='"Liberation Sans", sans-serif' font-size="28.3" fill="#4D4D4D">60</text>
<line x1="1013.00" x2="1013.00" y1="1317.15" y2="1324.05" stroke="#333" stroke-width="1.8"/>
<text transform="translate(1013.00,1349.8) scale(1,1.05)" text-anchor="middle" font-family='"Liberation Sans", sans-serif' font-size="28.3" fill="#4D4D4D">0</text>
<line x1="1133.00" x2="1133.00" y1="1317.15" y2="1324.05" stroke="#333" stroke-width="1.8"/>
<text transform="translate(1133.00,1349.8) scale(1,1.05)" text-anchor="middle" font-family='"Liberation Sans", sans-serif' font-size="28.3" fill="#4D4D4D">20</text>
<line x1="1253.00" x2="1253.00" y1="1317.15" y2="1324.05" stroke="#333" stroke-width="1.8"/>
<text transform="translate(1253.00,1349.8) scale(1,1.05)" text-anchor="middle" font-family='"Liberation Sans", sans-serif' font-size="28.3" fill="#4D4D4D">40</text>
<line x1="1373.00" x2="1373.00" y1="1317.15" y2="1324.05" stroke="#333" stroke-width="1.8"/>
<text transform="translate(1373.00,1349.8) scale(1,1.05)" text-anchor="middle" font-family='"Liberation Sans", sans-serif' font-size="28.3" fill="#4D4D4D">60</text>
<text x="765" y="1387" text-anchor="middle" font-family='"Liberation Sans", sans-serif' font-size="35.2" fill="#000">Adjusted latitude (°)</text>
<text transform="translate(25.3,682.5) rotate(-90)" x="0" y="0" text-anchor="middle" font-family='"Liberation Sans", sans-serif' font-size="35.2" fill="#000">Beta component</text>
<rect x="235.5" y="1441.5" width="40.6" height="40.6" fill="#E0E0E0"/><circle cx="255.8" cy="1461.8" r="14.4" fill="#FF8C00" fill-opacity="0.8"/><line x1="239.5" x2="272.1" y1="1461.8" y2="1461.8" stroke="#FF8C00" stroke-width="5.3"/>
<text transform="translate(294.2,1472) scale(1,1.04)" font-family='"Liberation Sans", sans-serif' font-size="28.3" fill="#000">All trees</text>
<rect x="412.8" y="1441.5" width="40.6" height="40.6" fill="#E0E0E0"/><circle cx="433.1" cy="1461.8" r="14.4" fill="#32CD32" fill-opacity="0.8"/><line x1="416.8" x2="449.4" y1="1461.8" y2="1461.8" stroke="#32CD32" stroke-width="5.3"/>
<text transform="translate(471.5,1472) scale(1,1.04)" font-family='"Liberation Sans", sans-serif' font-size="28.3" fill="#000">AM trees</text>
<rect x="601.2" y="1441.5" width="40.6" height="40.6" fill="#E0E0E0"/><circle cx="621.5" cy="1461.8" r="14.4" fill="#6495ED" fill-opacity="0.8"/><line x1="605.2" x2="637.8" y1="1461.8" y2="1461.8" stroke="#6495ED" stroke-width="5.3"/>
<text transform="translate(660,1472) scale(1,1.04)" font-family='"Liberation Sans", sans-serif' font-size="28.3" fill="#000">EcM trees</text>
<rect x="855.3" y="1441.5" width="40.6" height="40.6" fill="#E0E0E0"/><line x1="859.3" x2="891.9" y1="1461.8" y2="1461.8" stroke="#000" stroke-width="5.3"/>
<text transform="translate(913.5,1472) scale(1,1.04)" font-family='"Liberation Sans", sans-serif' font-size="28.3" fill="#000">Significant</text>
<rect x="1060.8" y="1441.5" width="40.6" height="40.6" fill="#E0E0E0"/><line x1="1064.8" x2="1097.4" y1="1461.8" y2="1461.8" stroke="#000" stroke-width="5.3" stroke-dasharray="10.2,10.2"/>
<text transform="translate(1119.5,1472) scale(1,1.04)" font-family='"Liberation Sans", sans-serif' font-size="28.3" fill="#000">Non−significant</text>
</svg></body></html>
